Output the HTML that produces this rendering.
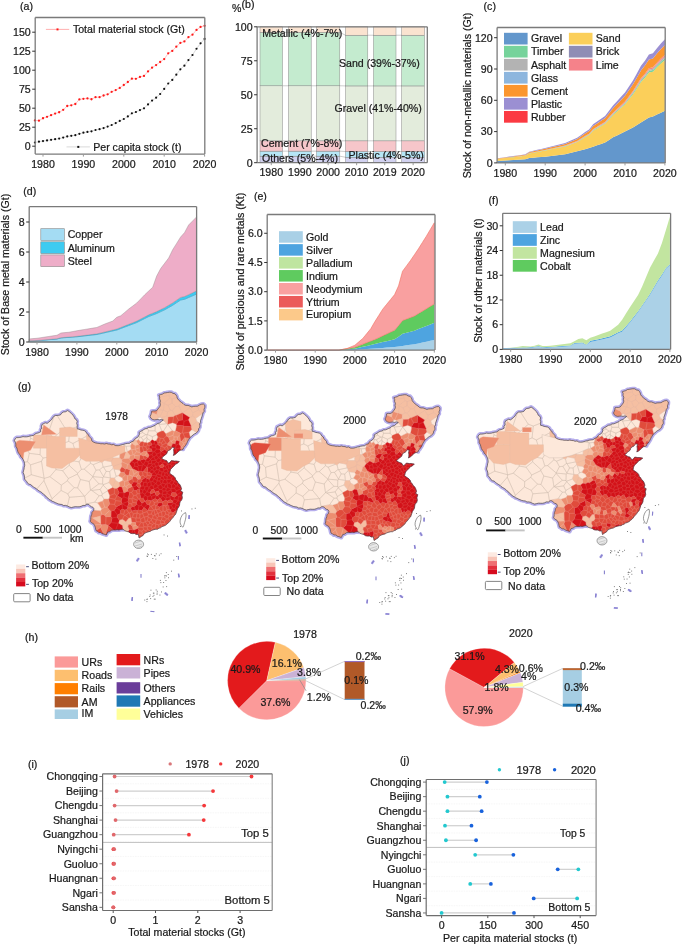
<!DOCTYPE html><html><head><meta charset="utf-8"><style>html,body{margin:0;padding:0;background:#fff;}svg{display:block;font-family:"Liberation Sans",sans-serif;filter:blur(0.3px);} text{stroke:#1a1a1a;stroke-width:0.22px;}</style></head><body>
<svg width="685" height="945" viewBox="0 0 685 945">
<rect x="0" y="0" width="685" height="945" fill="#fff"/>
<text x="20.00" y="9.80" font-size="10.6" text-anchor="start" fill="#1a1a1a" >(a)</text>
<polyline points="34.92,120.44 38.96,120.66 43.00,118.23 47.04,116.79 51.08,115.19 55.12,113.60 59.16,112.23 63.20,109.87 67.24,106.00 71.28,105.31 75.32,104.02 79.36,99.38 83.40,98.78 87.44,98.47 91.48,99.23 95.52,97.18 99.56,97.18 103.60,95.51 107.64,94.37 111.68,91.78 115.72,90.11 119.76,87.91 123.80,85.02 127.84,81.98 131.88,78.71 135.92,78.79 139.96,76.89 144.00,75.90 148.04,71.42 152.08,67.69 156.12,65.03 160.16,61.99 164.20,59.10 168.24,53.33 172.28,50.90 176.32,46.72 180.36,42.92 184.40,41.47 188.44,37.22 192.48,34.63 196.52,29.92 200.56,26.88 204.60,25.82" fill="none" stroke="#ff9a9a" stroke-width="0.6" />
<polyline points="34.92,142.48 38.96,141.72 43.00,141.03 47.04,140.42 51.08,139.82 55.12,139.21 59.16,138.60 63.20,137.54 67.24,136.47 71.28,135.86 75.32,135.18 79.36,133.81 83.40,132.67 87.44,131.91 91.48,131.30 95.52,130.01 99.56,129.18 103.60,128.11 107.64,126.59 111.68,125.00 115.72,123.10 119.76,120.89 123.80,118.99 127.84,116.41 131.88,113.37 135.92,112.00 139.96,110.10 144.00,108.28 148.04,104.40 152.08,100.60 156.12,97.71 160.16,93.99 164.20,88.90 168.24,83.50 172.28,79.93 176.32,74.68 180.36,69.29 184.40,65.72 188.44,60.09 192.48,55.00 196.52,48.77 200.56,43.37 204.60,38.96" fill="none" stroke="#bdbdbd" stroke-width="0.6" />
<circle cx="34.92" cy="120.44" r="1.15" fill="#ff1a1a"/>
<circle cx="38.96" cy="120.66" r="1.15" fill="#ff1a1a"/>
<circle cx="43.00" cy="118.23" r="1.15" fill="#ff1a1a"/>
<circle cx="47.04" cy="116.79" r="1.15" fill="#ff1a1a"/>
<circle cx="51.08" cy="115.19" r="1.15" fill="#ff1a1a"/>
<circle cx="55.12" cy="113.60" r="1.15" fill="#ff1a1a"/>
<circle cx="59.16" cy="112.23" r="1.15" fill="#ff1a1a"/>
<circle cx="63.20" cy="109.87" r="1.15" fill="#ff1a1a"/>
<circle cx="67.24" cy="106.00" r="1.15" fill="#ff1a1a"/>
<circle cx="71.28" cy="105.31" r="1.15" fill="#ff1a1a"/>
<circle cx="75.32" cy="104.02" r="1.15" fill="#ff1a1a"/>
<circle cx="79.36" cy="99.38" r="1.15" fill="#ff1a1a"/>
<circle cx="83.40" cy="98.78" r="1.15" fill="#ff1a1a"/>
<circle cx="87.44" cy="98.47" r="1.15" fill="#ff1a1a"/>
<circle cx="91.48" cy="99.23" r="1.15" fill="#ff1a1a"/>
<circle cx="95.52" cy="97.18" r="1.15" fill="#ff1a1a"/>
<circle cx="99.56" cy="97.18" r="1.15" fill="#ff1a1a"/>
<circle cx="103.60" cy="95.51" r="1.15" fill="#ff1a1a"/>
<circle cx="107.64" cy="94.37" r="1.15" fill="#ff1a1a"/>
<circle cx="111.68" cy="91.78" r="1.15" fill="#ff1a1a"/>
<circle cx="115.72" cy="90.11" r="1.15" fill="#ff1a1a"/>
<circle cx="119.76" cy="87.91" r="1.15" fill="#ff1a1a"/>
<circle cx="123.80" cy="85.02" r="1.15" fill="#ff1a1a"/>
<circle cx="127.84" cy="81.98" r="1.15" fill="#ff1a1a"/>
<circle cx="131.88" cy="78.71" r="1.15" fill="#ff1a1a"/>
<circle cx="135.92" cy="78.79" r="1.15" fill="#ff1a1a"/>
<circle cx="139.96" cy="76.89" r="1.15" fill="#ff1a1a"/>
<circle cx="144.00" cy="75.90" r="1.15" fill="#ff1a1a"/>
<circle cx="148.04" cy="71.42" r="1.15" fill="#ff1a1a"/>
<circle cx="152.08" cy="67.69" r="1.15" fill="#ff1a1a"/>
<circle cx="156.12" cy="65.03" r="1.15" fill="#ff1a1a"/>
<circle cx="160.16" cy="61.99" r="1.15" fill="#ff1a1a"/>
<circle cx="164.20" cy="59.10" r="1.15" fill="#ff1a1a"/>
<circle cx="168.24" cy="53.33" r="1.15" fill="#ff1a1a"/>
<circle cx="172.28" cy="50.90" r="1.15" fill="#ff1a1a"/>
<circle cx="176.32" cy="46.72" r="1.15" fill="#ff1a1a"/>
<circle cx="180.36" cy="42.92" r="1.15" fill="#ff1a1a"/>
<circle cx="184.40" cy="41.47" r="1.15" fill="#ff1a1a"/>
<circle cx="188.44" cy="37.22" r="1.15" fill="#ff1a1a"/>
<circle cx="192.48" cy="34.63" r="1.15" fill="#ff1a1a"/>
<circle cx="196.52" cy="29.92" r="1.15" fill="#ff1a1a"/>
<circle cx="200.56" cy="26.88" r="1.15" fill="#ff1a1a"/>
<circle cx="204.60" cy="25.82" r="1.15" fill="#ff1a1a"/>
<circle cx="34.92" cy="142.48" r="1.1" fill="#111"/>
<circle cx="38.96" cy="141.72" r="1.1" fill="#111"/>
<circle cx="43.00" cy="141.03" r="1.1" fill="#111"/>
<circle cx="47.04" cy="140.42" r="1.1" fill="#111"/>
<circle cx="51.08" cy="139.82" r="1.1" fill="#111"/>
<circle cx="55.12" cy="139.21" r="1.1" fill="#111"/>
<circle cx="59.16" cy="138.60" r="1.1" fill="#111"/>
<circle cx="63.20" cy="137.54" r="1.1" fill="#111"/>
<circle cx="67.24" cy="136.47" r="1.1" fill="#111"/>
<circle cx="71.28" cy="135.86" r="1.1" fill="#111"/>
<circle cx="75.32" cy="135.18" r="1.1" fill="#111"/>
<circle cx="79.36" cy="133.81" r="1.1" fill="#111"/>
<circle cx="83.40" cy="132.67" r="1.1" fill="#111"/>
<circle cx="87.44" cy="131.91" r="1.1" fill="#111"/>
<circle cx="91.48" cy="131.30" r="1.1" fill="#111"/>
<circle cx="95.52" cy="130.01" r="1.1" fill="#111"/>
<circle cx="99.56" cy="129.18" r="1.1" fill="#111"/>
<circle cx="103.60" cy="128.11" r="1.1" fill="#111"/>
<circle cx="107.64" cy="126.59" r="1.1" fill="#111"/>
<circle cx="111.68" cy="125.00" r="1.1" fill="#111"/>
<circle cx="115.72" cy="123.10" r="1.1" fill="#111"/>
<circle cx="119.76" cy="120.89" r="1.1" fill="#111"/>
<circle cx="123.80" cy="118.99" r="1.1" fill="#111"/>
<circle cx="127.84" cy="116.41" r="1.1" fill="#111"/>
<circle cx="131.88" cy="113.37" r="1.1" fill="#111"/>
<circle cx="135.92" cy="112.00" r="1.1" fill="#111"/>
<circle cx="139.96" cy="110.10" r="1.1" fill="#111"/>
<circle cx="144.00" cy="108.28" r="1.1" fill="#111"/>
<circle cx="148.04" cy="104.40" r="1.1" fill="#111"/>
<circle cx="152.08" cy="100.60" r="1.1" fill="#111"/>
<circle cx="156.12" cy="97.71" r="1.1" fill="#111"/>
<circle cx="160.16" cy="93.99" r="1.1" fill="#111"/>
<circle cx="164.20" cy="88.90" r="1.1" fill="#111"/>
<circle cx="168.24" cy="83.50" r="1.1" fill="#111"/>
<circle cx="172.28" cy="79.93" r="1.1" fill="#111"/>
<circle cx="176.32" cy="74.68" r="1.1" fill="#111"/>
<circle cx="180.36" cy="69.29" r="1.1" fill="#111"/>
<circle cx="184.40" cy="65.72" r="1.1" fill="#111"/>
<circle cx="188.44" cy="60.09" r="1.1" fill="#111"/>
<circle cx="192.48" cy="55.00" r="1.1" fill="#111"/>
<circle cx="196.52" cy="48.77" r="1.1" fill="#111"/>
<circle cx="200.56" cy="43.37" r="1.1" fill="#111"/>
<circle cx="204.60" cy="38.96" r="1.1" fill="#111"/>
<line x1="35.20" y1="17.50" x2="35.20" y2="154.10" stroke="#7a7a7a" stroke-width="1.3" />
<line x1="35.20" y1="154.10" x2="204.80" y2="154.10" stroke="#7a7a7a" stroke-width="1.3" />
<line x1="35.20" y1="17.50" x2="204.80" y2="17.50" stroke="#7a7a7a" stroke-width="1.3" />
<line x1="204.80" y1="17.50" x2="204.80" y2="154.10" stroke="#7a7a7a" stroke-width="1.3" />
<line x1="32.20" y1="146.20" x2="35.20" y2="146.20" stroke="#333" stroke-width="1" />
<text x="30.70" y="150.00" font-size="10.6" text-anchor="end" fill="#1a1a1a" >0</text>
<line x1="32.20" y1="127.20" x2="35.20" y2="127.20" stroke="#333" stroke-width="1" />
<text x="30.70" y="131.00" font-size="10.6" text-anchor="end" fill="#1a1a1a" >25</text>
<line x1="32.20" y1="108.20" x2="35.20" y2="108.20" stroke="#333" stroke-width="1" />
<text x="30.70" y="112.00" font-size="10.6" text-anchor="end" fill="#1a1a1a" >50</text>
<line x1="32.20" y1="89.20" x2="35.20" y2="89.20" stroke="#333" stroke-width="1" />
<text x="30.70" y="93.00" font-size="10.6" text-anchor="end" fill="#1a1a1a" >75</text>
<line x1="32.20" y1="70.20" x2="35.20" y2="70.20" stroke="#333" stroke-width="1" />
<text x="30.70" y="74.00" font-size="10.6" text-anchor="end" fill="#1a1a1a" >100</text>
<line x1="32.20" y1="51.20" x2="35.20" y2="51.20" stroke="#333" stroke-width="1" />
<text x="30.70" y="55.00" font-size="10.6" text-anchor="end" fill="#1a1a1a" >125</text>
<line x1="32.20" y1="32.20" x2="35.20" y2="32.20" stroke="#333" stroke-width="1" />
<text x="30.70" y="36.00" font-size="10.6" text-anchor="end" fill="#1a1a1a" >150</text>
<line x1="43.00" y1="154.10" x2="43.00" y2="156.60" stroke="#999" stroke-width="1" />
<text x="43.00" y="167.70" font-size="10.6" text-anchor="middle" fill="#1a1a1a" >1980</text>
<line x1="83.40" y1="154.10" x2="83.40" y2="156.60" stroke="#999" stroke-width="1" />
<text x="83.40" y="167.70" font-size="10.6" text-anchor="middle" fill="#1a1a1a" >1990</text>
<line x1="123.80" y1="154.10" x2="123.80" y2="156.60" stroke="#999" stroke-width="1" />
<text x="123.80" y="167.70" font-size="10.6" text-anchor="middle" fill="#1a1a1a" >2000</text>
<line x1="164.20" y1="154.10" x2="164.20" y2="156.60" stroke="#999" stroke-width="1" />
<text x="164.20" y="167.70" font-size="10.6" text-anchor="middle" fill="#1a1a1a" >2010</text>
<line x1="204.60" y1="154.10" x2="204.60" y2="156.60" stroke="#999" stroke-width="1" />
<text x="204.60" y="167.70" font-size="10.6" text-anchor="middle" fill="#1a1a1a" >2020</text>
<line x1="45.90" y1="29.40" x2="69.20" y2="29.40" stroke="#ff9a9a" stroke-width="0.8" />
<rect x="56.50" y="28.40" width="2.00" height="2.00" fill="#ff1a1a" stroke="none" stroke-width="0" />
<text x="72.90" y="33.30" font-size="10.6" text-anchor="start" fill="#1a1a1a" >Total material stock (Gt)</text>
<line x1="66.50" y1="146.90" x2="89.90" y2="146.90" stroke="#cfcfcf" stroke-width="0.8" />
<rect x="77.30" y="145.90" width="2.00" height="2.00" fill="#111" stroke="none" stroke-width="0" />
<text x="93.20" y="150.90" font-size="10.6" text-anchor="start" fill="#1a1a1a" >Per capita stock (t)</text>
<text x="232" y="11.5" font-size="10.6" fill="#1a1a1a">%</text>
<text x="241.60" y="7.60" font-size="10.6" text-anchor="start" fill="#1a1a1a" >(b)</text>
<rect x="260.00" y="156.18" width="22.50" height="6.52" fill="#d2d2f0" stroke="#8a8a8a" stroke-width="0.5" />
<rect x="260.00" y="151.15" width="22.50" height="5.03" fill="#b6e6f6" stroke="#8a8a8a" stroke-width="0.5" />
<rect x="260.00" y="140.82" width="22.50" height="10.33" fill="#f6c6ca" stroke="#8a8a8a" stroke-width="0.5" />
<rect x="260.00" y="85.78" width="22.50" height="55.04" fill="#e3ecdc" stroke="#8a8a8a" stroke-width="0.5" />
<rect x="260.00" y="32.37" width="22.50" height="53.41" fill="#c4ebcf" stroke="#8a8a8a" stroke-width="0.5" />
<rect x="260.00" y="26.80" width="22.50" height="5.57" fill="#fae3d0" stroke="#8a8a8a" stroke-width="0.5" />
<rect x="288.40" y="156.18" width="22.80" height="6.52" fill="#d2d2f0" stroke="#8a8a8a" stroke-width="0.5" />
<rect x="288.40" y="151.15" width="22.80" height="5.03" fill="#b6e6f6" stroke="#8a8a8a" stroke-width="0.5" />
<rect x="288.40" y="140.82" width="22.80" height="10.33" fill="#f6c6ca" stroke="#8a8a8a" stroke-width="0.5" />
<rect x="288.40" y="85.78" width="22.80" height="55.04" fill="#e3ecdc" stroke="#8a8a8a" stroke-width="0.5" />
<rect x="288.40" y="32.37" width="22.80" height="53.41" fill="#c4ebcf" stroke="#8a8a8a" stroke-width="0.5" />
<rect x="288.40" y="26.80" width="22.80" height="5.57" fill="#fae3d0" stroke="#8a8a8a" stroke-width="0.5" />
<rect x="316.50" y="156.18" width="23.30" height="6.52" fill="#d2d2f0" stroke="#8a8a8a" stroke-width="0.5" />
<rect x="316.50" y="151.15" width="23.30" height="5.03" fill="#b6e6f6" stroke="#8a8a8a" stroke-width="0.5" />
<rect x="316.50" y="140.82" width="23.30" height="10.33" fill="#f6c6ca" stroke="#8a8a8a" stroke-width="0.5" />
<rect x="316.50" y="85.78" width="23.30" height="55.04" fill="#e3ecdc" stroke="#8a8a8a" stroke-width="0.5" />
<rect x="316.50" y="32.37" width="23.30" height="53.41" fill="#c4ebcf" stroke="#8a8a8a" stroke-width="0.5" />
<rect x="316.50" y="26.80" width="23.30" height="5.57" fill="#fae3d0" stroke="#8a8a8a" stroke-width="0.5" />
<rect x="345.50" y="157.26" width="22.30" height="5.44" fill="#d2d2f0" stroke="#8a8a8a" stroke-width="0.5" />
<rect x="345.50" y="151.56" width="22.30" height="5.71" fill="#b6e6f6" stroke="#8a8a8a" stroke-width="0.5" />
<rect x="345.50" y="140.82" width="22.30" height="10.74" fill="#f6c6ca" stroke="#8a8a8a" stroke-width="0.5" />
<rect x="345.50" y="85.92" width="22.30" height="54.90" fill="#e3ecdc" stroke="#8a8a8a" stroke-width="0.5" />
<rect x="345.50" y="35.23" width="22.30" height="50.69" fill="#c4ebcf" stroke="#8a8a8a" stroke-width="0.5" />
<rect x="345.50" y="26.80" width="22.30" height="8.43" fill="#fae3d0" stroke="#8a8a8a" stroke-width="0.5" />
<rect x="373.50" y="157.26" width="22.50" height="5.44" fill="#d2d2f0" stroke="#8a8a8a" stroke-width="0.5" />
<rect x="373.50" y="151.56" width="22.50" height="5.71" fill="#b6e6f6" stroke="#8a8a8a" stroke-width="0.5" />
<rect x="373.50" y="140.82" width="22.50" height="10.74" fill="#f6c6ca" stroke="#8a8a8a" stroke-width="0.5" />
<rect x="373.50" y="85.92" width="22.50" height="54.90" fill="#e3ecdc" stroke="#8a8a8a" stroke-width="0.5" />
<rect x="373.50" y="35.23" width="22.50" height="50.69" fill="#c4ebcf" stroke="#8a8a8a" stroke-width="0.5" />
<rect x="373.50" y="26.80" width="22.50" height="8.43" fill="#fae3d0" stroke="#8a8a8a" stroke-width="0.5" />
<rect x="401.60" y="157.26" width="23.10" height="5.44" fill="#d2d2f0" stroke="#8a8a8a" stroke-width="0.5" />
<rect x="401.60" y="151.56" width="23.10" height="5.71" fill="#b6e6f6" stroke="#8a8a8a" stroke-width="0.5" />
<rect x="401.60" y="140.82" width="23.10" height="10.74" fill="#f6c6ca" stroke="#8a8a8a" stroke-width="0.5" />
<rect x="401.60" y="85.92" width="23.10" height="54.90" fill="#e3ecdc" stroke="#8a8a8a" stroke-width="0.5" />
<rect x="401.60" y="35.23" width="23.10" height="50.69" fill="#c4ebcf" stroke="#8a8a8a" stroke-width="0.5" />
<rect x="401.60" y="26.80" width="23.10" height="8.43" fill="#fae3d0" stroke="#8a8a8a" stroke-width="0.5" />
<line x1="282.50" y1="156.18" x2="288.40" y2="156.18" stroke="#9a9a9a" stroke-width="0.5" />
<line x1="282.50" y1="151.15" x2="288.40" y2="151.15" stroke="#9a9a9a" stroke-width="0.5" />
<line x1="282.50" y1="140.82" x2="288.40" y2="140.82" stroke="#9a9a9a" stroke-width="0.5" />
<line x1="282.50" y1="85.78" x2="288.40" y2="85.78" stroke="#9a9a9a" stroke-width="0.5" />
<line x1="282.50" y1="32.37" x2="288.40" y2="32.37" stroke="#9a9a9a" stroke-width="0.5" />
<line x1="311.20" y1="156.18" x2="316.50" y2="156.18" stroke="#9a9a9a" stroke-width="0.5" />
<line x1="311.20" y1="151.15" x2="316.50" y2="151.15" stroke="#9a9a9a" stroke-width="0.5" />
<line x1="311.20" y1="140.82" x2="316.50" y2="140.82" stroke="#9a9a9a" stroke-width="0.5" />
<line x1="311.20" y1="85.78" x2="316.50" y2="85.78" stroke="#9a9a9a" stroke-width="0.5" />
<line x1="311.20" y1="32.37" x2="316.50" y2="32.37" stroke="#9a9a9a" stroke-width="0.5" />
<line x1="339.80" y1="156.18" x2="345.50" y2="157.26" stroke="#9a9a9a" stroke-width="0.5" />
<line x1="339.80" y1="151.15" x2="345.50" y2="151.56" stroke="#9a9a9a" stroke-width="0.5" />
<line x1="339.80" y1="140.82" x2="345.50" y2="140.82" stroke="#9a9a9a" stroke-width="0.5" />
<line x1="339.80" y1="85.78" x2="345.50" y2="85.92" stroke="#9a9a9a" stroke-width="0.5" />
<line x1="339.80" y1="32.37" x2="345.50" y2="35.23" stroke="#9a9a9a" stroke-width="0.5" />
<line x1="367.80" y1="157.26" x2="373.50" y2="157.26" stroke="#9a9a9a" stroke-width="0.5" />
<line x1="367.80" y1="151.56" x2="373.50" y2="151.56" stroke="#9a9a9a" stroke-width="0.5" />
<line x1="367.80" y1="140.82" x2="373.50" y2="140.82" stroke="#9a9a9a" stroke-width="0.5" />
<line x1="367.80" y1="85.92" x2="373.50" y2="85.92" stroke="#9a9a9a" stroke-width="0.5" />
<line x1="367.80" y1="35.23" x2="373.50" y2="35.23" stroke="#9a9a9a" stroke-width="0.5" />
<line x1="396.00" y1="157.26" x2="401.60" y2="157.26" stroke="#9a9a9a" stroke-width="0.5" />
<line x1="396.00" y1="151.56" x2="401.60" y2="151.56" stroke="#9a9a9a" stroke-width="0.5" />
<line x1="396.00" y1="140.82" x2="401.60" y2="140.82" stroke="#9a9a9a" stroke-width="0.5" />
<line x1="396.00" y1="85.92" x2="401.60" y2="85.92" stroke="#9a9a9a" stroke-width="0.5" />
<line x1="396.00" y1="35.23" x2="401.60" y2="35.23" stroke="#9a9a9a" stroke-width="0.5" />
<line x1="257.10" y1="26.80" x2="257.10" y2="162.70" stroke="#7a7a7a" stroke-width="1.3" />
<line x1="257.10" y1="162.70" x2="427.30" y2="162.70" stroke="#7a7a7a" stroke-width="1.3" />
<line x1="257.10" y1="26.80" x2="427.30" y2="26.80" stroke="#7a7a7a" stroke-width="1.3" />
<line x1="427.30" y1="26.80" x2="427.30" y2="162.70" stroke="#7a7a7a" stroke-width="1.3" />
<line x1="254.10" y1="162.70" x2="257.10" y2="162.70" stroke="#333" stroke-width="1" />
<text x="252.60" y="166.50" font-size="10.6" text-anchor="end" fill="#1a1a1a" >0</text>
<line x1="254.10" y1="128.72" x2="257.10" y2="128.72" stroke="#333" stroke-width="1" />
<text x="252.60" y="132.53" font-size="10.6" text-anchor="end" fill="#1a1a1a" >25</text>
<line x1="254.10" y1="94.75" x2="257.10" y2="94.75" stroke="#333" stroke-width="1" />
<text x="252.60" y="98.55" font-size="10.6" text-anchor="end" fill="#1a1a1a" >50</text>
<line x1="254.10" y1="60.77" x2="257.10" y2="60.77" stroke="#333" stroke-width="1" />
<text x="252.60" y="64.57" font-size="10.6" text-anchor="end" fill="#1a1a1a" >75</text>
<line x1="254.10" y1="26.80" x2="257.10" y2="26.80" stroke="#333" stroke-width="1" />
<text x="252.60" y="30.60" font-size="10.6" text-anchor="end" fill="#1a1a1a" >100</text>
<line x1="271.25" y1="162.70" x2="271.25" y2="165.20" stroke="#999" stroke-width="1" />
<text x="271.25" y="176.00" font-size="10.6" text-anchor="middle" fill="#1a1a1a" >1980</text>
<line x1="299.80" y1="162.70" x2="299.80" y2="165.20" stroke="#999" stroke-width="1" />
<text x="299.80" y="176.00" font-size="10.6" text-anchor="middle" fill="#1a1a1a" >1990</text>
<line x1="328.15" y1="162.70" x2="328.15" y2="165.20" stroke="#999" stroke-width="1" />
<text x="328.15" y="176.00" font-size="10.6" text-anchor="middle" fill="#1a1a1a" >2000</text>
<line x1="356.65" y1="162.70" x2="356.65" y2="165.20" stroke="#999" stroke-width="1" />
<text x="356.65" y="176.00" font-size="10.6" text-anchor="middle" fill="#1a1a1a" >2010</text>
<line x1="384.75" y1="162.70" x2="384.75" y2="165.20" stroke="#999" stroke-width="1" />
<text x="384.75" y="176.00" font-size="10.6" text-anchor="middle" fill="#1a1a1a" >2019</text>
<line x1="413.15" y1="162.70" x2="413.15" y2="165.20" stroke="#999" stroke-width="1" />
<text x="413.15" y="176.00" font-size="10.6" text-anchor="middle" fill="#1a1a1a" >2020</text>
<text x="262.20" y="36.50" font-size="10.6" text-anchor="start" fill="#1a1a1a" >Metallic (4%-7%)</text>
<text x="339.00" y="66.50" font-size="10.6" text-anchor="start" fill="#1a1a1a" >Sand (39%-37%)</text>
<text x="334.60" y="111.50" font-size="10.6" text-anchor="start" fill="#1a1a1a" >Gravel (41%-40%)</text>
<text x="261.00" y="147.20" font-size="10.6" text-anchor="start" fill="#1a1a1a" >Cement (7%-8%)</text>
<text x="262.00" y="161.50" font-size="10.6" text-anchor="start" fill="#1a1a1a" >Others (5%-4%)</text>
<text x="348.50" y="158.50" font-size="10.6" text-anchor="start" fill="#1a1a1a" >Plastic (4%-5%)</text>
<text x="483.60" y="9.90" font-size="10.6" text-anchor="start" fill="#1a1a1a" >(c)</text>
<polygon points="497.32,160.92 501.31,160.71 505.30,160.50 509.29,160.27 513.28,160.03 517.27,159.80 521.26,159.56 525.25,159.14 529.24,158.10 533.23,157.74 537.22,157.37 541.21,157.01 545.20,156.64 549.19,156.16 553.18,155.68 557.17,155.20 561.16,154.72 565.15,154.24 569.14,153.26 573.13,152.28 577.12,151.30 581.11,150.32 585.10,149.34 589.09,148.03 593.08,146.73 597.07,145.34 601.06,143.95 605.05,142.56 609.04,139.95 613.03,137.34 617.02,135.43 621.01,133.51 625.00,131.60 628.99,129.51 632.98,127.43 636.97,124.99 640.96,122.56 644.95,120.12 648.94,117.52 652.93,116.47 656.92,114.56 660.91,112.65 664.90,110.74 664.90,162.90 660.91,162.90 656.92,162.90 652.93,162.90 648.94,162.90 644.95,162.90 640.96,162.90 636.97,162.90 632.98,162.90 628.99,162.90 625.00,162.90 621.01,162.90 617.02,162.90 613.03,162.90 609.04,162.90 605.05,162.90 601.06,162.90 597.07,162.90 593.08,162.90 589.09,162.90 585.10,162.90 581.11,162.90 577.12,162.90 573.13,162.90 569.14,162.90 565.15,162.90 561.16,162.90 557.17,162.90 553.18,162.90 549.19,162.90 545.20,162.90 541.21,162.90 537.22,162.90 533.23,162.90 529.24,162.90 525.25,162.90 521.26,162.90 517.27,162.90 513.28,162.90 509.29,162.90 505.30,162.90 501.31,162.90 497.32,162.90" fill="#6397cc" stroke="none" stroke-width="0" stroke-linejoin="round"/>
<polygon points="497.32,159.08 501.31,158.60 505.30,158.12 509.29,157.66 513.28,157.21 517.27,156.75 521.26,156.30 525.25,155.69 529.24,153.51 533.23,152.75 537.22,151.99 541.21,151.23 545.20,150.47 549.19,149.66 553.18,148.84 557.17,148.02 561.16,147.20 565.15,146.39 569.14,144.94 573.13,143.49 577.12,142.04 581.11,139.65 585.10,137.26 589.09,135.09 593.08,130.74 597.07,128.43 601.06,126.11 605.05,123.79 609.04,119.45 613.03,115.10 617.02,111.48 621.01,107.86 625.00,104.24 628.99,99.24 632.98,94.24 636.97,88.16 640.96,82.08 644.95,77.73 648.94,72.52 652.93,71.65 656.92,67.30 660.91,63.39 664.90,59.92 664.90,110.74 660.91,112.65 656.92,114.56 652.93,116.47 648.94,117.52 644.95,120.12 640.96,122.56 636.97,124.99 632.98,127.43 628.99,129.51 625.00,131.60 621.01,133.51 617.02,135.43 613.03,137.34 609.04,139.95 605.05,142.56 601.06,143.95 597.07,145.34 593.08,146.73 589.09,148.03 585.10,149.34 581.11,150.32 577.12,151.30 573.13,152.28 569.14,153.26 565.15,154.24 561.16,154.72 557.17,155.20 553.18,155.68 549.19,156.16 545.20,156.64 541.21,157.01 537.22,157.37 533.23,157.74 529.24,158.10 525.25,159.14 521.26,159.56 517.27,159.80 513.28,160.03 509.29,160.27 505.30,160.50 501.31,160.71 497.32,160.92" fill="#fbcf5a" stroke="none" stroke-width="0" stroke-linejoin="round"/>
<polygon points="497.32,159.01 501.31,158.53 505.30,158.04 509.29,157.58 513.28,157.11 517.27,156.65 521.26,156.18 525.25,155.57 529.24,153.36 533.23,152.58 537.22,151.81 541.21,151.04 545.20,150.26 549.19,149.43 553.18,148.60 557.17,147.77 561.16,146.94 565.15,146.11 569.14,144.64 573.13,143.16 577.12,141.69 581.11,139.26 585.10,136.83 589.09,134.62 593.08,130.20 597.07,127.85 601.06,125.49 605.05,123.13 609.04,118.72 613.03,114.30 617.02,110.62 621.01,106.93 625.00,103.25 628.99,98.17 632.98,93.09 636.97,86.90 640.96,80.72 644.95,76.30 648.94,71.00 652.93,70.11 656.92,65.70 660.91,61.72 664.90,58.18 664.90,59.92 660.91,63.39 656.92,67.30 652.93,71.65 648.94,72.52 644.95,77.73 640.96,82.08 636.97,88.16 632.98,94.24 628.99,99.24 625.00,104.24 621.01,107.86 617.02,111.48 613.03,115.10 609.04,119.45 605.05,123.79 601.06,126.11 597.07,128.43 593.08,130.74 589.09,135.09 585.10,137.26 581.11,139.65 577.12,142.04 573.13,143.49 569.14,144.94 565.15,146.39 561.16,147.20 557.17,148.02 553.18,148.84 549.19,149.66 545.20,150.47 541.21,151.23 537.22,151.99 533.23,152.75 529.24,153.51 525.25,155.69 521.26,156.30 517.27,156.75 513.28,157.21 509.29,157.66 505.30,158.12 501.31,158.60 497.32,159.08" fill="#76d39b" stroke="none" stroke-width="0" stroke-linejoin="round"/>
<polygon points="497.32,158.96 501.31,158.46 505.30,157.97 509.29,157.50 513.28,157.03 517.27,156.56 521.26,156.09 525.25,155.46 529.24,153.22 533.23,152.44 537.22,151.65 541.21,150.87 545.20,150.08 549.19,149.24 553.18,148.40 557.17,147.56 561.16,146.71 565.15,145.87 569.14,144.38 573.13,142.88 577.12,141.39 581.11,138.93 585.10,136.46 589.09,134.22 593.08,129.74 597.07,127.35 601.06,124.96 605.05,122.57 609.04,118.09 613.03,113.61 617.02,109.88 621.01,106.14 625.00,102.41 628.99,97.25 632.98,92.10 636.97,85.83 640.96,79.55 644.95,75.07 648.94,69.70 652.93,68.80 656.92,64.32 660.91,60.29 664.90,56.70 664.90,58.18 660.91,61.72 656.92,65.70 652.93,70.11 648.94,71.00 644.95,76.30 640.96,80.72 636.97,86.90 632.98,93.09 628.99,98.17 625.00,103.25 621.01,106.93 617.02,110.62 613.03,114.30 609.04,118.72 605.05,123.13 601.06,125.49 597.07,127.85 593.08,130.20 589.09,134.62 585.10,136.83 581.11,139.26 577.12,141.69 573.13,143.16 569.14,144.64 565.15,146.11 561.16,146.94 557.17,147.77 553.18,148.60 549.19,149.43 545.20,150.26 541.21,151.04 537.22,151.81 533.23,152.58 529.24,153.36 525.25,155.57 521.26,156.18 517.27,156.65 513.28,157.11 509.29,157.58 505.30,158.04 501.31,158.53 497.32,159.01" fill="#b3b3b3" stroke="none" stroke-width="0" stroke-linejoin="round"/>
<polygon points="497.32,158.89 501.31,158.39 505.30,157.89 509.29,157.41 513.28,156.93 517.27,156.46 521.26,155.98 525.25,155.34 529.24,153.06 533.23,152.27 537.22,151.47 541.21,150.67 545.20,149.88 549.19,149.02 553.18,148.16 557.17,147.31 561.16,146.45 565.15,145.59 569.14,144.08 573.13,142.56 577.12,141.04 581.11,138.54 585.10,136.03 589.09,133.75 593.08,129.20 597.07,126.77 601.06,124.34 605.05,121.91 609.04,117.36 613.03,112.81 617.02,109.01 621.01,105.22 625.00,101.42 628.99,96.18 632.98,90.95 636.97,84.57 640.96,78.20 644.95,73.64 648.94,68.18 652.93,67.27 656.92,62.71 660.91,58.61 664.90,54.97 664.90,56.70 660.91,60.29 656.92,64.32 652.93,68.80 648.94,69.70 644.95,75.07 640.96,79.55 636.97,85.83 632.98,92.10 628.99,97.25 625.00,102.41 621.01,106.14 617.02,109.88 613.03,113.61 609.04,118.09 605.05,122.57 601.06,124.96 597.07,127.35 593.08,129.74 589.09,134.22 585.10,136.46 581.11,138.93 577.12,141.39 573.13,142.88 569.14,144.38 565.15,145.87 561.16,146.71 557.17,147.56 553.18,148.40 549.19,149.24 545.20,150.08 541.21,150.87 537.22,151.65 533.23,152.44 529.24,153.22 525.25,155.46 521.26,156.09 517.27,156.56 513.28,157.03 509.29,157.50 505.30,157.97 501.31,158.46 497.32,158.96" fill="#f3848a" stroke="none" stroke-width="0" stroke-linejoin="round"/>
<polygon points="497.32,158.53 501.31,157.98 505.30,157.43 509.29,156.91 513.28,156.39 517.27,155.87 521.26,155.34 525.25,154.65 529.24,152.16 533.23,151.29 537.22,150.42 541.21,149.55 545.20,148.68 549.19,147.75 553.18,146.81 557.17,145.88 561.16,144.94 565.15,144.01 569.14,142.35 573.13,140.69 577.12,139.04 581.11,136.30 585.10,133.57 589.09,131.08 593.08,126.11 597.07,123.46 601.06,120.81 605.05,118.16 609.04,113.19 613.03,108.22 617.02,104.07 621.01,99.93 625.00,95.79 628.99,90.07 632.98,84.35 636.97,77.39 640.96,70.43 644.95,65.46 648.94,59.50 652.93,58.50 656.92,53.53 660.91,49.06 664.90,45.08 664.90,54.97 660.91,58.61 656.92,62.71 652.93,67.27 648.94,68.18 644.95,73.64 640.96,78.20 636.97,84.57 632.98,90.95 628.99,96.18 625.00,101.42 621.01,105.22 617.02,109.01 613.03,112.81 609.04,117.36 605.05,121.91 601.06,124.34 597.07,126.77 593.08,129.20 589.09,133.75 585.10,136.03 581.11,138.54 577.12,141.04 573.13,142.56 569.14,144.08 565.15,145.59 561.16,146.45 557.17,147.31 553.18,148.16 549.19,149.02 545.20,149.88 541.21,150.67 537.22,151.47 533.23,152.27 529.24,153.06 525.25,155.34 521.26,155.98 517.27,156.46 513.28,156.93 509.29,157.41 505.30,157.89 501.31,158.39 497.32,158.89" fill="#fb962f" stroke="none" stroke-width="0" stroke-linejoin="round"/>
<polygon points="497.32,158.31 501.31,157.74 505.30,157.16 509.29,156.61 513.28,156.07 517.27,155.52 521.26,154.97 525.25,154.24 529.24,151.63 533.23,150.72 537.22,149.81 541.21,148.89 545.20,147.98 549.19,147.00 553.18,146.02 557.17,145.04 561.16,144.06 565.15,143.08 569.14,141.34 573.13,139.60 577.12,137.86 581.11,134.99 585.10,132.12 589.09,129.51 593.08,124.30 597.07,121.52 601.06,118.73 605.05,115.95 609.04,110.74 613.03,105.52 617.02,101.17 621.01,96.82 625.00,92.48 628.99,86.48 632.98,80.48 636.97,73.18 640.96,65.87 644.95,60.66 648.94,54.40 652.93,53.35 656.92,48.14 660.91,43.44 664.90,39.27 664.90,45.08 660.91,49.06 656.92,53.53 652.93,58.50 648.94,59.50 644.95,65.46 640.96,70.43 636.97,77.39 632.98,84.35 628.99,90.07 625.00,95.79 621.01,99.93 617.02,104.07 613.03,108.22 609.04,113.19 605.05,118.16 601.06,120.81 597.07,123.46 593.08,126.11 589.09,131.08 585.10,133.57 581.11,136.30 577.12,139.04 573.13,140.69 569.14,142.35 565.15,144.01 561.16,144.94 557.17,145.88 553.18,146.81 549.19,147.75 545.20,148.68 541.21,149.55 537.22,150.42 533.23,151.29 529.24,152.16 525.25,154.65 521.26,155.34 517.27,155.87 513.28,156.39 509.29,156.91 505.30,157.43 501.31,157.98 497.32,158.53" fill="#9b8fd2" stroke="none" stroke-width="0" stroke-linejoin="round"/>
<line x1="497.10" y1="27.50" x2="497.10" y2="162.90" stroke="#7a7a7a" stroke-width="1.3" />
<line x1="497.10" y1="162.90" x2="665.20" y2="162.90" stroke="#7a7a7a" stroke-width="1.3" />
<line x1="497.10" y1="27.50" x2="665.20" y2="27.50" stroke="#7a7a7a" stroke-width="1.3" />
<line x1="665.20" y1="27.50" x2="665.20" y2="162.90" stroke="#7a7a7a" stroke-width="1.3" />
<line x1="494.10" y1="162.90" x2="497.10" y2="162.90" stroke="#333" stroke-width="1" />
<text x="492.60" y="166.70" font-size="10.6" text-anchor="end" fill="#1a1a1a" >0</text>
<line x1="494.10" y1="131.60" x2="497.10" y2="131.60" stroke="#333" stroke-width="1" />
<text x="492.60" y="135.40" font-size="10.6" text-anchor="end" fill="#1a1a1a" >30</text>
<line x1="494.10" y1="100.30" x2="497.10" y2="100.30" stroke="#333" stroke-width="1" />
<text x="492.60" y="104.10" font-size="10.6" text-anchor="end" fill="#1a1a1a" >60</text>
<line x1="494.10" y1="69.00" x2="497.10" y2="69.00" stroke="#333" stroke-width="1" />
<text x="492.60" y="72.80" font-size="10.6" text-anchor="end" fill="#1a1a1a" >90</text>
<line x1="494.10" y1="37.70" x2="497.10" y2="37.70" stroke="#333" stroke-width="1" />
<text x="492.60" y="41.50" font-size="10.6" text-anchor="end" fill="#1a1a1a" >120</text>
<line x1="505.30" y1="162.90" x2="505.30" y2="165.40" stroke="#999" stroke-width="1" />
<text x="505.30" y="176.50" font-size="10.6" text-anchor="middle" fill="#1a1a1a" >1980</text>
<line x1="545.20" y1="162.90" x2="545.20" y2="165.40" stroke="#999" stroke-width="1" />
<text x="545.20" y="176.50" font-size="10.6" text-anchor="middle" fill="#1a1a1a" >1990</text>
<line x1="585.10" y1="162.90" x2="585.10" y2="165.40" stroke="#999" stroke-width="1" />
<text x="585.10" y="176.50" font-size="10.6" text-anchor="middle" fill="#1a1a1a" >2000</text>
<line x1="625.00" y1="162.90" x2="625.00" y2="165.40" stroke="#999" stroke-width="1" />
<text x="625.00" y="176.50" font-size="10.6" text-anchor="middle" fill="#1a1a1a" >2010</text>
<line x1="664.90" y1="162.90" x2="664.90" y2="165.40" stroke="#999" stroke-width="1" />
<text x="664.90" y="176.50" font-size="10.6" text-anchor="middle" fill="#1a1a1a" >2020</text>
<text x="471.20" y="95.50" font-size="10.6" text-anchor="middle" fill="#1a1a1a" transform="rotate(-90 471.20 95.50)">Stock of non-metallic materials (Gt)</text>
<rect x="504.00" y="32.80" width="23.60" height="11.70" fill="#6397cc" stroke="none" stroke-width="0" />
<text x="530.90" y="42.45" font-size="10.6" text-anchor="start" fill="#1a1a1a" >Gravel</text>
<rect x="504.00" y="45.83" width="23.60" height="11.70" fill="#76d39b" stroke="none" stroke-width="0" />
<text x="530.90" y="55.48" font-size="10.6" text-anchor="start" fill="#1a1a1a" >Timber</text>
<rect x="504.00" y="58.86" width="23.60" height="11.70" fill="#b3b3b3" stroke="none" stroke-width="0" />
<text x="530.90" y="68.51" font-size="10.6" text-anchor="start" fill="#1a1a1a" >Asphalt</text>
<rect x="504.00" y="71.89" width="23.60" height="11.70" fill="#8db6de" stroke="none" stroke-width="0" />
<text x="530.90" y="81.54" font-size="10.6" text-anchor="start" fill="#1a1a1a" >Glass</text>
<rect x="504.00" y="84.92" width="23.60" height="11.70" fill="#fb962f" stroke="none" stroke-width="0" />
<text x="530.90" y="94.57" font-size="10.6" text-anchor="start" fill="#1a1a1a" >Cement</text>
<rect x="504.00" y="97.95" width="23.60" height="11.70" fill="#9b8fd2" stroke="none" stroke-width="0" />
<text x="530.90" y="107.60" font-size="10.6" text-anchor="start" fill="#1a1a1a" >Plastic</text>
<rect x="504.00" y="110.98" width="23.60" height="11.70" fill="#fb3a42" stroke="none" stroke-width="0" />
<text x="530.90" y="120.63" font-size="10.6" text-anchor="start" fill="#1a1a1a" >Rubber</text>
<rect x="568.90" y="32.80" width="23.60" height="11.70" fill="#fbcf5a" stroke="none" stroke-width="0" />
<text x="595.80" y="42.45" font-size="10.6" text-anchor="start" fill="#1a1a1a" >Sand</text>
<rect x="568.90" y="45.83" width="23.60" height="11.70" fill="#8f8db5" stroke="none" stroke-width="0" />
<text x="595.80" y="55.48" font-size="10.6" text-anchor="start" fill="#1a1a1a" >Brick</text>
<rect x="568.90" y="58.86" width="23.60" height="11.70" fill="#f5828a" stroke="none" stroke-width="0" />
<text x="595.80" y="68.51" font-size="10.6" text-anchor="start" fill="#1a1a1a" >Lime</text>
<text x="23.30" y="194.80" font-size="10.6" text-anchor="start" fill="#1a1a1a" >(d)</text>
<polygon points="29.02,340.95 33.01,340.80 37.00,340.65 40.99,340.32 44.98,339.99 48.97,339.66 52.96,339.33 56.95,339.00 60.94,337.95 64.93,337.65 68.92,337.35 72.91,337.05 76.90,336.75 80.89,336.30 84.88,335.85 88.87,335.40 92.86,334.95 96.85,334.50 100.84,333.60 104.83,332.70 108.82,331.80 112.81,330.90 116.80,330.00 120.79,328.50 124.78,327.00 128.77,325.50 132.76,324.00 136.75,322.50 140.74,320.50 144.73,318.50 148.72,316.50 152.71,315.00 156.70,313.50 160.69,311.62 164.68,309.75 168.67,307.50 172.66,305.25 176.65,302.62 180.64,300.00 184.63,299.25 188.62,297.50 192.61,295.75 196.60,294.00 196.60,342.00 192.61,342.00 188.62,342.00 184.63,342.00 180.64,342.00 176.65,342.00 172.66,342.00 168.67,342.00 164.68,342.00 160.69,342.00 156.70,342.00 152.71,342.00 148.72,342.00 144.73,342.00 140.74,342.00 136.75,342.00 132.76,342.00 128.77,342.00 124.78,342.00 120.79,342.00 116.80,342.00 112.81,342.00 108.82,342.00 104.83,342.00 100.84,342.00 96.85,342.00 92.86,342.00 88.87,342.00 84.88,342.00 80.89,342.00 76.90,342.00 72.91,342.00 68.92,342.00 64.93,342.00 60.94,342.00 56.95,342.00 52.96,342.00 48.97,342.00 44.98,342.00 40.99,342.00 37.00,342.00 33.01,342.00 29.02,342.00" fill="#a4dcf3" stroke="#5aa0c0" stroke-width="0.45" stroke-linejoin="round"/>
<polygon points="29.02,340.80 33.01,340.65 37.00,340.49 40.99,340.15 44.98,339.81 48.97,339.47 52.96,339.12 56.95,338.77 60.94,337.69 64.93,337.36 68.92,337.03 72.91,336.69 76.90,336.36 80.89,335.86 84.88,335.37 88.87,334.87 92.86,334.36 96.85,333.86 100.84,332.90 104.83,331.94 108.82,330.97 112.81,330.00 116.80,329.03 120.79,327.45 124.78,325.87 128.77,324.29 132.76,322.70 136.75,321.11 140.74,319.02 144.73,316.92 148.72,314.82 152.71,313.22 156.70,311.61 160.69,309.62 164.68,307.63 168.67,305.27 172.66,302.90 176.65,300.15 180.64,297.39 184.63,296.51 188.62,294.63 192.61,292.74 196.60,290.85 196.60,294.00 192.61,295.75 188.62,297.50 184.63,299.25 180.64,300.00 176.65,302.62 172.66,305.25 168.67,307.50 164.68,309.75 160.69,311.62 156.70,313.50 152.71,315.00 148.72,316.50 144.73,318.50 140.74,320.50 136.75,322.50 132.76,324.00 128.77,325.50 124.78,327.00 120.79,328.50 116.80,330.00 112.81,330.90 108.82,331.80 104.83,332.70 100.84,333.60 96.85,334.50 92.86,334.95 88.87,335.40 84.88,335.85 80.89,336.30 76.90,336.75 72.91,337.05 68.92,337.35 64.93,337.65 60.94,337.95 56.95,339.00 52.96,339.33 48.97,339.66 44.98,339.99 40.99,340.32 37.00,340.65 33.01,340.80 29.02,340.95" fill="#3ecbf1" stroke="#2b9fc4" stroke-width="0.45" stroke-linejoin="round"/>
<polygon points="29.02,339.00 33.01,338.62 37.00,338.25 40.99,337.65 44.98,337.05 48.97,336.45 52.96,335.85 56.95,335.25 60.94,333.00 64.93,332.62 68.92,332.25 72.91,331.50 76.90,330.75 80.89,330.09 84.88,329.43 88.87,328.77 92.86,328.11 96.85,327.45 100.84,325.73 104.83,324.00 108.82,322.50 112.81,321.00 116.80,317.25 120.79,315.75 124.78,312.38 128.77,309.00 132.76,306.00 136.75,303.00 140.74,298.88 144.73,294.75 148.72,291.00 152.71,287.25 156.70,276.00 160.69,268.50 164.68,263.25 168.67,258.00 172.66,249.75 176.65,243.38 180.64,237.00 184.63,232.50 188.62,225.00 192.61,220.95 196.60,216.90 196.60,290.85 192.61,292.74 188.62,294.63 184.63,296.51 180.64,297.39 176.65,300.15 172.66,302.90 168.67,305.27 164.68,307.63 160.69,309.62 156.70,311.61 152.71,313.22 148.72,314.82 144.73,316.92 140.74,319.02 136.75,321.11 132.76,322.70 128.77,324.29 124.78,325.87 120.79,327.45 116.80,329.03 112.81,330.00 108.82,330.97 104.83,331.94 100.84,332.90 96.85,333.86 92.86,334.36 88.87,334.87 84.88,335.37 80.89,335.86 76.90,336.36 72.91,336.69 68.92,337.03 64.93,337.36 60.94,337.69 56.95,338.77 52.96,339.12 48.97,339.47 44.98,339.81 40.99,340.15 37.00,340.49 33.01,340.65 29.02,340.80" fill="#eeadc8" stroke="#9a8a90" stroke-width="0.45" stroke-linejoin="round"/>
<line x1="29.20" y1="206.60" x2="29.20" y2="342.00" stroke="#7a7a7a" stroke-width="1.3" />
<line x1="29.20" y1="342.00" x2="196.60" y2="342.00" stroke="#7a7a7a" stroke-width="1.3" />
<line x1="29.20" y1="206.60" x2="196.60" y2="206.60" stroke="#7a7a7a" stroke-width="1.3" />
<line x1="196.60" y1="206.60" x2="196.60" y2="342.00" stroke="#7a7a7a" stroke-width="1.3" />
<line x1="26.20" y1="342.00" x2="29.20" y2="342.00" stroke="#333" stroke-width="1" />
<text x="24.70" y="345.80" font-size="10.6" text-anchor="end" fill="#1a1a1a" >0</text>
<line x1="26.20" y1="312.00" x2="29.20" y2="312.00" stroke="#333" stroke-width="1" />
<text x="24.70" y="315.80" font-size="10.6" text-anchor="end" fill="#1a1a1a" >2</text>
<line x1="26.20" y1="282.00" x2="29.20" y2="282.00" stroke="#333" stroke-width="1" />
<text x="24.70" y="285.80" font-size="10.6" text-anchor="end" fill="#1a1a1a" >4</text>
<line x1="26.20" y1="252.00" x2="29.20" y2="252.00" stroke="#333" stroke-width="1" />
<text x="24.70" y="255.80" font-size="10.6" text-anchor="end" fill="#1a1a1a" >6</text>
<line x1="26.20" y1="222.00" x2="29.20" y2="222.00" stroke="#333" stroke-width="1" />
<text x="24.70" y="225.80" font-size="10.6" text-anchor="end" fill="#1a1a1a" >8</text>
<line x1="37.00" y1="342.00" x2="37.00" y2="344.50" stroke="#999" stroke-width="1" />
<text x="37.00" y="355.60" font-size="10.6" text-anchor="middle" fill="#1a1a1a" >1980</text>
<line x1="76.90" y1="342.00" x2="76.90" y2="344.50" stroke="#999" stroke-width="1" />
<text x="76.90" y="355.60" font-size="10.6" text-anchor="middle" fill="#1a1a1a" >1990</text>
<line x1="116.80" y1="342.00" x2="116.80" y2="344.50" stroke="#999" stroke-width="1" />
<text x="116.80" y="355.60" font-size="10.6" text-anchor="middle" fill="#1a1a1a" >2000</text>
<line x1="156.70" y1="342.00" x2="156.70" y2="344.50" stroke="#999" stroke-width="1" />
<text x="156.70" y="355.60" font-size="10.6" text-anchor="middle" fill="#1a1a1a" >2010</text>
<line x1="196.60" y1="342.00" x2="196.60" y2="344.50" stroke="#999" stroke-width="1" />
<text x="196.60" y="355.60" font-size="10.6" text-anchor="middle" fill="#1a1a1a" >2020</text>
<text x="8.70" y="274.50" font-size="10.6" text-anchor="middle" fill="#1a1a1a" transform="rotate(-90 8.70 274.50)">Stock of Base metal materials (Gt)</text>
<rect x="40.80" y="228.70" width="23.60" height="11.80" fill="#a4dcf3" stroke="#8a8a8a" stroke-width="0.6" />
<text x="67.70" y="238.40" font-size="10.6" text-anchor="start" fill="#1a1a1a" >Copper</text>
<rect x="40.80" y="241.80" width="23.60" height="11.80" fill="#3ecbf1" stroke="#8a8a8a" stroke-width="0.6" />
<text x="67.70" y="251.50" font-size="10.6" text-anchor="start" fill="#1a1a1a" >Aluminum</text>
<rect x="40.80" y="254.90" width="23.60" height="11.80" fill="#eeadc8" stroke="#8a8a8a" stroke-width="0.6" />
<text x="67.70" y="264.60" font-size="10.6" text-anchor="start" fill="#1a1a1a" >Steel</text>
<text x="253.90" y="199.60" font-size="10.6" text-anchor="start" fill="#1a1a1a" >(e)</text>
<polygon points="267.56,350.10 271.53,350.10 275.50,350.10 279.47,350.10 283.44,350.10 287.41,350.10 291.38,350.10 295.35,350.10 299.32,350.10 303.29,350.10 307.26,350.10 311.23,350.10 315.20,350.10 319.17,350.10 323.14,350.10 327.11,350.10 331.08,350.10 335.05,350.10 339.02,350.10 342.99,350.00 346.96,349.91 350.93,349.81 354.90,349.71 358.87,349.48 362.84,349.24 366.81,349.01 370.78,348.78 374.75,348.54 378.72,348.23 382.69,347.92 386.66,347.61 390.63,347.30 394.60,346.98 398.57,346.44 402.54,345.89 406.51,345.35 410.48,344.80 414.45,344.26 418.42,343.40 422.39,342.55 426.36,341.69 430.33,340.83 434.30,339.98 434.30,350.10 430.33,350.10 426.36,350.10 422.39,350.10 418.42,350.10 414.45,350.10 410.48,350.10 406.51,350.10 402.54,350.10 398.57,350.10 394.60,350.10 390.63,350.10 386.66,350.10 382.69,350.10 378.72,350.10 374.75,350.10 370.78,350.10 366.81,350.10 362.84,350.10 358.87,350.10 354.90,350.10 350.93,350.10 346.96,350.10 342.99,350.10 339.02,350.10 335.05,350.10 331.08,350.10 327.11,350.10 323.14,350.10 319.17,350.10 315.20,350.10 311.23,350.10 307.26,350.10 303.29,350.10 299.32,350.10 295.35,350.10 291.38,350.10 287.41,350.10 283.44,350.10 279.47,350.10 275.50,350.10 271.53,350.10 267.56,350.10" fill="#a9d0e6" stroke="none" stroke-width="0" stroke-linejoin="round"/>
<polygon points="267.56,350.10 271.53,350.10 275.50,350.10 279.47,350.10 283.44,350.10 287.41,350.10 291.38,350.10 295.35,350.10 299.32,350.10 303.29,350.10 307.26,350.10 311.23,350.10 315.20,350.10 319.17,350.10 323.14,350.10 327.11,350.10 331.08,350.10 335.05,350.10 339.02,350.10 342.99,349.76 346.96,349.42 350.93,349.08 354.90,348.74 358.87,347.80 362.84,346.87 366.81,345.93 370.78,345.00 374.75,344.06 378.72,343.09 382.69,342.12 386.66,341.14 390.63,340.17 394.60,339.20 398.57,336.70 402.54,333.82 406.51,332.76 410.48,331.69 414.45,330.63 418.42,329.07 422.39,327.51 426.36,325.96 430.33,324.40 434.30,322.84 434.30,339.98 430.33,340.83 426.36,341.69 422.39,342.55 418.42,343.40 414.45,344.26 410.48,344.80 406.51,345.35 402.54,345.89 398.57,346.44 394.60,346.98 390.63,347.30 386.66,347.61 382.69,347.92 378.72,348.23 374.75,348.54 370.78,348.78 366.81,349.01 362.84,349.24 358.87,349.48 354.90,349.71 350.93,349.81 346.96,349.91 342.99,350.00 339.02,350.10 335.05,350.10 331.08,350.10 327.11,350.10 323.14,350.10 319.17,350.10 315.20,350.10 311.23,350.10 307.26,350.10 303.29,350.10 299.32,350.10 295.35,350.10 291.38,350.10 287.41,350.10 283.44,350.10 279.47,350.10 275.50,350.10 271.53,350.10 267.56,350.10" fill="#4ea4e0" stroke="none" stroke-width="0" stroke-linejoin="round"/>
<polygon points="267.56,350.10 271.53,350.10 275.50,350.10 279.47,350.10 283.44,350.10 287.41,350.10 291.38,350.10 295.35,350.10 299.32,350.10 303.29,350.10 307.26,350.10 311.23,350.10 315.20,350.10 319.17,350.10 323.14,350.10 327.11,350.10 331.08,350.10 335.05,350.10 339.02,350.10 342.99,349.76 346.96,349.42 350.93,349.08 354.90,348.74 358.87,347.80 362.84,346.87 366.81,345.93 370.78,345.00 374.75,344.06 378.72,343.09 382.69,342.12 386.66,341.14 390.63,340.17 394.60,339.20 398.57,336.70 402.54,333.82 406.51,332.76 410.48,331.69 414.45,330.63 418.42,329.07 422.39,327.51 426.36,325.96 430.33,324.40 434.30,322.84 434.30,322.84 430.33,324.40 426.36,325.96 422.39,327.51 418.42,329.07 414.45,330.63 410.48,331.69 406.51,332.76 402.54,333.82 398.57,336.70 394.60,339.20 390.63,340.17 386.66,341.14 382.69,342.12 378.72,343.09 374.75,344.06 370.78,345.00 366.81,345.93 362.84,346.87 358.87,347.80 354.90,348.74 350.93,349.08 346.96,349.42 342.99,349.76 339.02,350.10 335.05,350.10 331.08,350.10 327.11,350.10 323.14,350.10 319.17,350.10 315.20,350.10 311.23,350.10 307.26,350.10 303.29,350.10 299.32,350.10 295.35,350.10 291.38,350.10 287.41,350.10 283.44,350.10 279.47,350.10 275.50,350.10 271.53,350.10 267.56,350.10" fill="#bfe5a0" stroke="none" stroke-width="0" stroke-linejoin="round"/>
<polygon points="267.56,350.10 271.53,350.10 275.50,350.10 279.47,350.10 283.44,350.10 287.41,350.10 291.38,350.10 295.35,350.10 299.32,350.10 303.29,350.10 307.26,350.10 311.23,350.10 315.20,350.10 319.17,350.10 323.14,350.10 327.11,350.10 331.08,350.10 335.05,350.10 339.02,350.10 342.99,349.37 346.96,348.64 350.93,347.91 354.90,347.18 358.87,345.66 362.84,344.14 366.81,342.62 370.78,341.10 374.75,339.59 378.72,337.72 382.69,335.85 386.66,333.98 390.63,332.11 394.60,330.24 398.57,325.61 402.54,320.58 406.51,319.06 410.48,317.55 414.45,316.03 418.42,313.61 422.39,311.20 426.36,308.78 430.33,306.37 434.30,303.96 434.30,322.84 430.33,324.40 426.36,325.96 422.39,327.51 418.42,329.07 414.45,330.63 410.48,331.69 406.51,332.76 402.54,333.82 398.57,336.70 394.60,339.20 390.63,340.17 386.66,341.14 382.69,342.12 378.72,343.09 374.75,344.06 370.78,345.00 366.81,345.93 362.84,346.87 358.87,347.80 354.90,348.74 350.93,349.08 346.96,349.42 342.99,349.76 339.02,350.10 335.05,350.10 331.08,350.10 327.11,350.10 323.14,350.10 319.17,350.10 315.20,350.10 311.23,350.10 307.26,350.10 303.29,350.10 299.32,350.10 295.35,350.10 291.38,350.10 287.41,350.10 283.44,350.10 279.47,350.10 275.50,350.10 271.53,350.10 267.56,350.10" fill="#5fcb5f" stroke="none" stroke-width="0" stroke-linejoin="round"/>
<polygon points="267.56,350.10 271.53,350.10 275.50,350.10 279.47,350.10 283.44,350.10 287.41,350.10 291.38,350.10 295.35,350.10 299.32,350.10 303.29,350.10 307.26,350.10 311.23,350.10 315.20,350.10 319.17,350.10 323.14,350.10 327.11,350.10 331.08,350.10 335.05,350.10 339.02,350.10 342.99,349.32 346.96,348.54 350.93,346.89 354.90,345.23 358.87,341.83 362.84,338.42 366.81,333.55 370.78,328.68 374.75,321.87 378.72,315.54 382.69,309.21 386.66,304.35 390.63,299.48 394.60,294.61 398.57,285.85 402.54,271.25 406.51,265.89 410.48,260.54 414.45,254.70 418.42,248.86 422.39,242.53 426.36,236.20 430.33,229.48 434.30,222.77 434.30,303.96 430.33,306.37 426.36,308.78 422.39,311.20 418.42,313.61 414.45,316.03 410.48,317.55 406.51,319.06 402.54,320.58 398.57,325.61 394.60,330.24 390.63,332.11 386.66,333.98 382.69,335.85 378.72,337.72 374.75,339.59 370.78,341.10 366.81,342.62 362.84,344.14 358.87,345.66 354.90,347.18 350.93,347.91 346.96,348.64 342.99,349.37 339.02,350.10 335.05,350.10 331.08,350.10 327.11,350.10 323.14,350.10 319.17,350.10 315.20,350.10 311.23,350.10 307.26,350.10 303.29,350.10 299.32,350.10 295.35,350.10 291.38,350.10 287.41,350.10 283.44,350.10 279.47,350.10 275.50,350.10 271.53,350.10 267.56,350.10" fill="#f9a0a0" stroke="#f07060" stroke-width="0.6" stroke-linejoin="round"/>
<line x1="267.20" y1="214.50" x2="267.20" y2="350.10" stroke="#7a7a7a" stroke-width="1.3" />
<line x1="267.20" y1="350.10" x2="435.00" y2="350.10" stroke="#7a7a7a" stroke-width="1.3" />
<line x1="267.20" y1="214.50" x2="435.00" y2="214.50" stroke="#7a7a7a" stroke-width="1.3" />
<line x1="435.00" y1="214.50" x2="435.00" y2="350.10" stroke="#7a7a7a" stroke-width="1.3" />
<line x1="264.20" y1="350.10" x2="267.20" y2="350.10" stroke="#333" stroke-width="1" />
<text x="262.70" y="353.90" font-size="10.6" text-anchor="end" fill="#1a1a1a" >0.0</text>
<line x1="264.20" y1="320.90" x2="267.20" y2="320.90" stroke="#333" stroke-width="1" />
<text x="262.70" y="324.70" font-size="10.6" text-anchor="end" fill="#1a1a1a" >1.5</text>
<line x1="264.20" y1="291.69" x2="267.20" y2="291.69" stroke="#333" stroke-width="1" />
<text x="262.70" y="295.49" font-size="10.6" text-anchor="end" fill="#1a1a1a" >3.0</text>
<line x1="264.20" y1="262.49" x2="267.20" y2="262.49" stroke="#333" stroke-width="1" />
<text x="262.70" y="266.29" font-size="10.6" text-anchor="end" fill="#1a1a1a" >4.5</text>
<line x1="264.20" y1="233.28" x2="267.20" y2="233.28" stroke="#333" stroke-width="1" />
<text x="262.70" y="237.08" font-size="10.6" text-anchor="end" fill="#1a1a1a" >6.0</text>
<line x1="275.50" y1="350.10" x2="275.50" y2="352.60" stroke="#999" stroke-width="1" />
<text x="275.50" y="363.70" font-size="10.6" text-anchor="middle" fill="#1a1a1a" >1980</text>
<line x1="315.20" y1="350.10" x2="315.20" y2="352.60" stroke="#999" stroke-width="1" />
<text x="315.20" y="363.70" font-size="10.6" text-anchor="middle" fill="#1a1a1a" >1990</text>
<line x1="354.90" y1="350.10" x2="354.90" y2="352.60" stroke="#999" stroke-width="1" />
<text x="354.90" y="363.70" font-size="10.6" text-anchor="middle" fill="#1a1a1a" >2000</text>
<line x1="394.60" y1="350.10" x2="394.60" y2="352.60" stroke="#999" stroke-width="1" />
<text x="394.60" y="363.70" font-size="10.6" text-anchor="middle" fill="#1a1a1a" >2010</text>
<line x1="434.30" y1="350.10" x2="434.30" y2="352.60" stroke="#999" stroke-width="1" />
<text x="434.30" y="363.70" font-size="10.6" text-anchor="middle" fill="#1a1a1a" >2020</text>
<text x="243.90" y="281.60" font-size="10.6" text-anchor="middle" fill="#1a1a1a" transform="rotate(-90 243.90 281.60)">Stock of precious and rare metals (Kt)</text>
<rect x="279.00" y="231.20" width="23.80" height="11.50" fill="#a9d0e6" stroke="none" stroke-width="0" />
<text x="306.10" y="240.75" font-size="10.6" text-anchor="start" fill="#1a1a1a" >Gold</text>
<rect x="279.00" y="244.15" width="23.80" height="11.50" fill="#4ea4e0" stroke="none" stroke-width="0" />
<text x="306.10" y="253.70" font-size="10.6" text-anchor="start" fill="#1a1a1a" >Silver</text>
<rect x="279.00" y="257.10" width="23.80" height="11.50" fill="#bfe5a0" stroke="none" stroke-width="0" />
<text x="306.10" y="266.65" font-size="10.6" text-anchor="start" fill="#1a1a1a" >Palladium</text>
<rect x="279.00" y="270.05" width="23.80" height="11.50" fill="#5fcb5f" stroke="none" stroke-width="0" />
<text x="306.10" y="279.60" font-size="10.6" text-anchor="start" fill="#1a1a1a" >Indium</text>
<rect x="279.00" y="283.00" width="23.80" height="11.50" fill="#f9a0a0" stroke="none" stroke-width="0" />
<text x="306.10" y="292.55" font-size="10.6" text-anchor="start" fill="#1a1a1a" >Neodymium</text>
<rect x="279.00" y="295.95" width="23.80" height="11.50" fill="#eb5a5a" stroke="none" stroke-width="0" />
<text x="306.10" y="305.50" font-size="10.6" text-anchor="start" fill="#1a1a1a" >Yttrium</text>
<rect x="279.00" y="308.90" width="23.80" height="11.50" fill="#fcc98a" stroke="none" stroke-width="0" />
<text x="306.10" y="318.45" font-size="10.6" text-anchor="start" fill="#1a1a1a" >Europium</text>
<text x="488.60" y="203.60" font-size="10.6" text-anchor="start" fill="#1a1a1a" >(f)</text>
<polygon points="502.74,348.58 506.72,348.58 510.70,348.58 514.68,348.44 518.66,348.30 522.64,348.16 526.62,348.06 530.60,347.96 534.58,347.34 538.56,346.52 542.54,347.75 546.52,347.65 550.50,347.55 554.48,347.26 558.46,346.97 562.44,346.68 566.42,346.39 570.40,346.10 574.38,343.63 578.36,343.43 582.34,343.22 586.32,345.28 590.30,341.98 594.28,341.16 598.26,340.34 602.24,339.51 606.22,338.48 610.20,337.45 614.18,335.39 618.16,333.33 622.14,331.68 626.12,327.15 630.10,322.62 634.08,317.47 638.06,312.32 642.04,306.55 646.02,300.78 650.00,295.02 653.98,288.22 657.96,281.42 661.94,275.65 665.92,269.06 669.90,265.35 669.90,349.40 665.92,349.40 661.94,349.40 657.96,349.40 653.98,349.40 650.00,349.40 646.02,349.40 642.04,349.40 638.06,349.40 634.08,349.40 630.10,349.40 626.12,349.40 622.14,349.40 618.16,349.40 614.18,349.40 610.20,349.40 606.22,349.40 602.24,349.40 598.26,349.40 594.28,349.40 590.30,349.40 586.32,349.40 582.34,349.40 578.36,349.40 574.38,349.40 570.40,349.40 566.42,349.40 562.44,349.40 558.46,349.40 554.48,349.40 550.50,349.40 546.52,349.40 542.54,349.40 538.56,349.40 534.58,349.40 530.60,349.40 526.62,349.40 522.64,349.40 518.66,349.40 514.68,349.40 510.70,349.40 506.72,349.40 502.74,349.40" fill="#abd1e7" stroke="none" stroke-width="0" stroke-linejoin="round"/>
<polygon points="502.74,347.96 506.72,347.96 510.70,347.96 514.68,347.82 518.66,347.68 522.64,347.55 526.62,347.44 530.60,347.34 534.58,346.72 538.56,345.90 542.54,347.13 546.52,347.03 550.50,346.93 554.48,346.64 558.46,346.35 562.44,346.06 566.42,345.77 570.40,345.49 574.38,343.01 578.36,342.81 582.34,342.60 586.32,344.66 590.30,340.83 594.28,340.01 598.26,339.18 602.24,338.36 606.22,337.33 610.20,336.30 614.18,334.24 618.16,332.18 622.14,330.53 626.12,326.00 630.10,321.47 634.08,316.32 638.06,311.17 642.04,305.40 646.02,299.63 650.00,293.86 653.98,287.06 657.96,280.27 661.94,274.50 665.92,267.91 669.90,264.20 669.90,265.35 665.92,269.06 661.94,275.65 657.96,281.42 653.98,288.22 650.00,295.02 646.02,300.78 642.04,306.55 638.06,312.32 634.08,317.47 630.10,322.62 626.12,327.15 622.14,331.68 618.16,333.33 614.18,335.39 610.20,337.45 606.22,338.48 602.24,339.51 598.26,340.34 594.28,341.16 590.30,341.98 586.32,345.28 582.34,343.22 578.36,343.43 574.38,343.63 570.40,346.10 566.42,346.39 562.44,346.68 558.46,346.97 554.48,347.26 550.50,347.55 546.52,347.65 542.54,347.75 538.56,346.52 534.58,347.34 530.60,347.96 526.62,348.06 522.64,348.16 518.66,348.30 514.68,348.44 510.70,348.58 506.72,348.58 502.74,348.58" fill="#4ea4e0" stroke="none" stroke-width="0" stroke-linejoin="round"/>
<polygon points="502.74,347.96 506.72,347.96 510.70,347.75 514.68,347.20 518.66,346.65 522.64,346.10 526.62,346.31 530.60,346.52 534.58,345.69 538.56,344.46 542.54,346.10 546.52,345.90 550.50,345.69 554.48,345.20 558.46,344.70 562.44,344.21 566.42,343.71 570.40,343.22 574.38,341.16 578.36,339.10 582.34,338.28 586.32,340.34 590.30,337.86 594.28,336.42 598.26,334.98 602.24,333.61 606.22,332.23 610.20,330.86 614.18,327.77 618.16,324.68 622.14,319.74 626.12,313.35 630.10,306.96 634.08,300.99 638.06,295.02 642.04,286.78 646.02,277.30 650.00,267.82 653.98,260.61 657.96,253.40 661.94,243.10 665.92,229.92 669.90,216.74 669.90,264.20 665.92,267.91 661.94,274.50 657.96,280.27 653.98,287.06 650.00,293.86 646.02,299.63 642.04,305.40 638.06,311.17 634.08,316.32 630.10,321.47 626.12,326.00 622.14,330.53 618.16,332.18 614.18,334.24 610.20,336.30 606.22,337.33 602.24,338.36 598.26,339.18 594.28,340.01 590.30,340.83 586.32,344.66 582.34,342.60 578.36,342.81 574.38,343.01 570.40,345.49 566.42,345.77 562.44,346.06 558.46,346.35 554.48,346.64 550.50,346.93 546.52,347.03 542.54,347.13 538.56,345.90 534.58,346.72 530.60,347.34 526.62,347.44 522.64,347.55 518.66,347.68 514.68,347.82 510.70,347.96 506.72,347.96 502.74,347.96" fill="#c2e5a0" stroke="none" stroke-width="0" stroke-linejoin="round"/>
<line x1="502.70" y1="213.30" x2="502.70" y2="349.40" stroke="#7a7a7a" stroke-width="1.3" />
<line x1="502.70" y1="349.40" x2="670.60" y2="349.40" stroke="#7a7a7a" stroke-width="1.3" />
<line x1="502.70" y1="213.30" x2="670.60" y2="213.30" stroke="#7a7a7a" stroke-width="1.3" />
<line x1="670.60" y1="213.30" x2="670.60" y2="349.40" stroke="#7a7a7a" stroke-width="1.3" />
<line x1="499.70" y1="349.40" x2="502.70" y2="349.40" stroke="#333" stroke-width="1" />
<text x="498.20" y="353.20" font-size="10.6" text-anchor="end" fill="#1a1a1a" >0</text>
<line x1="499.70" y1="324.68" x2="502.70" y2="324.68" stroke="#333" stroke-width="1" />
<text x="498.20" y="328.48" font-size="10.6" text-anchor="end" fill="#1a1a1a" >6</text>
<line x1="499.70" y1="299.96" x2="502.70" y2="299.96" stroke="#333" stroke-width="1" />
<text x="498.20" y="303.76" font-size="10.6" text-anchor="end" fill="#1a1a1a" >12</text>
<line x1="499.70" y1="275.24" x2="502.70" y2="275.24" stroke="#333" stroke-width="1" />
<text x="498.20" y="279.04" font-size="10.6" text-anchor="end" fill="#1a1a1a" >18</text>
<line x1="499.70" y1="250.52" x2="502.70" y2="250.52" stroke="#333" stroke-width="1" />
<text x="498.20" y="254.32" font-size="10.6" text-anchor="end" fill="#1a1a1a" >24</text>
<line x1="499.70" y1="225.80" x2="502.70" y2="225.80" stroke="#333" stroke-width="1" />
<text x="498.20" y="229.60" font-size="10.6" text-anchor="end" fill="#1a1a1a" >30</text>
<line x1="510.70" y1="349.40" x2="510.70" y2="351.90" stroke="#999" stroke-width="1" />
<text x="510.70" y="363.00" font-size="10.6" text-anchor="middle" fill="#1a1a1a" >1980</text>
<line x1="550.50" y1="349.40" x2="550.50" y2="351.90" stroke="#999" stroke-width="1" />
<text x="550.50" y="363.00" font-size="10.6" text-anchor="middle" fill="#1a1a1a" >1990</text>
<line x1="590.30" y1="349.40" x2="590.30" y2="351.90" stroke="#999" stroke-width="1" />
<text x="590.30" y="363.00" font-size="10.6" text-anchor="middle" fill="#1a1a1a" >2000</text>
<line x1="630.10" y1="349.40" x2="630.10" y2="351.90" stroke="#999" stroke-width="1" />
<text x="630.10" y="363.00" font-size="10.6" text-anchor="middle" fill="#1a1a1a" >2010</text>
<line x1="669.90" y1="349.40" x2="669.90" y2="351.90" stroke="#999" stroke-width="1" />
<text x="669.90" y="363.00" font-size="10.6" text-anchor="middle" fill="#1a1a1a" >2020</text>
<text x="482.40" y="280.70" font-size="10.6" text-anchor="middle" fill="#1a1a1a" transform="rotate(-90 482.40 280.70)">Stock of other materials (t)</text>
<rect x="512.80" y="221.20" width="24.00" height="11.70" fill="#abd1e7" stroke="none" stroke-width="0" />
<text x="540.10" y="230.85" font-size="10.6" text-anchor="start" fill="#1a1a1a" >Lead</text>
<rect x="512.80" y="234.13" width="24.00" height="11.70" fill="#4ea4e0" stroke="none" stroke-width="0" />
<text x="540.10" y="243.78" font-size="10.6" text-anchor="start" fill="#1a1a1a" >Zinc</text>
<rect x="512.80" y="247.06" width="24.00" height="11.70" fill="#c2e5a0" stroke="none" stroke-width="0" />
<text x="540.10" y="256.71" font-size="10.6" text-anchor="start" fill="#1a1a1a" >Magnesium</text>
<rect x="512.80" y="259.99" width="24.00" height="11.70" fill="#5fcb5f" stroke="none" stroke-width="0" />
<text x="540.10" y="269.64" font-size="10.6" text-anchor="start" fill="#1a1a1a" >Cobalt</text>
<text x="25.10" y="641.00" font-size="10.6" text-anchor="start" fill="#1a1a1a" >(h)</text>
<rect x="54.70" y="656.40" width="23.30" height="11.20" fill="#fb9a99" stroke="none" stroke-width="0" />
<text x="81.60" y="665.70" font-size="10.6" text-anchor="start" fill="#1a1a1a" >URs</text>
<rect x="54.70" y="669.80" width="23.30" height="11.20" fill="#fdbf6f" stroke="none" stroke-width="0" />
<text x="81.60" y="679.10" font-size="10.6" text-anchor="start" fill="#1a1a1a" >Roads</text>
<rect x="54.70" y="683.10" width="23.30" height="11.20" fill="#ff7f00" stroke="none" stroke-width="0" />
<text x="81.60" y="692.40" font-size="10.6" text-anchor="start" fill="#1a1a1a" >Rails</text>
<rect x="54.70" y="696.20" width="23.30" height="11.20" fill="#b15928" stroke="none" stroke-width="0" />
<text x="81.60" y="705.50" font-size="10.6" text-anchor="start" fill="#1a1a1a" >AM</text>
<rect x="54.70" y="709.40" width="23.30" height="9.60" fill="#a6cee3" stroke="none" stroke-width="0" />
<text x="81.60" y="717.30" font-size="10.6" text-anchor="start" fill="#1a1a1a" >IM</text>
<rect x="116.60" y="654.00" width="23.60" height="11.30" fill="#e31a1c" stroke="none" stroke-width="0" />
<text x="143.60" y="663.50" font-size="10.6" text-anchor="start" fill="#1a1a1a" >NRs</text>
<rect x="116.60" y="667.20" width="23.60" height="11.30" fill="#cab2d6" stroke="none" stroke-width="0" />
<text x="143.60" y="676.70" font-size="10.6" text-anchor="start" fill="#1a1a1a" >Pipes</text>
<rect x="116.60" y="682.20" width="23.60" height="11.30" fill="#6a3d9a" stroke="none" stroke-width="0" />
<text x="143.60" y="691.70" font-size="10.6" text-anchor="start" fill="#1a1a1a" >Others</text>
<rect x="116.60" y="695.40" width="23.60" height="11.30" fill="#1f78b4" stroke="none" stroke-width="0" />
<text x="143.60" y="704.90" font-size="10.6" text-anchor="start" fill="#1a1a1a" >Appliances</text>
<rect x="116.60" y="708.50" width="23.60" height="11.30" fill="#ffff99" stroke="none" stroke-width="0" />
<text x="143.60" y="718.00" font-size="10.6" text-anchor="start" fill="#1a1a1a" >Vehicles</text>
<path d="M266.80,680.60 L306.00,680.60 A39.2,39.2 0 0 1 238.91,708.14 Z" fill="#fb9a99" stroke="#fff" stroke-width="0.25"/>
<path d="M266.80,680.60 L238.91,708.14 A39.2,39.2 0 0 1 275.35,642.34 Z" fill="#e31a1c" stroke="#fff" stroke-width="0.25"/>
<path d="M266.80,680.60 L275.35,642.34 A39.2,39.2 0 0 1 303.77,667.55 Z" fill="#fdbf6f" stroke="#fff" stroke-width="0.25"/>
<path d="M266.80,680.60 L303.77,667.55 A39.2,39.2 0 0 1 305.80,676.67 Z" fill="#cab2d6" stroke="#fff" stroke-width="0.25"/>
<path d="M266.80,680.60 L305.80,676.67 A39.2,39.2 0 0 1 305.99,679.61 Z" fill="#a6cee3" stroke="#fff" stroke-width="0.25"/>
<path d="M266.80,680.60 L305.99,679.61 A39.2,39.2 0 0 1 306.00,680.60 Z" fill="#b15928" stroke="#fff" stroke-width="0.25"/>
<text x="305.00" y="637.70" font-size="10.6" text-anchor="middle" fill="#1a1a1a" >1978</text>
<text x="245.50" y="673.00" font-size="10.6" text-anchor="middle" fill="#1a1a1a" >40.9%</text>
<text x="286.80" y="666.70" font-size="10.6" text-anchor="middle" fill="#1a1a1a" >16.1%</text>
<text x="275.50" y="705.60" font-size="10.6" text-anchor="middle" fill="#1a1a1a" >37.6%</text>
<text x="297.00" y="676.00" font-size="10.6" text-anchor="start" fill="#1a1a1a" >3.8%</text>
<text x="306.80" y="701.20" font-size="10.6" text-anchor="start" fill="#1a1a1a" >1.2%</text>
<line x1="299.50" y1="679.60" x2="306.10" y2="690.80" stroke="#8a8a8a" stroke-width="0.7" />
<line x1="305.50" y1="679.00" x2="344.70" y2="661.30" stroke="#c8c8c8" stroke-width="0.8" />
<line x1="305.50" y1="680.60" x2="344.70" y2="699.60" stroke="#c8c8c8" stroke-width="0.8" />
<rect x="344.70" y="661.00" width="19.80" height="38.80" fill="#b15928" stroke="none" stroke-width="0" />
<rect x="344.70" y="661.00" width="19.80" height="1.10" fill="#8f6fc0" stroke="none" stroke-width="0" />
<rect x="344.70" y="698.80" width="19.80" height="1.10" fill="#5f9fd8" stroke="none" stroke-width="0" />
<text x="355.70" y="660.20" font-size="10.6" text-anchor="start" fill="#1a1a1a" >0.2‰</text>
<text x="356.40" y="684.30" font-size="10.6" text-anchor="middle" fill="#1a1a1a" >0.1%</text>
<text x="360.50" y="708.80" font-size="10.6" text-anchor="start" fill="#1a1a1a" >0.2‰</text>
<path d="M484.10,687.40 L523.30,687.40 A39.2,39.2 0 1 1 449.63,668.73 Z" fill="#fb9a99" stroke="#fff" stroke-width="0.25"/>
<path d="M484.10,687.40 L449.63,668.73 A39.2,39.2 0 0 1 514.30,662.41 Z" fill="#e31a1c" stroke="#fff" stroke-width="0.25"/>
<path d="M484.10,687.40 L514.30,662.41 A39.2,39.2 0 0 1 519.88,671.38 Z" fill="#fdbf6f" stroke="#fff" stroke-width="0.25"/>
<path d="M484.10,687.40 L519.88,671.38 A39.2,39.2 0 0 1 520.46,672.74 Z" fill="#ff7f00" stroke="#fff" stroke-width="0.25"/>
<path d="M484.10,687.40 L520.46,672.74 A39.2,39.2 0 0 1 522.96,682.24 Z" fill="#cab2d6" stroke="#fff" stroke-width="0.25"/>
<path d="M484.10,687.40 L522.96,682.24 A39.2,39.2 0 0 1 523.29,686.66 Z" fill="#ffff99" stroke="#fff" stroke-width="0.25"/>
<path d="M484.10,687.40 L523.29,686.66 A39.2,39.2 0 0 1 523.30,687.40 Z" fill="#a6cee3" stroke="#fff" stroke-width="0.25"/>
<text x="520.80" y="637.30" font-size="10.6" text-anchor="middle" fill="#1a1a1a" >2020</text>
<text x="469.60" y="659.60" font-size="10.6" text-anchor="middle" fill="#1a1a1a" >31.1%</text>
<text x="477.70" y="713.50" font-size="10.6" text-anchor="middle" fill="#1a1a1a" >57.9%</text>
<text x="494.90" y="672.80" font-size="10.6" text-anchor="start" fill="#1a1a1a" >4.3%</text>
<text x="518.80" y="671.60" font-size="10.6" text-anchor="start" fill="#1a1a1a" >0.6%</text>
<text x="521.00" y="680.40" font-size="10.6" text-anchor="start" fill="#1a1a1a" >4%</text>
<text x="484.60" y="691.30" font-size="10.6" text-anchor="start" fill="#1a1a1a" >1.8%</text>
<line x1="523.10" y1="686.60" x2="562.80" y2="668.40" stroke="#c8c8c8" stroke-width="0.8" />
<line x1="523.10" y1="687.60" x2="562.80" y2="706.20" stroke="#c8c8c8" stroke-width="0.8" />
<rect x="562.80" y="668.20" width="19.00" height="38.40" fill="#a6cee3" stroke="none" stroke-width="0" />
<rect x="562.80" y="668.20" width="19.00" height="1.90" fill="#c0652e" stroke="none" stroke-width="0" />
<rect x="562.80" y="703.70" width="19.00" height="2.90" fill="#1f78b4" stroke="none" stroke-width="0" />
<text x="580.10" y="669.90" font-size="10.6" text-anchor="start" fill="#1a1a1a" >0.2‰</text>
<text x="576.40" y="690.60" font-size="10.6" text-anchor="middle" fill="#1a1a1a" >0.3%</text>
<text x="575.70" y="712.20" font-size="10.6" text-anchor="start" fill="#1a1a1a" >0.4‰</text>
<text x="27.90" y="767.80" font-size="10.6" text-anchor="start" fill="#1a1a1a" >(i)</text>
<circle cx="170.2" cy="763.9" r="1.7" fill="#d9777a"/>
<text x="185.40" y="767.80" font-size="10.6" text-anchor="start" fill="#1a1a1a" >1978</text>
<circle cx="220.7" cy="763.9" r="1.7" fill="#f2383b"/>
<text x="235.60" y="767.80" font-size="10.6" text-anchor="start" fill="#1a1a1a" >2020</text>
<line x1="102.60" y1="783.77" x2="272.20" y2="783.77" stroke="#f0f0f0" stroke-width="0.6" stroke-dasharray="1.5,1"/>
<line x1="102.60" y1="798.31" x2="272.20" y2="798.31" stroke="#f0f0f0" stroke-width="0.6" stroke-dasharray="1.5,1"/>
<line x1="102.60" y1="812.85" x2="272.20" y2="812.85" stroke="#f0f0f0" stroke-width="0.6" stroke-dasharray="1.5,1"/>
<line x1="102.60" y1="827.39" x2="272.20" y2="827.39" stroke="#f0f0f0" stroke-width="0.6" stroke-dasharray="1.5,1"/>
<line x1="102.60" y1="841.93" x2="272.20" y2="841.93" stroke="#f0f0f0" stroke-width="0.6" stroke-dasharray="1.5,1"/>
<line x1="102.60" y1="856.47" x2="272.20" y2="856.47" stroke="#f0f0f0" stroke-width="0.6" stroke-dasharray="1.5,1"/>
<line x1="102.60" y1="871.01" x2="272.20" y2="871.01" stroke="#f0f0f0" stroke-width="0.6" stroke-dasharray="1.5,1"/>
<line x1="102.60" y1="885.55" x2="272.20" y2="885.55" stroke="#f0f0f0" stroke-width="0.6" stroke-dasharray="1.5,1"/>
<line x1="102.60" y1="900.09" x2="272.20" y2="900.09" stroke="#f0f0f0" stroke-width="0.6" stroke-dasharray="1.5,1"/>
<line x1="102.60" y1="842.40" x2="272.20" y2="842.40" stroke="#c0c0c0" stroke-width="1.0" />
<line x1="114.60" y1="776.50" x2="251.52" y2="776.50" stroke="#cfcfcf" stroke-width="1.2" />
<line x1="116.58" y1="791.04" x2="213.03" y2="791.04" stroke="#cfcfcf" stroke-width="1.2" />
<line x1="114.60" y1="805.58" x2="204.14" y2="805.58" stroke="#cfcfcf" stroke-width="1.2" />
<line x1="115.53" y1="820.12" x2="203.72" y2="820.12" stroke="#cfcfcf" stroke-width="1.2" />
<line x1="113.71" y1="834.66" x2="188.92" y2="834.66" stroke="#cfcfcf" stroke-width="1.2" />
<line x1="114.13" y1="849.20" x2="113.41" y2="849.20" stroke="#cfcfcf" stroke-width="1.2" />
<line x1="114.13" y1="863.74" x2="113.41" y2="863.74" stroke="#cfcfcf" stroke-width="1.2" />
<line x1="114.13" y1="878.28" x2="113.41" y2="878.28" stroke="#cfcfcf" stroke-width="1.2" />
<line x1="114.13" y1="892.82" x2="113.41" y2="892.82" stroke="#cfcfcf" stroke-width="1.2" />
<line x1="113.20" y1="907.36" x2="113.41" y2="907.36" stroke="#cfcfcf" stroke-width="1.2" />
<circle cx="251.52" cy="776.50" r="1.9" fill="#f5383b"/>
<circle cx="114.60" cy="776.50" r="1.9" fill="#e0676b"/>
<circle cx="213.03" cy="791.04" r="1.9" fill="#f5383b"/>
<circle cx="116.58" cy="791.04" r="1.9" fill="#e0676b"/>
<circle cx="204.14" cy="805.58" r="1.9" fill="#f5383b"/>
<circle cx="114.60" cy="805.58" r="1.9" fill="#e0676b"/>
<circle cx="203.72" cy="820.12" r="1.9" fill="#f5383b"/>
<circle cx="115.53" cy="820.12" r="1.9" fill="#e0676b"/>
<circle cx="188.92" cy="834.66" r="1.9" fill="#f5383b"/>
<circle cx="113.71" cy="834.66" r="1.9" fill="#e0676b"/>
<circle cx="113.41" cy="849.20" r="1.9" fill="#f5383b"/>
<circle cx="114.13" cy="849.20" r="1.9" fill="#e0676b"/>
<circle cx="113.41" cy="863.74" r="1.9" fill="#f5383b"/>
<circle cx="114.13" cy="863.74" r="1.9" fill="#e0676b"/>
<circle cx="113.41" cy="878.28" r="1.9" fill="#f5383b"/>
<circle cx="114.13" cy="878.28" r="1.9" fill="#e0676b"/>
<circle cx="113.41" cy="892.82" r="1.9" fill="#f5383b"/>
<circle cx="114.13" cy="892.82" r="1.9" fill="#e0676b"/>
<circle cx="113.41" cy="907.36" r="1.9" fill="#f5383b"/>
<circle cx="113.20" cy="907.36" r="1.9" fill="#e0676b"/>
<line x1="102.60" y1="773.80" x2="102.60" y2="910.50" stroke="#6e6e6e" stroke-width="1.2" />
<line x1="102.60" y1="910.50" x2="272.20" y2="910.50" stroke="#6e6e6e" stroke-width="1.2" />
<line x1="272.20" y1="773.80" x2="272.20" y2="910.50" stroke="#8a8a8a" stroke-width="1.2" />
<line x1="102.60" y1="773.80" x2="272.20" y2="773.80" stroke="#6e6e6e" stroke-width="1.2" />
<line x1="99.40" y1="776.50" x2="102.60" y2="776.50" stroke="#666" stroke-width="0.9" />
<text x="97.80" y="780.30" font-size="10.6" text-anchor="end" fill="#1a1a1a" >Chongqing</text>
<line x1="99.40" y1="791.04" x2="102.60" y2="791.04" stroke="#666" stroke-width="0.9" />
<text x="97.80" y="794.84" font-size="10.6" text-anchor="end" fill="#1a1a1a" >Beijing</text>
<line x1="99.40" y1="805.58" x2="102.60" y2="805.58" stroke="#666" stroke-width="0.9" />
<text x="97.80" y="809.38" font-size="10.6" text-anchor="end" fill="#1a1a1a" >Chengdu</text>
<line x1="99.40" y1="820.12" x2="102.60" y2="820.12" stroke="#666" stroke-width="0.9" />
<text x="97.80" y="823.92" font-size="10.6" text-anchor="end" fill="#1a1a1a" >Shanghai</text>
<line x1="99.40" y1="834.66" x2="102.60" y2="834.66" stroke="#666" stroke-width="0.9" />
<text x="97.80" y="838.46" font-size="10.6" text-anchor="end" fill="#1a1a1a" >Guangzhou</text>
<line x1="99.40" y1="849.20" x2="102.60" y2="849.20" stroke="#666" stroke-width="0.9" />
<text x="97.80" y="853.00" font-size="10.6" text-anchor="end" fill="#1a1a1a" >Nyingchi</text>
<line x1="99.40" y1="863.74" x2="102.60" y2="863.74" stroke="#666" stroke-width="0.9" />
<text x="97.80" y="867.54" font-size="10.6" text-anchor="end" fill="#1a1a1a" >Guoluo</text>
<line x1="99.40" y1="878.28" x2="102.60" y2="878.28" stroke="#666" stroke-width="0.9" />
<text x="97.80" y="882.08" font-size="10.6" text-anchor="end" fill="#1a1a1a" >Huangnan</text>
<line x1="99.40" y1="892.82" x2="102.60" y2="892.82" stroke="#666" stroke-width="0.9" />
<text x="97.80" y="896.62" font-size="10.6" text-anchor="end" fill="#1a1a1a" >Ngari</text>
<line x1="99.40" y1="907.36" x2="102.60" y2="907.36" stroke="#666" stroke-width="0.9" />
<text x="97.80" y="911.16" font-size="10.6" text-anchor="end" fill="#1a1a1a" >Sansha</text>
<line x1="113.20" y1="910.50" x2="113.20" y2="913.00" stroke="#555" stroke-width="1" />
<text x="113.20" y="923.80" font-size="10.6" text-anchor="middle" fill="#1a1a1a" >0</text>
<line x1="155.50" y1="910.50" x2="155.50" y2="913.00" stroke="#555" stroke-width="1" />
<text x="155.50" y="923.80" font-size="10.6" text-anchor="middle" fill="#1a1a1a" >1</text>
<line x1="197.80" y1="910.50" x2="197.80" y2="913.00" stroke="#555" stroke-width="1" />
<text x="197.80" y="923.80" font-size="10.6" text-anchor="middle" fill="#1a1a1a" >2</text>
<line x1="240.10" y1="910.50" x2="240.10" y2="913.00" stroke="#555" stroke-width="1" />
<text x="240.10" y="923.80" font-size="10.6" text-anchor="middle" fill="#1a1a1a" >3</text>
<text x="128.30" y="936.10" font-size="10.6" text-anchor="start" fill="#1a1a1a" >Total material stocks (Gt)</text>
<text x="268.80" y="836.90" font-size="11.3" text-anchor="end" fill="#1a1a1a" >Top 5</text>
<text x="269.80" y="904.40" font-size="11.3" text-anchor="end" fill="#1a1a1a" >Bottom 5</text>
<text x="400.10" y="763.70" font-size="10.6" text-anchor="start" fill="#1a1a1a" >(j)</text>
<circle cx="499.4" cy="769.8" r="1.7" fill="#22c8cf"/>
<text x="516.40" y="774.10" font-size="11.1" text-anchor="start" fill="#1a1a1a" >1978</text>
<circle cx="554.6" cy="769.8" r="1.7" fill="#1862dc"/>
<text x="570.90" y="774.10" font-size="11.2" text-anchor="start" fill="#1a1a1a" >2020</text>
<line x1="426.20" y1="789.37" x2="596.10" y2="789.37" stroke="#f0f0f0" stroke-width="0.6" stroke-dasharray="1.5,1"/>
<line x1="426.20" y1="803.91" x2="596.10" y2="803.91" stroke="#f0f0f0" stroke-width="0.6" stroke-dasharray="1.5,1"/>
<line x1="426.20" y1="818.45" x2="596.10" y2="818.45" stroke="#f0f0f0" stroke-width="0.6" stroke-dasharray="1.5,1"/>
<line x1="426.20" y1="832.99" x2="596.10" y2="832.99" stroke="#f0f0f0" stroke-width="0.6" stroke-dasharray="1.5,1"/>
<line x1="426.20" y1="847.53" x2="596.10" y2="847.53" stroke="#f0f0f0" stroke-width="0.6" stroke-dasharray="1.5,1"/>
<line x1="426.20" y1="862.07" x2="596.10" y2="862.07" stroke="#f0f0f0" stroke-width="0.6" stroke-dasharray="1.5,1"/>
<line x1="426.20" y1="876.61" x2="596.10" y2="876.61" stroke="#f0f0f0" stroke-width="0.6" stroke-dasharray="1.5,1"/>
<line x1="426.20" y1="891.15" x2="596.10" y2="891.15" stroke="#f0f0f0" stroke-width="0.6" stroke-dasharray="1.5,1"/>
<line x1="426.20" y1="905.69" x2="596.10" y2="905.69" stroke="#f0f0f0" stroke-width="0.6" stroke-dasharray="1.5,1"/>
<line x1="426.20" y1="847.40" x2="596.10" y2="847.40" stroke="#c0c0c0" stroke-width="1.0" />
<line x1="444.68" y1="782.10" x2="486.88" y2="782.10" stroke="#cfcfcf" stroke-width="1.2" />
<line x1="447.45" y1="796.64" x2="479.79" y2="796.64" stroke="#cfcfcf" stroke-width="1.2" />
<line x1="447.45" y1="811.18" x2="481.64" y2="811.18" stroke="#cfcfcf" stroke-width="1.2" />
<line x1="444.99" y1="825.72" x2="471.48" y2="825.72" stroke="#cfcfcf" stroke-width="1.2" />
<line x1="445.91" y1="840.26" x2="476.10" y2="840.26" stroke="#cfcfcf" stroke-width="1.2" />
<line x1="475.17" y1="854.80" x2="513.36" y2="854.80" stroke="#cfcfcf" stroke-width="1.2" />
<line x1="578.35" y1="869.34" x2="557.72" y2="869.34" stroke="#cfcfcf" stroke-width="1.2" />
<line x1="470.24" y1="883.88" x2="490.88" y2="883.88" stroke="#cfcfcf" stroke-width="1.2" />
<line x1="577.12" y1="898.42" x2="533.69" y2="898.42" stroke="#cfcfcf" stroke-width="1.2" />
<line x1="441.60" y1="912.96" x2="513.98" y2="912.96" stroke="#cfcfcf" stroke-width="1.2" />
<circle cx="486.88" cy="782.10" r="1.9" fill="#1862dc"/>
<circle cx="444.68" cy="782.10" r="1.9" fill="#22c8cf"/>
<circle cx="479.79" cy="796.64" r="1.9" fill="#1862dc"/>
<circle cx="447.45" cy="796.64" r="1.9" fill="#22c8cf"/>
<circle cx="481.64" cy="811.18" r="1.9" fill="#1862dc"/>
<circle cx="447.45" cy="811.18" r="1.9" fill="#22c8cf"/>
<circle cx="471.48" cy="825.72" r="1.9" fill="#1862dc"/>
<circle cx="444.99" cy="825.72" r="1.9" fill="#22c8cf"/>
<circle cx="476.10" cy="840.26" r="1.9" fill="#1862dc"/>
<circle cx="445.91" cy="840.26" r="1.9" fill="#22c8cf"/>
<circle cx="513.36" cy="854.80" r="1.9" fill="#1862dc"/>
<circle cx="475.17" cy="854.80" r="1.9" fill="#22c8cf"/>
<circle cx="557.72" cy="869.34" r="1.9" fill="#1862dc"/>
<circle cx="578.35" cy="869.34" r="1.9" fill="#22c8cf"/>
<circle cx="490.88" cy="883.88" r="1.9" fill="#1862dc"/>
<circle cx="470.24" cy="883.88" r="1.9" fill="#22c8cf"/>
<circle cx="533.69" cy="898.42" r="1.9" fill="#1862dc"/>
<circle cx="577.12" cy="898.42" r="1.9" fill="#22c8cf"/>
<circle cx="513.98" cy="912.96" r="1.9" fill="#1862dc"/>
<circle cx="441.60" cy="912.96" r="1.9" fill="#22c8cf"/>
<line x1="426.20" y1="779.50" x2="426.20" y2="915.60" stroke="#6e6e6e" stroke-width="1.2" />
<line x1="426.20" y1="915.60" x2="596.10" y2="915.60" stroke="#6e6e6e" stroke-width="1.2" />
<line x1="596.10" y1="779.50" x2="596.10" y2="915.60" stroke="#8a8a8a" stroke-width="1.2" />
<line x1="426.20" y1="779.50" x2="596.10" y2="779.50" stroke="#6e6e6e" stroke-width="1.2" />
<line x1="423.00" y1="782.10" x2="426.20" y2="782.10" stroke="#666" stroke-width="0.9" />
<text x="421.40" y="785.90" font-size="10.6" text-anchor="end" fill="#1a1a1a" >Chongqing</text>
<line x1="423.00" y1="796.64" x2="426.20" y2="796.64" stroke="#666" stroke-width="0.9" />
<text x="421.40" y="800.44" font-size="10.6" text-anchor="end" fill="#1a1a1a" >Beijing</text>
<line x1="423.00" y1="811.18" x2="426.20" y2="811.18" stroke="#666" stroke-width="0.9" />
<text x="421.40" y="814.98" font-size="10.6" text-anchor="end" fill="#1a1a1a" >Chengdu</text>
<line x1="423.00" y1="825.72" x2="426.20" y2="825.72" stroke="#666" stroke-width="0.9" />
<text x="421.40" y="829.52" font-size="10.6" text-anchor="end" fill="#1a1a1a" >Shanghai</text>
<line x1="423.00" y1="840.26" x2="426.20" y2="840.26" stroke="#666" stroke-width="0.9" />
<text x="421.40" y="844.06" font-size="10.6" text-anchor="end" fill="#1a1a1a" >Guangzhou</text>
<line x1="423.00" y1="854.80" x2="426.20" y2="854.80" stroke="#666" stroke-width="0.9" />
<text x="421.40" y="858.60" font-size="10.6" text-anchor="end" fill="#1a1a1a" >Nyingchi</text>
<line x1="423.00" y1="869.34" x2="426.20" y2="869.34" stroke="#666" stroke-width="0.9" />
<text x="421.40" y="873.14" font-size="10.6" text-anchor="end" fill="#1a1a1a" >Guoluo</text>
<line x1="423.00" y1="883.88" x2="426.20" y2="883.88" stroke="#666" stroke-width="0.9" />
<text x="421.40" y="887.68" font-size="10.6" text-anchor="end" fill="#1a1a1a" >Huangnan</text>
<line x1="423.00" y1="898.42" x2="426.20" y2="898.42" stroke="#666" stroke-width="0.9" />
<text x="421.40" y="902.22" font-size="10.6" text-anchor="end" fill="#1a1a1a" >Ngari</text>
<line x1="423.00" y1="912.96" x2="426.20" y2="912.96" stroke="#666" stroke-width="0.9" />
<text x="421.40" y="916.76" font-size="10.6" text-anchor="end" fill="#1a1a1a" >Sansha</text>
<line x1="441.60" y1="915.60" x2="441.60" y2="918.10" stroke="#555" stroke-width="1" />
<text x="441.60" y="928.90" font-size="10.6" text-anchor="middle" fill="#1a1a1a" >0</text>
<line x1="487.80" y1="915.60" x2="487.80" y2="918.10" stroke="#555" stroke-width="1" />
<text x="487.80" y="928.90" font-size="10.6" text-anchor="middle" fill="#1a1a1a" >150</text>
<line x1="534.00" y1="915.60" x2="534.00" y2="918.10" stroke="#555" stroke-width="1" />
<text x="534.00" y="928.90" font-size="10.6" text-anchor="middle" fill="#1a1a1a" >300</text>
<line x1="580.20" y1="915.60" x2="580.20" y2="918.10" stroke="#555" stroke-width="1" />
<text x="580.20" y="928.90" font-size="10.6" text-anchor="middle" fill="#1a1a1a" >450</text>
<text x="443.00" y="941.60" font-size="10.6" text-anchor="start" fill="#1a1a1a" >Per capita material stocks (t)</text>
<text x="585.30" y="836.90" font-size="10.3" text-anchor="end" fill="#1a1a1a" >Top 5</text>
<text x="590.40" y="910.50" font-size="10.5" text-anchor="end" fill="#1a1a1a" >Bottom 5</text>
<defs><filter id="blur1" x="-10%" y="-10%" width="120%" height="120%"><feGaussianBlur stdDeviation="0.7"/></filter><clipPath id="chinaclip"><polygon points="14.4,440.5 15.2,438.8 16.6,437.6 18.2,437.6 19.8,437.4 21.4,437.1 23.0,436.6 24.6,436.8 26.4,436.8 28.2,436.6 29.9,436.0 31.6,435.7 33.4,435.4 34.7,434.4 36.1,433.4 37.7,433.1 39.3,432.5 40.7,431.7 40.6,429.8 41.7,428.1 41.5,426.2 42.1,424.4 43.7,423.6 45.2,422.8 47.2,423.3 48.7,422.2 50.2,420.9 51.6,419.6 52.6,417.9 53.8,416.4 55.3,415.5 57.1,415.5 58.7,415.3 60.4,414.9 61.6,413.2 63.3,412.0 65.7,411.7 67.7,410.5 69.6,411.9 71.3,413.5 73.0,415.1 74.2,417.1 74.9,418.8 76.5,419.8 77.2,421.5 76.7,423.3 77.3,425.1 77.1,427.0 77.2,428.8 79.0,429.2 80.7,429.9 82.5,430.2 84.3,430.6 85.9,431.7 86.7,433.4 88.3,434.5 89.0,436.3 90.3,437.6 91.5,438.9 91.8,440.8 93.2,441.9 95.1,442.8 97.1,443.2 99.1,443.4 100.9,443.8 102.7,443.7 104.5,444.0 106.4,443.5 108.2,444.0 110.0,444.1 111.7,444.8 113.6,444.4 115.2,445.5 117.0,445.7 118.8,445.6 120.5,445.1 122.2,444.6 124.0,444.2 125.7,443.7 127.5,443.4 129.7,443.2 131.4,441.8 133.4,441.2 134.3,439.6 135.6,438.3 137.4,437.5 138.5,436.1 139.4,434.4 139.2,432.4 140.6,431.5 142.1,430.6 143.6,429.7 145.0,428.8 146.9,428.5 148.6,427.4 150.5,427.3 152.3,426.6 153.8,425.9 155.3,425.3 156.5,424.1 158.0,423.4 159.6,423.0 161.3,421.4 163.3,420.0 161.5,419.4 159.6,419.9 157.8,419.5 156.0,419.7 154.1,419.9 152.3,419.3 150.8,418.1 150.1,416.4 150.9,414.8 151.4,413.1 151.6,411.3 153.3,410.9 155.0,411.0 156.7,410.5 157.8,409.2 158.9,407.8 159.9,406.4 160.4,404.7 160.0,402.8 160.4,400.8 159.6,398.9 159.7,397.0 158.9,395.2 160.6,394.6 162.5,394.1 164.0,393.0 165.8,392.8 167.6,392.5 169.4,392.2 171.3,392.3 173.0,393.4 175.0,393.8 176.1,395.1 176.9,396.5 177.2,398.1 178.4,399.8 179.9,401.2 181.5,402.5 183.0,403.5 184.2,404.7 185.9,405.4 188.0,405.4 189.9,406.1 191.8,406.9 193.7,406.4 195.7,406.3 197.6,406.2 199.4,405.1 201.3,404.3 203.4,404.0 204.9,405.4 204.8,407.4 204.0,409.3 204.2,411.3 203.0,412.8 202.5,414.6 202.0,416.4 201.3,418.6 200.5,420.8 200.6,422.5 199.6,424.0 199.9,425.7 199.8,427.3 198.7,428.6 198.4,430.5 197.3,431.9 196.1,433.2 194.5,433.9 193.1,434.9 191.8,436.1 189.9,437.6 188.7,439.6 187.6,441.4 186.8,443.4 185.7,445.2 184.8,446.5 183.6,447.7 183.1,449.3 181.6,450.0 180.0,450.3 178.2,451.8 176.5,453.4 175.1,454.6 173.4,455.4 173.9,453.7 173.9,451.9 173.6,449.8 174.4,447.8 172.4,447.3 171.2,448.4 170.3,449.8 168.5,450.4 167.3,451.9 166.7,453.7 165.2,454.9 163.9,455.9 162.7,457.0 161.5,458.3 163.5,459.5 165.0,460.2 166.6,460.6 167.4,462.1 168.8,463.2 170.2,462.0 171.4,460.6 174.5,461.1 176.1,461.0 177.7,461.3 179.3,461.5 177.5,463.3 175.4,464.2 174.0,465.9 171.8,468.1 170.6,469.4 170.1,471.1 169.6,473.3 171.4,474.6 174.0,476.4 175.3,478.0 175.8,479.9 177.3,481.2 178.0,483.0 179.6,484.2 180.6,486.0 181.5,488.7 180.6,490.9 182.8,492.2 181.9,495.2 182.3,498.0 181.6,500.1 180.1,501.7 179.7,503.5 179.5,505.5 178.6,507.2 177.4,508.9 176.8,510.9 176.2,512.8 175.5,514.5 174.1,515.7 173.2,517.3 172.0,518.6 170.8,519.9 169.7,521.5 168.5,522.8 167.0,523.9 165.6,525.2 163.8,526.0 162.0,526.6 160.5,527.8 159.0,528.2 157.6,529.2 155.9,529.2 153.9,529.7 151.9,530.3 150.1,531.4 148.0,531.9 146.1,532.6 144.2,533.6 143.1,535.4 141.3,536.5 139.1,538.0 138.7,536.2 138.4,534.3 136.4,534.5 134.6,533.5 132.6,533.6 130.5,533.2 128.7,531.9 126.7,531.4 125.1,530.9 123.9,529.7 122.3,529.2 120.6,529.5 118.9,530.0 117.1,529.7 115.4,530.0 113.6,529.9 111.5,530.2 109.7,531.6 107.7,532.1 107.0,533.5 106.3,535.0 104.1,534.2 101.9,533.6 100.7,532.4 98.8,532.5 97.6,531.3 96.1,530.7 95.6,529.0 95.3,527.2 94.6,525.5 93.5,523.7 91.5,522.8 90.2,521.2 90.7,519.5 90.8,517.8 91.0,516.1 91.8,514.3 92.0,512.3 93.5,510.8 93.9,508.8 93.0,507.3 91.2,506.7 89.9,505.7 88.8,504.4 86.8,504.2 85.0,505.5 83.0,505.4 81.2,506.3 79.2,506.8 77.2,506.8 75.2,506.7 73.2,507.1 71.3,507.6 69.3,506.9 67.5,506.0 65.5,505.4 63.6,505.5 61.9,504.5 60.0,504.3 58.2,503.9 56.7,503.2 55.2,502.6 53.8,501.8 52.2,501.3 50.9,500.3 49.1,499.5 47.9,498.0 46.3,497.0 45.2,495.4 43.6,494.4 42.4,493.0 40.8,491.9 39.2,491.0 37.6,490.0 36.3,488.6 34.8,487.8 33.4,486.9 32.0,485.8 30.7,484.6 29.0,484.2 27.6,483.2 26.8,481.7 25.7,480.4 24.6,479.1 24.5,477.4 24.3,475.7 23.8,474.1 23.1,472.5 23.5,470.8 24.0,469.1 24.2,467.3 24.7,465.6 24.6,463.8 24.1,461.6 23.1,459.5 22.2,457.9 20.7,456.7 20.2,454.8 18.8,453.6 17.9,451.8 17.4,449.9 16.9,448.0 15.8,446.3 15.8,444.2 15.4,442.3"/></clipPath></defs>
<text x="18.10" y="389.80" font-size="10.6" text-anchor="start" fill="#1a1a1a" >(g)</text>
<g transform="translate(0.00,0.00)">
<polyline points="123.9,529.7 122.3,529.2 120.6,529.5 118.9,530.0 117.1,529.7 115.4,530.0 113.6,529.9 111.5,530.2 109.7,531.6 107.7,532.1 107.0,533.5 106.3,535.0 104.1,534.2 101.9,533.6 100.7,532.4 98.8,532.5 97.6,531.3 96.1,530.7 95.6,529.0 95.3,527.2 94.6,525.5 93.5,523.7 91.5,522.8 90.2,521.2 90.7,519.5 90.8,517.8 91.0,516.1 91.8,514.3 92.0,512.3 93.5,510.8 93.9,508.8 93.0,507.3 91.2,506.7 89.9,505.7 88.8,504.4 86.8,504.2 85.0,505.5 83.0,505.4 81.2,506.3 79.2,506.8 77.2,506.8 75.2,506.7 73.2,507.1 71.3,507.6 69.3,506.9 67.5,506.0 65.5,505.4 63.6,505.5 61.9,504.5 60.0,504.3 58.2,503.9 56.7,503.2 55.2,502.6 53.8,501.8 52.2,501.3 50.9,500.3 49.1,499.5 47.9,498.0 46.3,497.0 45.2,495.4 43.6,494.4 42.4,493.0 40.8,491.9 39.2,491.0 37.6,490.0 36.3,488.6 34.8,487.8 33.4,486.9 32.0,485.8 30.7,484.6 29.0,484.2 27.6,483.2 26.8,481.7 25.7,480.4 24.6,479.1 24.5,477.4 24.3,475.7 23.8,474.1 23.1,472.5 23.5,470.8 24.0,469.1 24.2,467.3 24.7,465.6 24.6,463.8 24.1,461.6 23.1,459.5 22.2,457.9 20.7,456.7 20.2,454.8 18.8,453.6 17.9,451.8 17.4,449.9 16.9,448.0 15.8,446.3 15.8,444.2 15.4,442.3 14.4,440.5 15.2,438.8 16.6,437.6 18.2,437.6 19.8,437.4 21.4,437.1 23.0,436.6 24.6,436.8 26.4,436.8 28.2,436.6 29.9,436.0 31.6,435.7 33.4,435.4 34.7,434.4 36.1,433.4 37.7,433.1 39.3,432.5 40.7,431.7 40.6,429.8 41.7,428.1 41.5,426.2 42.1,424.4 43.7,423.6 45.2,422.8 47.2,423.3 48.7,422.2 50.2,420.9 51.6,419.6 52.6,417.9 53.8,416.4 55.3,415.5 57.1,415.5 58.7,415.3 60.4,414.9 61.6,413.2 63.3,412.0 65.7,411.7 67.7,410.5 69.6,411.9 71.3,413.5 73.0,415.1 74.2,417.1 74.9,418.8 76.5,419.8 77.2,421.5 76.7,423.3 77.3,425.1 77.1,427.0 77.2,428.8 79.0,429.2 80.7,429.9 82.5,430.2 84.3,430.6 85.9,431.7 86.7,433.4 88.3,434.5 89.0,436.3 90.3,437.6 91.5,438.9 91.8,440.8 93.2,441.9 95.1,442.8 97.1,443.2 99.1,443.4 100.9,443.8 102.7,443.7 104.5,444.0 106.4,443.5 108.2,444.0 110.0,444.1 111.7,444.8 113.6,444.4 115.2,445.5 117.0,445.7 118.8,445.6 120.5,445.1 122.2,444.6 124.0,444.2 125.7,443.7 127.5,443.4 129.7,443.2 131.4,441.8 133.4,441.2 134.3,439.6 135.6,438.3 137.4,437.5 138.5,436.1 139.4,434.4 139.2,432.4 140.6,431.5 142.1,430.6 143.6,429.7 145.0,428.8 146.9,428.5 148.6,427.4 150.5,427.3 152.3,426.6 153.8,425.9 155.3,425.3 156.5,424.1 158.0,423.4 159.6,423.0 161.3,421.4 163.3,420.0 161.5,419.4 159.6,419.9 157.8,419.5 156.0,419.7 154.1,419.9 152.3,419.3 150.8,418.1 150.1,416.4 150.9,414.8 151.4,413.1 151.6,411.3 153.3,410.9 155.0,411.0 156.7,410.5 157.8,409.2 158.9,407.8 159.9,406.4 160.4,404.7 160.0,402.8 160.4,400.8 159.6,398.9 159.7,397.0 158.9,395.2 160.6,394.6 162.5,394.1 164.0,393.0 165.8,392.8 167.6,392.5 169.4,392.2 171.3,392.3 173.0,393.4 175.0,393.8 176.1,395.1 176.9,396.5 177.2,398.1 178.4,399.8 179.9,401.2 181.5,402.5 183.0,403.5 184.2,404.7 185.9,405.4 188.0,405.4 189.9,406.1 191.8,406.9 193.7,406.4 195.7,406.3 197.6,406.2 199.4,405.1 201.3,404.3 203.4,404.0 204.9,405.4 204.8,407.4 204.0,409.3 204.2,411.3 203.0,412.8 202.5,414.6 202.0,416.4 201.3,418.6 200.5,420.8 200.6,422.5 199.6,424.0 199.9,425.7 199.8,427.3 198.7,428.6 198.4,430.5 197.3,431.9 196.1,433.2 194.5,433.9 193.1,434.9 191.8,436.1 189.9,437.6 188.7,439.6 187.6,441.4 186.8,443.4 185.7,445.2 184.8,446.5 183.6,447.7 183.1,449.3" fill="none" stroke="#b6aeec" stroke-width="4.0" stroke-linejoin="round" stroke-linecap="round" filter="url(#blur1)"/>
<path d="M26.8,448.8 30.7,438.3 29.8,436.0 28.2,436.6 26.4,436.8 24.6,436.8 23.0,436.6 21.4,437.1 19.8,437.4 18.2,437.6 16.6,437.6 15.2,438.8 14.4,440.5 15.4,442.3 15.8,444.2 15.8,446.3 16.9,448.0 17.4,449.9 17.6,450.5ZM31.3,474.7 30.5,464.9 27.5,461.7 24.2,462.3 24.6,463.8 24.7,465.6 24.2,467.3 24.0,469.1 23.5,470.8 23.1,472.5 23.8,474.1 24.3,475.7 24.5,477.4 24.5,478.2ZM49.1,430.6 54.1,416.2 53.8,416.4 52.6,417.9 51.6,419.6 50.2,420.9 48.7,422.2 47.2,423.3 45.2,422.8 43.7,423.6 42.1,424.4 41.5,426.2 41.7,428.1 41.4,428.5ZM27.5,461.7 29.3,453.3 26.8,448.8 17.6,450.5 17.9,451.8 18.8,453.6 20.2,454.8 20.7,456.7 22.2,457.9 23.1,459.5 24.1,461.6 24.2,462.3ZM27.5,461.7 30.5,464.9 41.5,461.3 43.1,458.0 40.1,454.7 29.3,453.3ZM43.9,480.7 44.3,478.4 44.1,478.2 31.3,474.7 24.5,478.2 24.6,479.1 25.7,480.4 26.8,481.7 27.6,483.2 29.0,484.2 30.7,484.6 32.0,485.8 33.4,486.9 34.8,487.8 36.3,488.6 36.7,489.0ZM44.3,478.4 49.9,476.7 55.9,469.6 55.1,461.4 47.2,457.4 43.1,458.0 41.5,461.3 44.1,478.2ZM30.5,464.9 31.3,474.7 44.1,478.2 41.5,461.3ZM29.3,453.3 40.1,454.7 40.5,442.4 30.7,438.3 26.8,448.8ZM40.1,454.7 43.1,458.0 47.2,457.4 53.2,441.0 52.4,439.9 40.5,442.4ZM52.4,439.9 52.5,438.7 49.1,430.6 41.4,428.5 40.6,429.8 40.7,431.7 39.3,432.5 37.7,433.1 36.1,433.4 34.7,434.4 33.4,435.4 31.6,435.7 29.9,436.0 29.8,436.0 30.7,438.3 40.5,442.4ZM52.0,498.8 43.9,480.7 36.7,489.0 37.6,490.0 39.2,491.0 40.8,491.9 42.4,493.0 43.6,494.4 45.2,495.4 46.3,497.0 47.9,498.0 49.1,499.5 50.9,500.3 51.5,500.7ZM44.3,478.4 43.9,480.7 52.0,498.8 61.1,490.5 61.3,485.1 49.9,476.7ZM64.9,427.8 69.9,429.5 77.2,426.7 77.3,425.1 76.7,423.3 77.2,421.5 76.5,419.8 74.9,418.8 74.2,417.1 73.0,415.1 71.3,413.5 69.6,411.9 67.7,410.5 65.7,411.7 63.3,412.0 61.6,413.2 60.4,414.9 58.7,415.3 57.1,415.5ZM55.1,461.4 55.6,460.9 60.8,448.4 59.9,444.8 53.2,441.0 47.2,457.4ZM52.4,439.9 53.2,441.0 59.9,444.8 68.7,441.4 69.9,429.5 64.9,427.8 52.5,438.7ZM51.5,500.7 52.2,501.3 53.8,501.8 55.2,502.6 56.7,503.2 58.2,503.9 60.0,504.3 61.9,504.5 63.6,505.5 65.5,505.4 67.4,506.0 69.4,497.3 67.8,493.8 61.1,490.5 52.0,498.8ZM55.1,461.4 55.9,469.6 62.7,470.7 69.2,465.4 69.6,460.2 69.3,459.5 55.6,460.9ZM49.9,476.7 61.3,485.1 67.4,480.8 68.3,478.5 62.7,470.7 55.9,469.6ZM52.5,438.7 64.9,427.8 57.1,415.5 57.1,415.5 55.3,415.5 54.1,416.2 49.1,430.6ZM61.3,485.1 61.1,490.5 67.8,493.8 74.2,487.7 67.4,480.8ZM55.6,460.9 69.3,459.5 69.7,456.0 60.8,448.4ZM59.9,444.8 60.8,448.4 69.7,456.0 75.3,451.0 72.9,443.5 68.7,441.4ZM69.4,497.3 84.3,496.1 77.6,487.9 74.2,487.7 67.8,493.8ZM68.3,478.5 77.4,474.1 77.7,473.2 69.2,465.4 62.7,470.7ZM74.2,487.7 77.6,487.9 80.4,479.5 77.4,474.1 68.3,478.5 67.4,480.8ZM69.6,460.2 79.1,461.9 82.0,457.1 78.1,451.6 75.3,451.0 69.7,456.0 69.3,459.5ZM68.7,441.4 72.9,443.5 86.3,436.4 87.2,433.7 86.7,433.4 85.9,431.7 84.3,430.6 82.5,430.2 80.7,429.9 79.0,429.2 77.2,428.8 77.1,427.0 77.2,426.7 69.9,429.5ZM69.2,465.4 77.7,473.2 81.4,469.4 79.1,461.9 69.6,460.2ZM67.4,506.0 67.5,506.0 69.3,506.9 71.3,507.6 73.2,507.1 75.2,506.7 77.2,506.8 79.2,506.8 81.2,506.3 83.0,505.4 85.0,505.5 85.7,505.0 86.0,503.9 84.7,496.3 84.3,496.1 69.4,497.3ZM84.3,496.1 84.7,496.3 90.5,490.1 90.5,490.1 89.2,481.5 80.4,479.5 77.6,487.9ZM84.7,496.3 86.0,503.9 94.7,502.2 99.1,495.7 91.8,490.5 90.5,490.1ZM80.4,479.5 89.2,481.5 92.7,476.9 92.9,476.6 92.8,476.5 84.2,469.1 81.4,469.4 77.7,473.2 77.4,474.1ZM86.3,436.4 72.9,443.5 75.3,451.0 78.1,451.6 87.2,444.7ZM81.4,469.4 84.2,469.1 90.5,463.3 89.4,457.3 89.3,457.1 82.0,457.1 79.1,461.9ZM90.5,490.1 98.9,483.8 92.7,476.9 89.2,481.5ZM84.2,469.1 92.8,476.5 96.0,470.2 93.2,464.7 90.5,463.3ZM82.0,457.1 89.3,457.1 90.8,449.5 87.2,444.7 78.1,451.6ZM90.5,463.3 93.2,464.7 100.0,461.9 97.7,457.1 89.4,457.3ZM92.7,476.9 98.9,483.8 102.6,484.0 102.8,477.5 92.9,476.6ZM96.0,470.2 99.5,469.8 103.1,466.9 102.1,462.5 100.0,461.9 93.2,464.7ZM90.5,490.1 91.8,490.5 100.2,489.4 103.2,485.2 103.2,484.7 102.6,484.0 98.9,483.8 90.5,490.1ZM86.0,503.9 85.7,505.0 86.8,504.2 88.8,504.4 89.9,505.7 91.2,506.7 93.0,507.3 93.9,508.8 93.6,510.2 100.7,510.8 101.8,509.0 97.6,502.8 94.7,502.2ZM92.9,476.6 102.8,477.5 103.5,476.9 103.5,476.6 99.5,469.8 96.0,470.2 92.8,476.5ZM94.7,502.2 97.6,502.8 102.8,501.0 103.9,499.1 101.8,495.6 99.1,495.7ZM91.8,490.5 99.1,495.7 101.8,495.6 102.4,494.0 100.2,489.4ZM103.2,484.7 109.0,482.5 110.4,478.0 110.4,477.9 103.5,476.9 102.8,477.5 102.6,484.0ZM100.2,489.4 102.4,494.0 107.7,490.8 107.9,490.1 103.2,485.2ZM99.5,469.8 103.5,476.6 106.2,471.4 103.6,467.2 103.1,466.9ZM101.8,495.6 103.9,499.1 108.5,499.1 109.4,498.2 109.8,495.5 107.7,490.8 102.4,494.0ZM102.1,462.5 103.1,466.9 103.6,467.2 112.1,465.4 111.3,461.7 104.3,460.4ZM124.0,445.2 126.1,446.3 130.4,446.0 131.7,443.5 130.9,442.2 129.7,443.2 127.5,443.4 125.7,443.7 124.0,444.2 123.8,444.3ZM142.6,432.6 142.1,430.6 142.1,430.6 140.6,431.5 139.2,432.4 139.3,433.9ZM103.2,485.2 107.9,490.1 112.6,487.6 112.5,486.8 109.0,482.5 103.2,484.7ZM103.5,476.9 110.4,477.9 109.7,471.5 106.2,471.4 103.5,476.6ZM110.4,478.0 114.6,478.1 116.1,476.2 114.0,469.2 113.2,468.3 109.7,471.5 110.4,477.9ZM106.2,471.4 109.7,471.5 113.2,468.3 113.0,466.5 112.1,465.4 103.6,467.2ZM115.6,480.5 119.0,482.6 123.0,480.3 122.4,477.9 118.5,475.7 116.1,476.2 114.6,478.1ZM113.1,458.0 119.7,458.0 119.8,452.7 113.4,450.4 112.9,450.5 111.6,454.8ZM116.9,446.5 121.5,449.2 124.0,445.2 123.8,444.3 122.2,444.6 120.5,445.1 118.8,445.6 117.0,445.7 116.9,445.7ZM116.1,476.2 118.5,475.7 120.8,472.1 119.9,470.0 114.0,469.2ZM121.6,450.7 126.0,452.2 127.2,451.9 127.3,451.7 126.1,446.3 124.0,445.2 121.5,449.2ZM127.3,451.7 131.2,449.3 130.4,446.0 126.1,446.3ZM139.5,437.0 138.7,435.8 138.5,436.1 137.4,437.5 135.6,438.3 135.0,438.9 136.5,440.7 138.6,439.6ZM138.6,439.6 140.6,442.0 143.0,441.5 143.1,440.2 141.3,437.3 139.5,437.0ZM142.6,432.6 145.8,434.6 147.1,434.6 147.4,434.5 148.5,430.8 147.5,428.1 146.9,428.5 145.0,428.8 143.6,429.7 142.1,430.6ZM139.5,437.0 141.3,437.3 145.8,434.6 142.6,432.6 139.3,433.9 139.4,434.4 138.7,435.8ZM143.1,440.2 146.8,437.4 147.1,434.6 145.8,434.6 141.3,437.3ZM143.0,441.5 144.0,442.5 146.3,442.4 147.2,438.5 146.8,437.4 143.1,440.2ZM146.3,442.4 147.3,443.0 150.6,441.6 150.8,441.0 147.2,438.5ZM147.2,438.5 150.8,441.0 152.2,439.8 152.5,436.7 147.4,434.5 147.1,434.6 146.8,437.4ZM152.5,436.7 156.8,434.7 157.2,433.1 155.2,430.8 148.5,430.8 147.4,434.5ZM152.5,436.7 152.2,439.8 154.5,441.1 156.3,440.7 158.0,436.9 156.8,434.7ZM148.5,430.8 155.2,430.8 155.1,425.4 153.8,425.9 152.3,426.6 150.5,427.3 148.6,427.4 147.5,428.1ZM155.2,430.8 157.2,433.1 161.8,430.9 159.2,424.5 157.7,423.6 156.5,424.1 155.3,425.3 155.1,425.4ZM157.2,419.6 157.8,419.5 159.6,419.9 161.5,419.4 163.3,420.0 161.3,421.4 159.6,423.0 158.0,423.4 157.7,423.6 159.2,424.5 166.5,423.8 161.4,417.7 159.8,417.2 158.7,417.5ZM161.8,430.9 163.5,431.0 167.7,424.5 167.7,424.3 167.7,424.3 166.5,423.8 159.2,424.5ZM165.8,433.8 172.2,430.5 167.7,424.5 163.5,431.0ZM167.7,424.5 172.2,430.5 174.1,431.3 175.6,430.7 176.8,425.0 176.5,424.3 172.7,422.7 167.7,424.3ZM191.8,429.6 189.0,432.3 190.2,437.4 191.8,436.1 193.1,434.9 194.5,433.9 196.1,433.2 196.8,432.5ZM195.7,418.4 196.9,421.7 200.1,423.3 200.6,422.5 200.5,420.8 201.3,418.6 202.0,416.4 202.5,414.6 202.9,413.2Z" fill="#fde8da" stroke="#c4b3a8" stroke-width="0.3" stroke-linejoin="round"/>
<path d="M168.9,395.5 169.3,392.2 167.6,392.5 165.8,392.8 164.0,393.0 162.5,394.1 160.6,394.6 158.9,395.2 159.7,396.9ZM87.2,444.7 90.8,449.5 95.0,449.1 97.9,443.3 97.1,443.2 95.1,442.8 93.2,441.9 91.8,440.8 91.5,438.9 90.3,437.6 89.0,436.3 88.3,434.5 87.2,433.7 86.3,436.4ZM89.3,457.1 89.4,457.3 97.7,457.1 99.2,454.9 96.2,449.6 95.0,449.1 90.8,449.5ZM96.2,449.6 101.1,448.6 102.1,447.4 100.9,443.8 100.9,443.8 99.1,443.4 97.9,443.3 95.0,449.1ZM100.9,523.5 100.7,516.0 92.7,517.9ZM97.7,457.1 100.0,461.9 102.1,462.5 104.3,460.4 104.6,454.7 103.7,454.4 99.2,454.9ZM99.2,454.9 103.7,454.4 101.1,448.6 96.2,449.6ZM104.6,454.7 104.7,454.7 107.4,447.0 102.1,447.4 101.1,448.6 103.7,454.4ZM104.3,460.4 111.3,461.7 113.1,458.0 111.6,454.8 104.7,454.7 104.6,454.7ZM112.5,486.8 115.6,480.5 114.6,478.1 110.4,478.0 109.0,482.5ZM113.0,466.5 121.1,463.5 121.9,461.8 121.7,459.7 119.7,458.0 113.1,458.0 111.3,461.7 112.1,465.4ZM104.7,454.7 111.6,454.8 112.9,450.5 108.5,446.3 107.4,447.0ZM114.4,488.6 117.1,488.5 119.6,486.7 119.0,482.6 115.6,480.5 112.5,486.8 112.6,487.6ZM114.0,469.2 119.9,470.0 121.8,466.7 121.1,463.5 113.0,466.5 113.2,468.3ZM119.8,452.7 121.6,450.7 121.5,449.2 116.9,446.5 113.4,450.4ZM129.4,529.8 128.0,526.8 123.8,529.7 123.9,529.7 125.1,530.9 126.7,531.4 128.1,531.8ZM122.8,529.4 123.8,529.7 128.0,526.8 128.5,524.8 126.3,523.2 122.3,525.6ZM131.7,443.5 132.2,443.6 136.3,441.2 136.5,440.7 135.0,438.9 134.3,439.6 133.4,441.2 131.4,441.8 130.9,442.2ZM119.2,520.2 118.5,523.2 122.3,525.6 126.3,523.2 125.9,521.8 122.5,519.2ZM123.8,458.5 129.1,458.2 130.2,455.7 127.2,451.9 126.0,452.2ZM128.5,524.8 130.3,524.5 131.8,522.2 131.0,518.0 130.7,517.8 128.8,518.1 125.9,521.8 126.3,523.2ZM135.2,445.6 138.3,444.6 136.3,441.2 132.2,443.6ZM158.7,417.5 156.7,414.4 151.5,412.5 151.4,413.1 150.9,414.8 150.1,416.4 150.8,418.1 152.3,419.3 154.1,419.9 156.0,419.7 157.2,419.6ZM158.7,417.5 159.8,417.2 163.0,410.6 157.9,409.1 156.7,414.4ZM160.3,401.3 160.0,402.8 160.4,404.7 159.9,406.4 158.9,407.8 157.9,409.1 157.9,409.1 163.0,410.6 163.5,410.4 164.1,403.6 163.8,403.2ZM163.8,403.2 170.2,398.0 168.9,395.5 159.7,396.9 159.7,397.0 159.6,398.9 160.4,400.8 160.3,401.3ZM161.4,417.7 167.2,415.9 167.4,411.9 163.5,410.4 163.0,410.6 159.8,417.2ZM166.5,423.8 167.7,424.3 168.2,417.1 167.2,415.9 161.4,417.7ZM163.5,410.4 167.4,411.9 170.2,410.4 168.1,405.2 164.1,403.6ZM168.9,395.5 170.2,398.0 172.3,399.0 177.1,397.3 176.9,396.5 176.1,395.1 175.0,393.8 173.0,393.4 171.3,392.3 169.4,392.2 169.3,392.2ZM167.2,415.9 168.2,417.1 173.6,416.8 175.1,415.3 172.3,410.6 170.2,410.4 167.4,411.9ZM164.1,403.6 168.1,405.2 172.3,403.1 172.3,399.0 170.2,398.0 163.8,403.2ZM170.2,410.4 172.3,410.6 175.6,406.5 172.3,403.1 168.1,405.2ZM175.1,415.3 175.8,415.4 182.1,412.8 178.9,406.1 175.6,406.5 172.3,410.6ZM172.3,403.1 175.6,406.5 178.9,406.1 181.3,402.3 179.9,401.2 178.4,399.8 177.2,398.1 177.1,397.3 172.3,399.0ZM178.9,406.1 182.1,412.8 182.5,412.9 189.6,407.9 189.7,406.1 188.0,405.4 185.9,405.4 184.2,404.7 183.0,403.5 181.5,402.5 181.3,402.3ZM189.6,407.9 192.9,412.7 198.6,410.0 198.2,405.8 197.6,406.2 195.7,406.3 193.7,406.4 191.8,406.9 189.9,406.1 189.7,406.1ZM189.6,417.4 192.8,416.0 192.9,412.7 189.6,407.9 182.5,412.9 182.6,413.1ZM191.2,426.2 196.9,421.7 195.7,418.4 192.8,416.0 189.6,417.4 188.3,419.8ZM196.9,421.7 191.2,426.2 191.0,426.6 191.8,429.6 196.8,432.5 197.3,431.9 198.4,430.5 198.7,428.6 199.8,427.3 199.9,425.7 199.6,424.0 200.1,423.3ZM198.6,410.0 202.9,413.0 203.0,412.8 204.2,411.3 204.0,409.3 204.8,407.4 204.9,405.4 203.4,404.0 201.3,404.3 199.4,405.1 198.2,405.8ZM192.8,416.0 195.7,418.4 202.9,413.2 202.9,413.0 198.6,410.0 192.9,412.7Z" fill="#f5bfa2" stroke="#e6b9a3" stroke-width="0.3" stroke-linejoin="round"/>
<path d="M100.5,527.4 101.6,524.7 101.4,524.5 94.1,524.8 94.6,525.5 95.3,527.2 95.6,529.0 96.1,530.7 96.3,530.8ZM156.7,414.4 157.9,409.1 157.9,409.1 157.8,409.2 156.7,410.5 155.0,411.0 153.3,410.9 151.6,411.3 151.5,412.5ZM102.1,447.4 107.4,447.0 108.5,446.3 108.8,444.0 108.2,444.0 106.4,443.5 104.5,444.0 102.7,443.7 100.9,443.8ZM101.4,524.5 100.9,523.5 92.7,517.9 90.8,517.6 90.8,517.8 90.7,519.5 90.2,521.2 91.5,522.8 93.5,523.7 94.1,524.8ZM92.7,517.9 100.7,516.0 101.9,514.4 100.7,510.8 93.6,510.2 93.5,510.8 92.0,512.3 91.8,514.3 91.0,516.1 90.8,517.6ZM100.7,510.8 101.9,514.4 104.5,515.2 109.7,510.5 107.4,507.3 104.7,507.2 101.8,509.0ZM101.8,509.0 104.7,507.2 102.8,501.0 97.6,502.8ZM101.6,524.7 100.5,527.4 103.6,534.1 104.1,534.2 105.6,534.8 108.4,525.6 108.3,525.4 105.7,524.4ZM102.8,501.0 104.7,507.2 107.4,507.3 109.7,504.0 108.5,499.1 103.9,499.1ZM104.5,515.2 106.0,516.9 111.1,516.8 111.2,511.2 109.7,510.5ZM112.9,450.5 113.4,450.4 116.9,446.5 116.9,445.7 115.2,445.5 113.6,444.4 111.7,444.8 110.0,444.1 108.8,444.0 108.5,446.3ZM121.7,459.7 123.8,458.5 126.0,452.2 121.6,450.7 119.8,452.7 119.7,458.0ZM122.4,477.9 125.6,474.7 124.4,472.4 120.8,472.1 118.5,475.7ZM121.8,466.7 125.5,469.3 126.7,468.8 127.6,464.3 121.9,461.8 121.1,463.5ZM123.6,492.7 123.9,493.0 127.7,491.5 127.7,488.7 125.9,486.4 124.6,485.9 122.1,487.3ZM119.6,486.7 122.1,487.3 124.6,485.9 124.6,481.4 123.0,480.3 119.0,482.6ZM124.6,481.4 127.4,480.7 127.7,475.2 125.6,474.7 122.4,477.9 123.0,480.3ZM121.9,461.8 127.6,464.3 129.5,463.8 131.1,461.4 129.1,458.2 123.8,458.5 121.7,459.7ZM124.6,485.9 125.9,486.4 129.8,483.8 128.0,480.9 127.4,480.7 124.6,481.4ZM127.2,451.9 130.2,455.7 133.1,454.8 131.7,449.6 131.2,449.3 127.3,451.7ZM125.9,486.4 127.7,488.7 132.3,486.5 131.7,484.6 129.8,483.8ZM130.0,470.1 132.3,469.0 132.6,468.6 132.6,468.4 129.5,463.8 127.6,464.3 126.7,468.8ZM128.0,480.9 132.4,478.8 133.0,476.5 129.0,474.8 127.7,475.2 127.4,480.7ZM129.1,458.2 131.1,461.4 131.3,461.4 134.8,458.5 134.4,455.5 133.9,455.0 133.1,454.8 130.2,455.7ZM131.2,449.3 131.7,449.6 135.3,449.2 135.2,445.6 132.2,443.6 131.7,443.5 130.4,446.0ZM129.0,474.8 133.0,476.5 133.1,476.4 133.9,474.3 132.3,469.0 130.0,470.1ZM132.5,526.4 136.1,525.1 135.6,522.3 131.8,522.2 130.3,524.5ZM133.1,454.8 133.9,455.0 136.4,451.6 135.4,449.2 135.3,449.2 131.7,449.6ZM132.3,469.0 133.9,474.3 138.1,471.2 132.6,468.6ZM137.9,528.6 138.3,527.1 138.2,527.0 136.1,525.1 132.5,526.4 133.1,529.8 134.0,530.1ZM133.1,476.4 135.9,477.1 138.9,474.4 139.2,471.2 139.0,471.1 138.1,471.2 133.9,474.3ZM134.8,458.5 138.3,460.5 139.1,460.2 139.8,455.8 134.4,455.5ZM135.3,449.2 135.4,449.2 139.6,447.8 140.2,446.6 139.0,444.8 138.3,444.6 135.2,445.6ZM134.4,455.5 139.8,455.8 140.7,454.8 140.8,453.2 140.3,452.7 136.4,451.6 133.9,455.0ZM136.3,441.2 138.3,444.6 139.0,444.8 140.6,442.0 138.6,439.6 136.5,440.7ZM136.4,451.6 140.3,452.7 139.6,447.8 135.4,449.2ZM135.9,477.1 138.0,479.4 140.4,479.1 140.6,476.5 138.9,474.4ZM140.7,454.8 143.2,456.1 145.0,455.7 147.1,452.1 147.0,452.1 146.5,451.3 143.8,451.3 140.8,453.2ZM145.0,455.7 147.9,457.6 148.3,457.5 149.2,455.2 147.1,452.1ZM167.8,444.9 171.3,446.5 172.7,443.6 171.3,441.0 170.1,440.9 167.5,443.8ZM168.3,437.0 173.0,435.3 174.1,431.3 172.2,430.5 165.8,433.8 166.2,436.0ZM170.1,440.9 171.3,441.0 173.9,439.6 174.0,436.9 173.0,435.3 168.3,437.0ZM173.0,435.3 174.0,436.9 177.7,436.9 179.8,435.1 180.7,433.2 175.6,430.7 174.1,431.3ZM171.3,441.0 172.7,443.6 175.2,443.9 176.0,440.7 173.9,439.6ZM176.0,440.7 177.1,440.5 177.7,436.9 174.0,436.9 173.9,439.6ZM179.7,441.4 180.5,441.1 179.8,435.1 177.7,436.9 177.1,440.5ZM178.9,443.9 181.0,447.0 181.5,446.9 183.3,444.3 183.3,443.1 181.6,441.2 180.5,441.1 179.7,441.4ZM181.1,450.1 181.6,450.0 183.1,449.3 183.5,448.1 181.5,446.9 181.0,447.0 180.2,447.9ZM183.3,443.1 186.2,442.1 185.3,437.8 184.8,437.5 181.6,441.2ZM185.3,437.8 186.2,442.1 187.1,442.5 187.6,441.4 188.7,439.6 189.6,438.2ZM186.2,442.1 183.3,443.1 183.3,444.3 185.4,445.6 185.7,445.2 186.8,443.4 187.1,442.5ZM183.3,444.3 181.5,446.9 183.5,448.1 183.6,447.7 184.8,446.5 185.4,445.6Z" fill="#ec8e70" stroke="#f3b8a2" stroke-width="0.3" stroke-linejoin="round"/>
<path d="M100.5,527.4 96.3,530.8 97.6,531.3 98.8,532.5 100.7,532.4 101.9,533.6 103.6,534.1ZM101.6,524.7 105.7,524.4 106.0,516.9 104.5,515.2 101.9,514.4 100.7,516.0 100.9,523.5 101.4,524.5ZM108.4,525.6 105.6,534.8 106.3,535.0 107.0,533.5 107.7,532.1 109.7,531.6 111.5,530.2 113.6,529.9 113.7,529.9ZM108.5,499.1 109.7,504.0 114.5,504.5 115.6,500.6 115.0,499.3 109.4,498.2ZM107.7,490.8 109.8,495.5 114.4,493.7 114.4,488.6 112.6,487.6 107.9,490.1ZM109.7,510.5 111.2,511.2 114.2,510.4 116.1,507.8 116.2,506.9 114.5,504.5 109.7,504.0 107.4,507.3ZM105.7,524.4 108.3,525.4 111.1,522.6 112.2,517.9 111.1,516.8 106.0,516.9ZM116.2,506.9 122.0,503.9 122.0,503.7 122.1,503.6 121.3,501.3 115.6,500.6 114.5,504.5ZM109.8,495.5 109.4,498.2 115.0,499.3 116.9,495.8 114.4,493.7ZM116.9,495.8 117.3,495.7 119.2,492.7 117.1,488.5 114.4,488.6 114.4,493.7ZM115.6,500.6 121.3,501.3 122.1,498.4 117.3,495.7 116.9,495.8 115.0,499.3ZM119.2,520.2 122.5,519.2 124.3,515.4 123.7,514.4 120.2,513.5 117.5,515.1 117.0,517.1ZM120.2,513.5 123.7,514.4 124.8,510.1 122.6,509.0 120.2,510.2ZM120.8,472.1 124.4,472.4 125.5,469.3 121.8,466.7 119.9,470.0ZM125.9,521.8 128.8,518.1 125.2,515.5 124.3,515.4 122.5,519.2ZM125.6,474.7 127.7,475.2 129.0,474.8 130.0,470.1 126.7,468.8 125.5,469.3 124.4,472.4ZM123.7,514.4 124.3,515.4 125.2,515.5 128.7,512.8 126.5,509.5 124.8,510.1ZM128.8,518.1 130.7,517.8 129.4,513.0 128.7,512.8 125.2,515.5ZM128.7,512.8 129.4,513.0 131.5,511.8 131.8,511.0 130.5,508.1 127.7,507.7 126.5,509.5ZM129.4,529.8 133.1,529.8 133.1,529.8 132.5,526.4 130.3,524.5 128.5,524.8 128.0,526.8ZM128.7,503.4 131.6,503.8 132.8,502.3 131.9,498.7 128.4,498.7 127.8,501.6ZM127.7,491.5 129.6,492.6 131.6,492.5 133.6,489.8 132.9,487.1 132.3,486.5 127.7,488.7ZM127.7,507.7 130.5,508.1 132.4,506.5 131.6,503.8 128.7,503.4 127.4,506.8ZM129.8,483.8 131.7,484.6 133.5,482.0 132.4,478.8 128.0,480.9ZM131.0,518.0 132.4,517.4 133.4,513.9 131.5,511.8 129.4,513.0 130.7,517.8ZM128.4,498.7 131.9,498.7 132.5,498.3 133.6,495.5 131.6,492.5 129.6,492.6 128.2,498.5ZM142.7,534.1 138.5,535.1 138.7,536.2 139.1,538.0 141.3,536.5 143.1,535.4 143.6,534.7ZM131.8,522.2 135.6,522.3 136.1,521.8 135.9,518.1 132.4,517.4 131.0,518.0ZM132.8,502.3 136.5,503.0 137.5,500.3 132.5,498.3 131.9,498.7ZM133.0,476.5 132.4,478.8 133.5,482.0 136.8,482.2 138.0,479.4 135.9,477.1 133.1,476.4ZM132.4,506.5 133.9,506.7 136.9,504.3 136.5,503.0 132.8,502.3 131.6,503.8ZM131.6,492.5 133.6,495.5 136.1,495.2 137.3,493.8 136.0,490.4 133.6,489.8ZM131.5,511.8 133.4,513.9 137.2,513.0 137.2,512.9 137.2,510.7 135.5,509.9 131.8,511.0ZM136.1,525.1 138.2,527.0 141.1,522.2 140.8,521.9 136.1,521.8 135.6,522.3ZM133.4,513.9 132.4,517.4 135.9,518.1 136.2,517.9 137.2,513.0ZM137.5,500.3 138.7,499.3 136.1,495.2 133.6,495.5 132.5,498.3ZM136.1,521.8 140.8,521.9 140.6,518.9 139.8,518.2 136.2,517.9 135.9,518.1ZM137.3,493.8 139.8,493.6 140.2,493.3 139.3,488.5 136.0,490.4ZM136.5,485.7 139.4,488.3 141.1,486.2 139.9,483.8 137.2,483.1ZM137.2,513.0 136.2,517.9 139.8,518.2 139.9,514.2 137.2,512.9ZM136.1,495.2 138.7,499.3 138.9,499.3 140.8,497.9 139.8,493.6 137.3,493.8ZM138.9,530.5 141.8,531.2 143.3,529.6 143.3,527.3 138.3,527.1 137.9,528.6ZM139.8,455.8 139.1,460.2 140.0,460.6 144.0,459.0 143.2,456.1 140.7,454.8ZM139.9,514.2 142.6,513.6 143.0,513.0 142.0,510.4 138.1,509.8 137.2,510.7 137.2,512.9ZM141.1,522.2 143.0,522.8 145.2,521.8 145.4,521.6 144.3,517.1 144.0,517.0 140.6,518.9 140.8,521.9ZM137.2,483.1 139.9,483.8 142.1,480.9 141.9,480.0 140.4,479.1 138.0,479.4 136.8,482.2ZM139.8,518.2 140.6,518.9 144.0,517.0 142.6,513.6 139.9,514.2ZM140.3,452.7 140.8,453.2 143.8,451.3 142.2,446.7 140.2,446.6 139.6,447.8ZM140.2,446.6 142.2,446.7 143.1,446.1 144.0,442.5 143.0,441.5 140.6,442.0 139.0,444.8ZM138.9,474.4 140.6,476.5 143.0,475.2 142.4,471.5 141.0,470.9 139.2,471.2ZM137.5,534.4 138.4,534.3 138.5,535.1 142.7,534.1 141.8,531.2 138.9,530.5ZM138.3,527.1 143.3,527.3 143.8,526.7 143.0,522.8 141.1,522.2 138.2,527.0ZM140.4,479.1 141.9,480.0 145.6,477.4 145.6,477.3 143.0,475.2 140.6,476.5ZM147.5,529.2 145.9,530.8 146.1,532.6 148.0,531.9 150.1,531.4 150.5,531.1ZM143.3,529.6 145.9,530.8 147.5,529.2 147.3,526.9 143.8,526.7 143.3,527.3ZM142.7,534.1 143.6,534.7 144.2,533.6 146.1,532.6 146.1,532.6 145.9,530.8 143.3,529.6 141.8,531.2ZM143.0,513.0 147.2,511.6 147.5,510.6 144.2,507.4 143.7,507.4 142.0,510.4ZM138.9,499.3 142.0,503.2 145.1,501.3 145.1,501.3 143.0,497.9 140.8,497.9ZM142.6,513.6 144.0,517.0 144.3,517.1 147.8,516.3 148.4,514.4 147.2,511.6 143.0,513.0ZM142.2,446.7 143.8,451.3 146.5,451.3 147.0,449.7 145.8,446.9 143.1,446.1ZM143.0,475.2 145.6,477.3 147.2,475.1 147.1,472.9 143.1,471.4 142.4,471.5ZM144.0,459.0 145.5,460.0 147.9,457.6 145.0,455.7 143.2,456.1ZM143.1,446.1 145.8,446.9 147.6,444.9 147.3,443.0 146.3,442.4 144.0,442.5ZM147.1,472.9 148.0,472.0 147.6,467.2 147.1,466.8 143.1,471.4ZM145.6,477.4 146.4,478.3 149.3,479.4 151.4,476.5 151.3,476.2 147.2,475.1 145.6,477.3ZM147.0,452.1 152.3,451.2 151.4,449.1 149.1,448.5 147.0,449.7 146.5,451.3ZM143.8,526.7 147.3,526.9 147.8,526.3 147.9,525.4 145.2,521.8 143.0,522.8ZM145.1,501.3 147.1,504.5 149.1,504.9 151.1,500.8 147.6,499.7 145.1,501.3ZM147.9,525.4 149.6,523.2 149.4,521.7 147.2,521.0 145.4,521.6 145.2,521.8ZM145.8,446.9 147.0,449.7 149.1,448.5 149.4,445.8 147.6,444.9ZM147.3,526.9 147.5,529.2 150.5,531.1 151.6,530.4 152.0,528.5 151.1,527.0 147.8,526.3ZM145.4,521.6 147.2,521.0 148.3,517.2 147.8,516.3 144.3,517.1ZM147.2,511.6 148.4,514.4 151.2,514.1 152.5,510.8 147.9,510.3 147.5,510.6ZM147.2,521.0 149.4,521.7 151.2,520.1 151.5,518.9 148.3,517.2ZM148.3,517.2 151.5,518.9 152.4,518.4 153.2,515.6 151.2,514.1 148.4,514.4 147.8,516.3ZM155.2,527.4 152.0,528.5 151.6,530.4 151.9,530.3 153.9,529.7 155.9,529.2 156.5,529.2ZM149.4,445.8 151.4,445.2 151.8,444.4 150.6,441.6 147.3,443.0 147.6,444.9ZM147.1,472.9 147.2,475.1 151.3,476.2 151.8,475.5 151.9,474.1 149.2,472.0 148.0,472.0ZM149.6,523.2 152.5,524.4 153.9,523.7 151.2,520.1 149.4,521.7ZM147.8,526.3 151.1,527.0 152.5,524.4 149.6,523.2 147.9,525.4ZM147.9,510.3 152.5,510.8 153.7,510.1 151.1,506.4 150.0,506.1ZM150.6,493.7 155.0,492.4 155.1,492.0 153.8,489.3 151.5,489.7 150.0,492.8ZM152.5,524.4 151.1,527.0 152.0,528.5 155.2,527.4 155.7,524.1 155.3,523.7 153.9,523.7ZM150.0,506.1 151.1,506.4 154.3,504.6 154.2,502.5 152.3,500.2 151.1,500.8 149.1,504.9ZM151.2,514.1 153.2,515.6 154.8,514.9 155.0,514.6 153.9,510.1 153.7,510.1 152.5,510.8ZM153.9,523.7 155.3,523.7 156.4,520.0 152.4,518.4 151.5,518.9 151.2,520.1ZM153.9,510.1 155.5,509.5 155.8,505.8 154.3,504.6 151.1,506.4 153.7,510.1ZM152.4,518.4 156.4,520.0 156.9,519.6 157.2,517.8 154.8,514.9 153.2,515.6ZM155.7,524.1 158.6,524.8 160.7,523.7 160.6,520.6 156.9,519.6 156.4,520.0 155.3,523.7ZM152.3,500.2 154.2,502.5 157.3,501.8 157.4,499.9 155.2,498.5 152.3,500.0ZM155.0,514.6 157.9,513.4 156.0,509.6 155.5,509.5 153.9,510.1ZM160.8,523.8 160.7,523.7 158.6,524.8 159.3,528.1 160.5,527.8 162.0,526.6 162.4,526.5ZM154.8,514.9 157.2,517.8 158.9,516.3 158.0,513.4 157.9,513.4 155.0,514.6ZM155.0,492.4 155.7,494.9 156.3,495.6 157.6,495.7 159.7,493.7 158.5,491.0 155.1,492.0ZM154.3,504.6 155.8,505.8 157.0,505.5 158.6,502.8 157.3,501.8 154.2,502.5ZM157.9,443.0 159.5,442.4 160.2,438.2 158.0,436.9 156.3,440.7ZM156.0,509.6 158.9,509.1 159.7,507.1 157.0,505.5 155.8,505.8 155.5,509.5ZM157.3,501.8 158.6,502.8 162.2,502.9 162.6,501.7 160.6,498.4 159.8,498.2 157.4,499.9ZM157.9,513.4 158.0,513.4 161.4,511.8 158.9,509.1 156.0,509.6ZM155.2,527.4 156.5,529.2 157.6,529.2 159.0,528.2 159.3,528.1 158.6,524.8 155.7,524.1ZM160.7,523.7 160.8,523.8 164.7,523.4 164.5,521.3 161.3,520.1 160.6,520.6ZM157.5,444.3 160.9,446.9 161.7,446.4 162.2,444.9 161.3,443.1 159.5,442.4 157.9,443.0ZM156.8,434.7 158.0,436.9 160.2,438.2 163.7,438.6 166.2,436.0 165.8,433.8 163.5,431.0 161.8,430.9 157.2,433.1ZM156.9,519.6 160.6,520.6 161.3,520.1 162.3,516.8 162.1,516.5 158.9,516.3 157.2,517.8ZM159.5,442.4 161.3,443.1 163.8,439.5 163.7,438.6 160.2,438.2ZM158.9,509.1 161.4,511.8 161.5,511.9 163.0,511.1 163.0,505.3 162.9,505.1 159.7,507.1ZM161.0,451.7 161.3,451.7 164.7,449.3 164.7,447.8 161.7,446.4 160.9,446.9 159.7,449.3ZM158.9,516.3 162.1,516.5 161.5,511.9 161.4,511.8 158.0,513.4ZM162.2,502.9 162.9,505.1 163.0,505.3 165.7,505.8 167.6,505.1 168.2,502.7 167.4,500.9 165.7,499.9 162.6,501.7ZM164.7,523.4 160.8,523.8 162.4,526.5 163.8,526.0 165.6,525.2 166.1,524.7ZM162.1,516.5 162.3,516.8 163.7,516.8 165.7,514.0 165.0,511.5 163.0,511.1 161.5,511.9ZM160.1,467.5 162.8,467.6 164.4,466.1 162.6,463.7 159.4,465.7ZM162.2,444.9 166.1,443.1 163.8,439.5 161.3,443.1ZM163.8,439.5 166.1,443.1 167.5,443.8 170.1,440.9 168.3,437.0 166.2,436.0 163.7,438.6ZM166.1,524.7 167.0,523.9 168.5,522.8 169.7,521.5 170.0,521.1 168.2,518.8 166.8,518.8 164.5,521.3 164.7,523.4ZM161.7,446.4 164.7,447.8 167.0,446.3 167.8,444.9 167.5,443.8 166.1,443.1 162.2,444.9ZM161.3,520.1 164.5,521.3 166.8,518.8 163.7,516.8 162.3,516.8ZM163.0,511.1 165.0,511.5 166.6,510.6 166.9,510.1 165.7,505.8 163.0,505.3ZM164.7,449.3 167.4,451.8 168.5,450.4 168.6,450.4 167.0,446.3 164.7,447.8ZM165.7,514.0 168.5,515.1 169.2,512.9 166.6,510.6 165.0,511.5ZM163.7,516.8 166.8,518.8 168.2,518.8 169.0,516.3 168.5,515.1 165.7,514.0ZM173.1,515.4 169.0,516.3 168.2,518.8 170.0,521.1 170.8,519.9 172.0,518.6 173.2,517.3 173.8,516.1ZM166.9,510.1 169.3,509.1 169.0,505.9 167.6,505.1 165.7,505.8ZM167.7,424.3 167.7,424.3 172.7,422.7 173.6,416.8 168.2,417.1ZM167.0,446.3 168.6,450.4 170.3,449.8 171.2,448.4 172.0,447.7 171.3,446.5 167.8,444.9ZM169.0,516.3 173.1,515.4 172.9,512.8 171.2,511.8 169.2,512.9 168.5,515.1ZM166.6,510.6 169.2,512.9 171.2,511.8 170.7,509.7 169.3,509.1 166.9,510.1ZM168.2,502.7 172.8,502.2 172.7,501.0 170.4,499.4 167.4,500.9ZM173.6,416.8 172.7,422.7 176.5,424.3 178.6,420.5 175.8,415.4 175.1,415.3ZM176.1,510.5 172.9,512.8 173.1,515.4 173.8,516.1 174.1,515.7 175.5,514.5 176.2,512.8 176.8,510.9 176.9,510.8ZM170.7,495.4 174.3,497.2 177.1,495.2 177.1,494.9 175.7,492.8 172.0,492.6ZM175.6,430.7 180.7,433.2 182.4,432.9 183.7,426.0 183.6,425.8 176.8,425.0ZM179.8,435.1 180.5,441.1 181.6,441.2 184.8,437.5 183.0,433.2 182.4,432.9 180.7,433.2ZM178.6,420.5 182.5,420.0 182.6,413.1 182.5,412.9 182.1,412.8 175.8,415.4ZM183.0,433.2 189.0,432.3 191.8,429.6 191.0,426.6 183.7,426.0 182.4,432.9ZM185.3,437.8 189.6,438.2 189.9,437.6 190.2,437.4 189.0,432.3 183.0,433.2 184.8,437.5Z" fill="#e04c3c" stroke="#ec8272" stroke-width="0.3" stroke-linejoin="round"/>
<path d="M111.1,516.8 112.2,517.9 117.0,517.1 117.5,515.1 114.2,510.4 111.2,511.2ZM134.0,530.1 133.1,529.8 133.1,529.8 131.5,533.4 132.6,533.6 134.6,533.5 135.8,534.2ZM108.4,525.6 113.7,529.9 115.4,530.0 115.7,529.9 118.2,523.3 111.1,522.6 108.3,525.4ZM122.3,525.6 118.5,523.2 118.2,523.3 115.7,529.9 117.1,529.7 118.9,530.0 120.6,529.5 122.3,529.2 122.8,529.4ZM112.2,517.9 111.1,522.6 118.2,523.3 118.5,523.2 119.2,520.2 117.0,517.1ZM119.2,492.7 123.6,492.7 122.1,487.3 119.6,486.7 117.1,488.5ZM114.2,510.4 117.5,515.1 120.2,513.5 120.2,510.2 116.1,507.8ZM122.0,503.9 122.6,509.0 124.8,510.1 126.5,509.5 127.7,507.7 127.4,506.8 122.0,503.7ZM116.1,507.8 120.2,510.2 122.6,509.0 122.0,503.9 116.2,506.9ZM122.1,498.4 123.9,496.9 123.9,493.0 123.6,492.7 119.2,492.7 117.3,495.7ZM122.1,503.6 127.8,501.6 128.4,498.7 128.2,498.5 123.9,496.9 122.1,498.4 121.3,501.3ZM122.0,503.7 127.4,506.8 128.7,503.4 127.8,501.6 122.1,503.6ZM123.9,496.9 128.2,498.5 129.6,492.6 127.7,491.5 123.9,493.0ZM133.1,529.8 129.4,529.8 128.1,531.8 128.7,531.9 130.5,533.2 131.5,533.4ZM132.3,486.5 132.9,487.1 136.5,485.7 137.2,483.1 136.8,482.2 133.5,482.0 131.7,484.6ZM131.8,511.0 135.5,509.9 133.9,506.7 132.4,506.5 130.5,508.1ZM129.5,463.8 132.6,468.4 134.7,466.3 134.6,463.2 131.3,461.4 131.1,461.4ZM134.0,530.1 135.8,534.2 136.4,534.5 137.5,534.4 138.9,530.5 137.9,528.6ZM131.3,461.4 134.6,463.2 137.4,462.0 138.3,460.5 134.8,458.5ZM135.5,509.9 137.2,510.7 138.1,509.8 139.1,505.9 136.9,504.3 133.9,506.7ZM132.6,468.6 138.1,471.2 139.0,471.1 137.7,466.5 134.7,466.3 132.6,468.4ZM136.9,504.3 139.1,505.9 141.3,505.4 142.0,503.2 138.9,499.3 138.7,499.3 137.5,500.3 136.5,503.0ZM133.6,489.8 136.0,490.4 139.3,488.5 139.4,488.5 139.4,488.3 136.5,485.7 132.9,487.1ZM134.7,466.3 137.7,466.5 138.4,465.6 137.4,462.0 134.6,463.2ZM137.4,462.0 138.4,465.6 142.5,465.2 143.1,464.6 140.0,460.6 139.1,460.2 138.3,460.5ZM139.2,471.2 141.0,470.9 142.5,465.2 138.4,465.6 137.7,466.5 139.0,471.1ZM139.3,488.5 140.2,493.3 142.6,492.9 142.9,490.1 139.4,488.5ZM139.4,488.5 142.9,490.1 144.5,489.1 144.9,486.9 143.2,485.9 141.1,486.2 139.4,488.3ZM139.1,505.9 138.1,509.8 142.0,510.4 143.7,507.4 141.3,505.4ZM139.8,493.6 140.8,497.9 143.0,497.9 145.0,495.2 144.9,494.3 142.6,492.9 140.2,493.3ZM141.1,486.2 143.2,485.9 143.7,482.4 142.1,480.9 139.9,483.8ZM143.1,464.6 143.3,464.6 145.6,460.8 145.5,460.0 144.0,459.0 140.0,460.6ZM141.3,505.4 143.7,507.4 144.2,507.4 147.1,504.5 145.1,501.3 142.0,503.2ZM141.0,470.9 142.4,471.5 143.1,471.4 147.1,466.8 147.0,466.7 143.3,464.6 143.1,464.6 142.5,465.2ZM142.1,480.9 143.7,482.4 146.0,482.3 146.4,478.3 145.6,477.4 141.9,480.0ZM142.6,492.9 144.9,494.3 146.9,491.7 144.5,489.1 142.9,490.1ZM143.0,497.9 145.1,501.3 147.6,499.7 147.6,496.6 145.0,495.2ZM143.2,485.9 144.9,486.9 147.1,486.2 147.2,483.1 146.0,482.3 143.7,482.4ZM144.5,489.1 146.9,491.7 147.1,491.7 149.0,487.7 148.8,487.2 147.1,486.2 144.9,486.9ZM147.0,466.7 148.5,463.7 148.0,461.9 145.6,460.8 143.3,464.6ZM145.0,495.2 147.6,496.6 150.5,495.6 150.6,493.7 150.0,492.8 147.1,491.7 146.9,491.7 144.9,494.3ZM147.5,510.6 147.9,510.3 150.0,506.1 149.1,504.9 147.1,504.5 144.2,507.4ZM147.2,483.1 150.2,481.6 149.3,479.4 146.4,478.3 146.0,482.3ZM145.6,460.8 148.0,461.9 150.6,459.9 150.5,459.3 148.3,457.5 147.9,457.6 145.5,460.0ZM147.1,486.2 148.8,487.2 151.3,485.3 150.8,481.9 150.2,481.6 147.2,483.1ZM147.1,466.8 147.6,467.2 149.1,467.3 151.8,465.7 152.3,464.1 151.6,463.3 148.5,463.7 147.0,466.7ZM148.0,472.0 149.2,472.0 151.7,469.9 149.1,467.3 147.6,467.2ZM147.1,452.1 149.2,455.2 152.0,454.6 153.2,451.8 152.3,451.2 147.0,452.1ZM150.6,441.6 151.8,444.4 154.2,443.9 154.5,441.1 152.2,439.8 150.8,441.0ZM147.6,499.7 151.1,500.8 152.3,500.2 152.3,500.0 151.3,496.4 150.5,495.6 147.6,496.6ZM148.5,463.7 151.6,463.3 151.5,460.7 150.6,459.9 148.0,461.9ZM147.1,491.7 150.0,492.8 151.5,489.7 149.0,487.7ZM150.2,481.6 150.8,481.9 152.5,481.4 153.8,479.1 151.4,476.5 149.3,479.4ZM149.0,487.7 151.5,489.7 153.8,489.3 154.0,488.9 153.2,486.0 151.3,485.3 148.8,487.2ZM151.4,449.1 152.4,447.1 151.4,445.2 149.4,445.8 149.1,448.5ZM151.4,476.5 153.8,479.1 154.3,479.0 156.3,475.7 151.8,475.5 151.3,476.2ZM150.5,459.3 153.2,456.7 152.0,454.6 149.2,455.2 148.3,457.5ZM149.2,472.0 151.9,474.1 154.1,471.3 154.1,471.2 152.9,470.0 151.7,469.9ZM151.7,469.9 152.9,470.0 153.4,467.5 151.8,465.7 149.1,467.3ZM150.6,459.9 151.5,460.7 155.6,460.2 153.8,456.9 153.2,456.7 150.5,459.3ZM153.2,451.8 154.4,451.6 156.4,449.1 155.6,447.3 152.4,447.1 151.4,449.1 152.3,451.2ZM151.6,463.3 152.3,464.1 154.5,463.8 156.4,461.7 156.0,460.4 155.6,460.2 151.5,460.7ZM152.0,454.6 153.2,456.7 153.8,456.9 156.7,455.1 156.7,454.1 154.4,451.6 153.2,451.8ZM153.2,486.0 155.7,483.7 152.5,481.4 150.8,481.9 151.3,485.3ZM151.8,475.5 156.3,475.7 156.4,475.6 156.7,474.7 154.1,471.3 151.9,474.1ZM152.3,500.0 155.2,498.5 156.3,495.6 155.7,494.9 151.3,496.4ZM150.5,495.6 151.3,496.4 155.7,494.9 155.0,492.4 150.6,493.7ZM151.4,445.2 152.4,447.1 155.6,447.3 156.0,445.1 154.2,443.9 151.8,444.4ZM154.1,471.2 156.6,469.7 155.7,466.5 155.7,466.5 153.4,467.5 152.9,470.0ZM153.4,467.5 155.7,466.5 154.5,463.8 152.3,464.1 151.8,465.7ZM154.0,488.9 157.9,487.3 158.1,485.6 155.9,483.7 155.7,483.7 153.2,486.0ZM155.6,460.2 156.0,460.4 158.6,457.7 158.6,457.6 156.7,455.1 153.8,456.9ZM153.8,489.3 155.1,492.0 158.5,491.0 159.3,489.5 157.9,487.3 154.0,488.9ZM154.2,443.9 156.0,445.1 157.5,444.3 157.9,443.0 156.3,440.7 154.5,441.1ZM153.8,479.1 152.5,481.4 155.7,483.7 155.9,483.7 157.4,480.8 157.2,480.5 154.3,479.0ZM154.3,479.0 157.2,480.5 157.9,477.4 156.4,475.6 156.3,475.7ZM154.5,463.8 155.7,466.5 155.7,466.5 159.1,465.5 158.0,462.7 156.4,461.7ZM154.1,471.3 156.7,474.7 157.7,474.2 159.5,470.6 159.1,469.9 156.6,469.7 154.1,471.2ZM156.4,449.1 159.7,449.3 160.9,446.9 157.5,444.3 156.0,445.1 155.6,447.3ZM154.4,451.6 156.7,454.1 160.6,452.4 161.0,451.7 159.7,449.3 156.4,449.1ZM155.7,466.5 156.6,469.7 159.1,469.9 160.1,467.5 159.4,465.7 159.1,465.5ZM155.2,498.5 157.4,499.9 159.8,498.2 157.6,495.7 156.3,495.6ZM158.6,457.6 160.9,455.7 160.6,452.4 156.7,454.1 156.7,455.1ZM155.9,483.7 158.1,485.6 161.0,484.4 161.2,483.9 159.6,481.0 157.4,480.8ZM156.4,461.7 158.0,462.7 160.8,461.2 161.1,459.8 158.6,457.7 156.0,460.4ZM156.4,475.6 157.9,477.4 160.5,477.6 161.6,475.9 161.4,475.3 157.7,474.2 156.7,474.7ZM157.4,480.8 159.6,481.0 160.8,479.4 160.5,477.6 157.9,477.4 157.2,480.5ZM157.9,487.3 159.3,489.5 161.9,489.4 162.9,487.5 161.0,484.4 158.1,485.6ZM157.0,505.5 159.7,507.1 162.9,505.1 162.2,502.9 158.6,502.8ZM158.5,491.0 159.7,493.7 162.3,494.1 163.0,491.0 161.9,489.4 159.3,489.5ZM159.8,498.2 160.6,498.4 162.5,495.8 162.5,494.5 162.3,494.1 159.7,493.7 157.6,495.7ZM160.8,479.4 163.4,480.0 164.5,479.5 163.1,476.3 161.6,475.9 160.5,477.6ZM160.6,452.4 160.9,455.7 163.1,456.6 163.9,455.9 165.2,454.9 166.1,454.2 161.3,451.7 161.0,451.7ZM159.1,465.5 159.4,465.7 162.6,463.7 162.7,463.2 160.8,461.2 158.0,462.7ZM157.7,474.2 161.4,475.3 162.1,472.0 159.5,470.6ZM158.6,457.7 161.1,459.8 162.8,459.1 161.5,458.3 162.7,457.0 163.1,456.6 160.9,455.7 158.6,457.6ZM161.2,483.9 162.5,483.2 163.4,480.0 160.8,479.4 159.6,481.0ZM159.5,470.6 162.1,472.0 163.1,471.7 163.9,470.1 162.8,467.6 160.1,467.5 159.1,469.9ZM162.6,501.7 165.7,499.9 165.9,498.4 162.5,495.8 160.6,498.4ZM161.0,484.4 162.9,487.5 163.9,487.3 165.9,484.0 162.5,483.2 161.2,483.9ZM160.8,461.2 162.7,463.2 164.0,462.3 164.3,459.9 163.5,459.5 162.8,459.1 161.1,459.8ZM161.9,489.4 163.0,491.0 165.9,490.9 166.2,488.5 163.9,487.3 162.9,487.5ZM161.4,475.3 161.6,475.9 163.1,476.3 164.6,475.5 165.0,473.0 163.1,471.7 162.1,472.0ZM162.5,494.5 166.0,494.3 167.0,493.4 167.0,491.9 165.9,490.9 163.0,491.0 162.3,494.1ZM163.9,470.1 166.5,469.2 165.3,466.1 164.4,466.1 162.8,467.6ZM164.0,462.3 167.3,463.3 167.6,462.3 167.4,462.1 166.6,460.6 165.0,460.2 164.3,459.9ZM162.6,463.7 164.4,466.1 165.3,466.1 167.6,464.4 167.3,463.3 164.0,462.3 162.7,463.2ZM166.1,454.2 166.7,453.7 167.3,451.9 167.4,451.8 164.7,449.3 161.3,451.7ZM164.5,479.5 166.6,479.8 166.9,479.5 167.3,476.7 164.6,475.5 163.1,476.3ZM162.5,483.2 165.9,484.0 167.0,483.7 167.4,483.1 166.6,479.8 164.5,479.5 163.4,480.0ZM162.5,495.8 165.9,498.4 166.4,497.8 166.0,494.3 162.5,494.5ZM163.1,471.7 165.0,473.0 167.1,472.7 167.9,471.1 167.4,469.6 166.5,469.2 163.9,470.1ZM175.8,449.0 175.5,448.9 173.9,449.0 173.6,449.8 173.9,451.9 173.9,453.7 173.4,455.4 175.1,454.6 176.5,453.4 177.2,452.7ZM163.9,487.3 166.2,488.5 167.8,487.5 167.0,483.7 165.9,484.0ZM166.5,469.2 167.4,469.6 168.8,468.2 167.8,464.5 167.6,464.4 165.3,466.1ZM167.0,491.9 170.9,489.9 171.1,488.8 167.8,487.5 166.2,488.5 165.9,490.9ZM166.0,494.3 166.4,497.8 169.9,496.7 170.5,495.5 167.0,493.4ZM167.0,483.7 167.8,487.5 171.1,488.8 171.6,488.4 171.5,484.8 169.2,483.3 167.4,483.1ZM165.0,473.0 164.6,475.5 167.3,476.7 168.5,475.4 167.1,472.7ZM165.9,498.4 165.7,499.9 167.4,500.9 170.4,499.4 169.9,496.7 166.4,497.8ZM171.7,462.1 175.5,462.6 175.7,461.0 174.5,461.1 171.4,460.6 171.1,460.9ZM166.6,479.8 167.4,483.1 169.2,483.3 171.9,480.1 171.5,479.1 166.9,479.5ZM167.1,472.7 168.5,475.4 168.7,475.4 170.6,474.1 169.6,473.3 170.0,471.4 167.9,471.1ZM167.8,464.5 170.7,464.6 171.7,462.1 171.1,460.9 170.2,462.0 168.8,463.2 167.6,462.3 167.3,463.3 167.6,464.4ZM170.5,495.5 170.7,495.4 172.0,492.6 170.9,489.9 167.0,491.9 167.0,493.4ZM167.3,476.7 166.9,479.5 171.5,479.1 171.7,477.8 168.7,475.4 168.5,475.4ZM167.6,505.1 169.0,505.9 171.5,505.6 173.2,503.1 172.8,502.2 168.2,502.7ZM167.4,469.6 167.9,471.1 170.0,471.4 170.1,471.1 170.6,469.4 171.6,468.3 171.4,468.2 168.8,468.2ZM169.9,496.7 170.4,499.4 172.7,501.0 174.1,499.2 174.3,497.2 170.7,495.4 170.5,495.5ZM171.1,488.8 170.9,489.9 172.0,492.6 175.7,492.8 176.2,490.8 174.4,488.2 171.6,488.4ZM168.8,468.2 171.4,468.2 171.3,465.2 170.7,464.6 167.8,464.5ZM168.7,475.4 171.7,477.8 173.7,476.2 171.4,474.6 170.6,474.1ZM169.2,483.3 171.5,484.8 173.4,483.6 174.0,481.4 174.0,481.3 171.9,480.1ZM171.6,488.4 174.4,488.2 176.3,486.0 173.4,483.6 171.5,484.8ZM171.3,465.2 174.8,465.0 175.4,464.2 176.0,464.0 175.5,462.6 171.7,462.1 170.7,464.6ZM171.9,480.1 174.0,481.3 175.6,479.2 175.3,478.0 174.0,476.4 173.7,476.2 171.7,477.8 171.5,479.1ZM171.4,468.2 171.6,468.3 171.8,468.1 174.0,465.9 174.8,465.0 171.3,465.2ZM169.3,509.1 170.7,509.7 172.6,508.1 171.5,505.6 169.0,505.9ZM173.2,503.1 175.2,503.9 178.2,500.7 178.0,500.4 174.1,499.2 172.7,501.0 172.8,502.2ZM171.2,511.8 172.9,512.8 176.1,510.5 174.9,508.6 172.6,508.1 170.7,509.7ZM172.6,508.1 174.9,508.6 176.0,505.0 175.2,503.9 173.2,503.1 171.5,505.6ZM172.0,447.7 172.4,447.3 174.4,447.8 173.9,449.0 175.5,448.9 176.0,445.2 175.2,443.9 172.7,443.6 171.3,446.5ZM176.0,464.0 177.5,463.3 179.3,461.5 177.7,461.3 176.1,461.0 175.7,461.0 175.5,462.6ZM174.3,497.2 174.1,499.2 178.0,500.4 178.5,496.6 177.1,495.2ZM174.0,481.3 174.0,481.4 177.9,482.8 177.3,481.2 175.8,479.9 175.6,479.2ZM173.4,483.6 176.3,486.0 177.2,485.8 178.0,483.0 178.0,483.0 177.9,482.8 174.0,481.4ZM174.4,488.2 176.2,490.8 181.0,488.7 177.2,485.8 176.3,486.0ZM176.0,505.0 174.9,508.6 176.1,510.5 176.9,510.8 177.4,508.9 178.6,507.2 179.4,505.6ZM175.2,443.9 176.0,445.2 178.9,443.9 179.7,441.4 177.1,440.5 176.0,440.7ZM176.0,505.0 179.4,505.6 179.5,505.5 179.7,503.5 180.1,501.7 180.2,501.6 178.2,500.7 175.2,503.9ZM175.7,492.8 177.1,494.9 181.6,491.5 180.6,490.9 181.5,488.8 181.0,488.7 176.2,490.8ZM176.8,425.0 183.6,425.8 183.9,421.4 182.5,420.0 178.6,420.5 176.5,424.3ZM178.5,496.6 178.0,500.4 178.2,500.7 180.2,501.6 181.6,500.1 182.3,498.0 182.2,497.0ZM175.5,448.9 175.8,449.0 180.2,447.9 181.0,447.0 178.9,443.9 176.0,445.2ZM177.1,494.9 177.1,495.2 178.5,496.6 182.2,497.0 181.9,495.2 182.8,492.2 181.6,491.5ZM177.2,485.8 181.0,488.7 181.5,488.8 181.5,488.7 180.6,486.0 179.6,484.2 178.0,483.0ZM175.8,449.0 177.2,452.7 178.2,451.8 180.0,450.3 181.1,450.1 180.2,447.9ZM182.5,420.0 183.9,421.4 188.3,419.8 189.6,417.4 182.6,413.1ZM183.7,426.0 191.0,426.6 191.2,426.2 188.3,419.8 183.9,421.4 183.6,425.8Z" fill="#d31219" stroke="#de4848" stroke-width="0.3" stroke-linejoin="round"/>
<g clip-path="url(#chinaclip)">
<polygon points="59.6,428.0 70.0,427.0 77.2,429.0 77.2,436.5 59.6,436.5" fill="#f5bfa2" stroke="#e6b9a3" stroke-width="0.35" stroke-linejoin="round"/>
<polygon points="33.4,435.0 41.0,435.0 46.5,435.5 52.3,436.0 52.3,448.2 46.5,448.2 33.4,448.2" fill="#f5bfa2" stroke="#e6b9a3" stroke-width="0.35" stroke-linejoin="round"/>
<polygon points="46.5,435.5 52.3,436.0 56.7,436.5 65.5,436.5 65.5,448.2 80.0,448.2 80.0,455.0 74.0,461.0 68.0,464.0 62.0,468.6 52.0,468.0 46.5,466.0 46.5,448.2" fill="#f5bfa2" stroke="#e6b9a3" stroke-width="0.35" stroke-linejoin="round"/>
<polygon points="43.6,424.8 56.7,434.3 41.4,435.0" fill="#ec8e70" stroke="#f3b8a2" stroke-width="0.35" stroke-linejoin="round"/>
<polygon points="16.7,441.5 19.6,440.2 27.0,440.8 35.7,441.5 33.0,446.0 30.5,450.2 24.0,452.4 23.2,459.5 19.0,455.0 16.7,450.9 14.5,446.0" fill="#ec8e70" stroke="#f3b8a2" stroke-width="0.35" stroke-linejoin="round"/>
<polygon points="78.6,438.0 93.0,441.9 99.0,443.4 110.0,444.1 118.8,445.6 125.0,446.0 125.0,452.0 116.0,456.0 108.0,459.0 98.0,461.3 86.0,461.3 80.0,458.0" fill="#f5bfa2" stroke="#e6b9a3" stroke-width="0.35" stroke-linejoin="round"/>
</g>
<polygon points="14.4,440.5 15.2,438.8 16.6,437.6 18.2,437.6 19.8,437.4 21.4,437.1 23.0,436.6 24.6,436.8 26.4,436.8 28.2,436.6 29.9,436.0 31.6,435.7 33.4,435.4 34.7,434.4 36.1,433.4 37.7,433.1 39.3,432.5 40.7,431.7 40.6,429.8 41.7,428.1 41.5,426.2 42.1,424.4 43.7,423.6 45.2,422.8 47.2,423.3 48.7,422.2 50.2,420.9 51.6,419.6 52.6,417.9 53.8,416.4 55.3,415.5 57.1,415.5 58.7,415.3 60.4,414.9 61.6,413.2 63.3,412.0 65.7,411.7 67.7,410.5 69.6,411.9 71.3,413.5 73.0,415.1 74.2,417.1 74.9,418.8 76.5,419.8 77.2,421.5 76.7,423.3 77.3,425.1 77.1,427.0 77.2,428.8 79.0,429.2 80.7,429.9 82.5,430.2 84.3,430.6 85.9,431.7 86.7,433.4 88.3,434.5 89.0,436.3 90.3,437.6 91.5,438.9 91.8,440.8 93.2,441.9 95.1,442.8 97.1,443.2 99.1,443.4 100.9,443.8 102.7,443.7 104.5,444.0 106.4,443.5 108.2,444.0 110.0,444.1 111.7,444.8 113.6,444.4 115.2,445.5 117.0,445.7 118.8,445.6 120.5,445.1 122.2,444.6 124.0,444.2 125.7,443.7 127.5,443.4 129.7,443.2 131.4,441.8 133.4,441.2 134.3,439.6 135.6,438.3 137.4,437.5 138.5,436.1 139.4,434.4 139.2,432.4 140.6,431.5 142.1,430.6 143.6,429.7 145.0,428.8 146.9,428.5 148.6,427.4 150.5,427.3 152.3,426.6 153.8,425.9 155.3,425.3 156.5,424.1 158.0,423.4 159.6,423.0 161.3,421.4 163.3,420.0 161.5,419.4 159.6,419.9 157.8,419.5 156.0,419.7 154.1,419.9 152.3,419.3 150.8,418.1 150.1,416.4 150.9,414.8 151.4,413.1 151.6,411.3 153.3,410.9 155.0,411.0 156.7,410.5 157.8,409.2 158.9,407.8 159.9,406.4 160.4,404.7 160.0,402.8 160.4,400.8 159.6,398.9 159.7,397.0 158.9,395.2 160.6,394.6 162.5,394.1 164.0,393.0 165.8,392.8 167.6,392.5 169.4,392.2 171.3,392.3 173.0,393.4 175.0,393.8 176.1,395.1 176.9,396.5 177.2,398.1 178.4,399.8 179.9,401.2 181.5,402.5 183.0,403.5 184.2,404.7 185.9,405.4 188.0,405.4 189.9,406.1 191.8,406.9 193.7,406.4 195.7,406.3 197.6,406.2 199.4,405.1 201.3,404.3 203.4,404.0 204.9,405.4 204.8,407.4 204.0,409.3 204.2,411.3 203.0,412.8 202.5,414.6 202.0,416.4 201.3,418.6 200.5,420.8 200.6,422.5 199.6,424.0 199.9,425.7 199.8,427.3 198.7,428.6 198.4,430.5 197.3,431.9 196.1,433.2 194.5,433.9 193.1,434.9 191.8,436.1 189.9,437.6 188.7,439.6 187.6,441.4 186.8,443.4 185.7,445.2 184.8,446.5 183.6,447.7 183.1,449.3 181.6,450.0 180.0,450.3 178.2,451.8 176.5,453.4 175.1,454.6 173.4,455.4 173.9,453.7 173.9,451.9 173.6,449.8 174.4,447.8 172.4,447.3 171.2,448.4 170.3,449.8 168.5,450.4 167.3,451.9 166.7,453.7 165.2,454.9 163.9,455.9 162.7,457.0 161.5,458.3 163.5,459.5 165.0,460.2 166.6,460.6 167.4,462.1 168.8,463.2 170.2,462.0 171.4,460.6 174.5,461.1 176.1,461.0 177.7,461.3 179.3,461.5 177.5,463.3 175.4,464.2 174.0,465.9 171.8,468.1 170.6,469.4 170.1,471.1 169.6,473.3 171.4,474.6 174.0,476.4 175.3,478.0 175.8,479.9 177.3,481.2 178.0,483.0 179.6,484.2 180.6,486.0 181.5,488.7 180.6,490.9 182.8,492.2 181.9,495.2 182.3,498.0 181.6,500.1 180.1,501.7 179.7,503.5 179.5,505.5 178.6,507.2 177.4,508.9 176.8,510.9 176.2,512.8 175.5,514.5 174.1,515.7 173.2,517.3 172.0,518.6 170.8,519.9 169.7,521.5 168.5,522.8 167.0,523.9 165.6,525.2 163.8,526.0 162.0,526.6 160.5,527.8 159.0,528.2 157.6,529.2 155.9,529.2 153.9,529.7 151.9,530.3 150.1,531.4 148.0,531.9 146.1,532.6 144.2,533.6 143.1,535.4 141.3,536.5 139.1,538.0 138.7,536.2 138.4,534.3 136.4,534.5 134.6,533.5 132.6,533.6 130.5,533.2 128.7,531.9 126.7,531.4 125.1,530.9 123.9,529.7 122.3,529.2 120.6,529.5 118.9,530.0 117.1,529.7 115.4,530.0 113.6,529.9 111.5,530.2 109.7,531.6 107.7,532.1 107.0,533.5 106.3,535.0 104.1,534.2 101.9,533.6 100.7,532.4 98.8,532.5 97.6,531.3 96.1,530.7 95.6,529.0 95.3,527.2 94.6,525.5 93.5,523.7 91.5,522.8 90.2,521.2 90.7,519.5 90.8,517.8 91.0,516.1 91.8,514.3 92.0,512.3 93.5,510.8 93.9,508.8 93.0,507.3 91.2,506.7 89.9,505.7 88.8,504.4 86.8,504.2 85.0,505.5 83.0,505.4 81.2,506.3 79.2,506.8 77.2,506.8 75.2,506.7 73.2,507.1 71.3,507.6 69.3,506.9 67.5,506.0 65.5,505.4 63.6,505.5 61.9,504.5 60.0,504.3 58.2,503.9 56.7,503.2 55.2,502.6 53.8,501.8 52.2,501.3 50.9,500.3 49.1,499.5 47.9,498.0 46.3,497.0 45.2,495.4 43.6,494.4 42.4,493.0 40.8,491.9 39.2,491.0 37.6,490.0 36.3,488.6 34.8,487.8 33.4,486.9 32.0,485.8 30.7,484.6 29.0,484.2 27.6,483.2 26.8,481.7 25.7,480.4 24.6,479.1 24.5,477.4 24.3,475.7 23.8,474.1 23.1,472.5 23.5,470.8 24.0,469.1 24.2,467.3 24.7,465.6 24.6,463.8 24.1,461.6 23.1,459.5 22.2,457.9 20.7,456.7 20.2,454.8 18.8,453.6 17.9,451.8 17.4,449.9 16.9,448.0 15.8,446.3 15.8,444.2 15.4,442.3" fill="none" stroke="#35323f" stroke-width="0.6" stroke-linejoin="round"/>
<ellipse cx="138.6" cy="544.3" rx="5.0" ry="4.2" fill="#e9e9e9" stroke="#6a6a6a" stroke-width="0.6"/>
<path d="M135,543 L141,541 M135,546 L142,544 M137,548 L142,546" stroke="#9a9a9a" stroke-width="0.4"/>
<path d="M185.6,512.6 C186.6,514.5 185.8,519 184.6,522.5 C183.8,525 183.4,527.4 182.6,527.2 C180.8,525.5 179.6,523 180.2,520 C180.9,516.5 183.0,513.2 185.6,512.6Z" fill="#fff" stroke="#555" stroke-width="0.6"/>
<line x1="189.4" y1="515.2" x2="189.0" y2="519.0" stroke="#b0aae8" stroke-width="2.4" filter="url(#blur1)"/>
<line x1="189.4" y1="515.2" x2="189.0" y2="519.0" stroke="#8680cc" stroke-width="1.1"/>
<line x1="185.1" y1="530.1" x2="186.9" y2="533.3" stroke="#b0aae8" stroke-width="2.4" filter="url(#blur1)"/>
<line x1="185.1" y1="530.1" x2="186.9" y2="533.3" stroke="#8680cc" stroke-width="1.1"/>
<line x1="179.2" y1="542.6" x2="180.2" y2="546.2" stroke="#b0aae8" stroke-width="2.4" filter="url(#blur1)"/>
<line x1="179.2" y1="542.6" x2="180.2" y2="546.2" stroke="#8680cc" stroke-width="1.1"/>
<line x1="178.4" y1="555.9" x2="178.4" y2="559.7" stroke="#b0aae8" stroke-width="2.4" filter="url(#blur1)"/>
<line x1="178.4" y1="555.9" x2="178.4" y2="559.7" stroke="#8680cc" stroke-width="1.1"/>
<line x1="178.2" y1="573.7" x2="179.2" y2="577.3" stroke="#b0aae8" stroke-width="2.4" filter="url(#blur1)"/>
<line x1="178.2" y1="573.7" x2="179.2" y2="577.3" stroke="#8680cc" stroke-width="1.1"/>
<line x1="164.8" y1="592.8" x2="167.8" y2="595.2" stroke="#b0aae8" stroke-width="2.4" filter="url(#blur1)"/>
<line x1="164.8" y1="592.8" x2="167.8" y2="595.2" stroke="#8680cc" stroke-width="1.1"/>
<line x1="150.5" y1="611.2" x2="154.3" y2="611.8" stroke="#b0aae8" stroke-width="2.4" filter="url(#blur1)"/>
<line x1="150.5" y1="611.2" x2="154.3" y2="611.8" stroke="#8680cc" stroke-width="1.1"/>
<line x1="132.6" y1="597.1" x2="132.0" y2="600.9" stroke="#b0aae8" stroke-width="2.4" filter="url(#blur1)"/>
<line x1="132.6" y1="597.1" x2="132.0" y2="600.9" stroke="#8680cc" stroke-width="1.1"/>
<line x1="141.0" y1="574.0" x2="141.0" y2="577.8" stroke="#b0aae8" stroke-width="2.4" filter="url(#blur1)"/>
<line x1="141.0" y1="574.0" x2="141.0" y2="577.8" stroke="#8680cc" stroke-width="1.1"/>
<line x1="138.9" y1="558.1" x2="136.7" y2="561.3" stroke="#b0aae8" stroke-width="2.4" filter="url(#blur1)"/>
<line x1="138.9" y1="558.1" x2="136.7" y2="561.3" stroke="#8680cc" stroke-width="1.1"/>
<rect x="163.6" y="534.5" width="0.9" height="0.9" fill="#666"/>
<rect x="167.0" y="535.6" width="0.9" height="0.9" fill="#666"/>
<rect x="191.5" y="508.5" width="0.9" height="0.9" fill="#666"/>
<rect x="194.8" y="507.8" width="0.9" height="0.9" fill="#666"/>
<rect x="173.3" y="559.7" width="0.9" height="0.9" fill="#666"/>
<rect x="176.3" y="556.0" width="0.9" height="0.9" fill="#666"/>
<rect x="180.0" y="526.0" width="0.9" height="0.9" fill="#666"/>
<rect x="181.0" y="510.5" width="0.9" height="0.9" fill="#666"/>
<rect x="150.9" y="553.9" width="0.9" height="0.9" fill="#666"/>
<rect x="155.8" y="553.4" width="0.9" height="0.9" fill="#666"/>
<rect x="154.0" y="555.2" width="0.9" height="0.9" fill="#666"/>
<rect x="146.9" y="556.0" width="0.9" height="0.9" fill="#666"/>
<rect x="146.6" y="555.6" width="0.9" height="0.9" fill="#666"/>
<rect x="147.0" y="553.5" width="0.9" height="0.9" fill="#666"/>
<rect x="152.4" y="558.0" width="0.9" height="0.9" fill="#666"/>
<rect x="147.9" y="554.3" width="0.9" height="0.9" fill="#666"/>
<rect x="155.4" y="558.7" width="0.9" height="0.9" fill="#666"/>
<rect x="154.7" y="555.4" width="0.9" height="0.9" fill="#666"/>
<rect x="160.6" y="553.3" width="0.9" height="0.9" fill="#666"/>
<rect x="158.9" y="554.7" width="0.9" height="0.9" fill="#666"/>
<rect x="164.3" y="575.5" width="0.9" height="0.9" fill="#666"/>
<rect x="146.8" y="598.6" width="0.9" height="0.9" fill="#666"/>
<rect x="153.5" y="592.7" width="0.9" height="0.9" fill="#666"/>
<rect x="165.9" y="572.2" width="0.9" height="0.9" fill="#666"/>
<rect x="152.9" y="592.7" width="0.9" height="0.9" fill="#666"/>
<rect x="155.7" y="589.5" width="0.9" height="0.9" fill="#666"/>
<rect x="152.5" y="595.9" width="0.9" height="0.9" fill="#666"/>
<rect x="156.7" y="592.6" width="0.9" height="0.9" fill="#666"/>
<rect x="150.2" y="598.2" width="0.9" height="0.9" fill="#666"/>
<rect x="168.0" y="577.3" width="0.9" height="0.9" fill="#666"/>
<rect x="167.8" y="574.1" width="0.9" height="0.9" fill="#666"/>
<rect x="156.6" y="593.8" width="0.9" height="0.9" fill="#666"/>
<rect x="146.5" y="601.2" width="0.9" height="0.9" fill="#666"/>
<rect x="156.8" y="590.8" width="0.9" height="0.9" fill="#666"/>
<rect x="153.8" y="598.7" width="0.9" height="0.9" fill="#666"/>
<rect x="149.7" y="594.5" width="0.9" height="0.9" fill="#666"/>
<rect x="159.5" y="594.6" width="0.9" height="0.9" fill="#666"/>
<rect x="163.2" y="582.1" width="0.9" height="0.9" fill="#666"/>
<rect x="171.0" y="570.7" width="0.9" height="0.9" fill="#666"/>
<rect x="164.4" y="577.4" width="0.9" height="0.9" fill="#666"/>
<rect x="166.0" y="575.5" width="0.9" height="0.9" fill="#666"/>
<rect x="144.3" y="599.6" width="0.9" height="0.9" fill="#666"/>
<rect x="161.0" y="591.5" width="0.9" height="0.9" fill="#666"/>
<rect x="146.5" y="599.1" width="0.9" height="0.9" fill="#666"/>
<rect x="166.2" y="586.2" width="0.9" height="0.9" fill="#666"/>
<rect x="164.7" y="575.2" width="0.9" height="0.9" fill="#666"/>
<rect x="165.5" y="580.0" width="0.9" height="0.9" fill="#666"/>
<rect x="159.9" y="579.9" width="0.9" height="0.9" fill="#666"/>
<rect x="162.7" y="586.5" width="0.9" height="0.9" fill="#666"/>
<rect x="153.5" y="594.8" width="0.9" height="0.9" fill="#666"/>
<rect x="149.3" y="596.0" width="0.9" height="0.9" fill="#666"/>
<rect x="154.7" y="598.7" width="0.9" height="0.9" fill="#666"/>
<rect x="160.4" y="582.2" width="0.9" height="0.9" fill="#666"/>
<rect x="150.5" y="589.7" width="0.9" height="0.9" fill="#666"/>
</g>
<g transform="translate(235.00,2.50)">
<polyline points="123.9,529.7 122.3,529.2 120.6,529.5 118.9,530.0 117.1,529.7 115.4,530.0 113.6,529.9 111.5,530.2 109.7,531.6 107.7,532.1 107.0,533.5 106.3,535.0 104.1,534.2 101.9,533.6 100.7,532.4 98.8,532.5 97.6,531.3 96.1,530.7 95.6,529.0 95.3,527.2 94.6,525.5 93.5,523.7 91.5,522.8 90.2,521.2 90.7,519.5 90.8,517.8 91.0,516.1 91.8,514.3 92.0,512.3 93.5,510.8 93.9,508.8 93.0,507.3 91.2,506.7 89.9,505.7 88.8,504.4 86.8,504.2 85.0,505.5 83.0,505.4 81.2,506.3 79.2,506.8 77.2,506.8 75.2,506.7 73.2,507.1 71.3,507.6 69.3,506.9 67.5,506.0 65.5,505.4 63.6,505.5 61.9,504.5 60.0,504.3 58.2,503.9 56.7,503.2 55.2,502.6 53.8,501.8 52.2,501.3 50.9,500.3 49.1,499.5 47.9,498.0 46.3,497.0 45.2,495.4 43.6,494.4 42.4,493.0 40.8,491.9 39.2,491.0 37.6,490.0 36.3,488.6 34.8,487.8 33.4,486.9 32.0,485.8 30.7,484.6 29.0,484.2 27.6,483.2 26.8,481.7 25.7,480.4 24.6,479.1 24.5,477.4 24.3,475.7 23.8,474.1 23.1,472.5 23.5,470.8 24.0,469.1 24.2,467.3 24.7,465.6 24.6,463.8 24.1,461.6 23.1,459.5 22.2,457.9 20.7,456.7 20.2,454.8 18.8,453.6 17.9,451.8 17.4,449.9 16.9,448.0 15.8,446.3 15.8,444.2 15.4,442.3 14.4,440.5 15.2,438.8 16.6,437.6 18.2,437.6 19.8,437.4 21.4,437.1 23.0,436.6 24.6,436.8 26.4,436.8 28.2,436.6 29.9,436.0 31.6,435.7 33.4,435.4 34.7,434.4 36.1,433.4 37.7,433.1 39.3,432.5 40.7,431.7 40.6,429.8 41.7,428.1 41.5,426.2 42.1,424.4 43.7,423.6 45.2,422.8 47.2,423.3 48.7,422.2 50.2,420.9 51.6,419.6 52.6,417.9 53.8,416.4 55.3,415.5 57.1,415.5 58.7,415.3 60.4,414.9 61.6,413.2 63.3,412.0 65.7,411.7 67.7,410.5 69.6,411.9 71.3,413.5 73.0,415.1 74.2,417.1 74.9,418.8 76.5,419.8 77.2,421.5 76.7,423.3 77.3,425.1 77.1,427.0 77.2,428.8 79.0,429.2 80.7,429.9 82.5,430.2 84.3,430.6 85.9,431.7 86.7,433.4 88.3,434.5 89.0,436.3 90.3,437.6 91.5,438.9 91.8,440.8 93.2,441.9 95.1,442.8 97.1,443.2 99.1,443.4 100.9,443.8 102.7,443.7 104.5,444.0 106.4,443.5 108.2,444.0 110.0,444.1 111.7,444.8 113.6,444.4 115.2,445.5 117.0,445.7 118.8,445.6 120.5,445.1 122.2,444.6 124.0,444.2 125.7,443.7 127.5,443.4 129.7,443.2 131.4,441.8 133.4,441.2 134.3,439.6 135.6,438.3 137.4,437.5 138.5,436.1 139.4,434.4 139.2,432.4 140.6,431.5 142.1,430.6 143.6,429.7 145.0,428.8 146.9,428.5 148.6,427.4 150.5,427.3 152.3,426.6 153.8,425.9 155.3,425.3 156.5,424.1 158.0,423.4 159.6,423.0 161.3,421.4 163.3,420.0 161.5,419.4 159.6,419.9 157.8,419.5 156.0,419.7 154.1,419.9 152.3,419.3 150.8,418.1 150.1,416.4 150.9,414.8 151.4,413.1 151.6,411.3 153.3,410.9 155.0,411.0 156.7,410.5 157.8,409.2 158.9,407.8 159.9,406.4 160.4,404.7 160.0,402.8 160.4,400.8 159.6,398.9 159.7,397.0 158.9,395.2 160.6,394.6 162.5,394.1 164.0,393.0 165.8,392.8 167.6,392.5 169.4,392.2 171.3,392.3 173.0,393.4 175.0,393.8 176.1,395.1 176.9,396.5 177.2,398.1 178.4,399.8 179.9,401.2 181.5,402.5 183.0,403.5 184.2,404.7 185.9,405.4 188.0,405.4 189.9,406.1 191.8,406.9 193.7,406.4 195.7,406.3 197.6,406.2 199.4,405.1 201.3,404.3 203.4,404.0 204.9,405.4 204.8,407.4 204.0,409.3 204.2,411.3 203.0,412.8 202.5,414.6 202.0,416.4 201.3,418.6 200.5,420.8 200.6,422.5 199.6,424.0 199.9,425.7 199.8,427.3 198.7,428.6 198.4,430.5 197.3,431.9 196.1,433.2 194.5,433.9 193.1,434.9 191.8,436.1 189.9,437.6 188.7,439.6 187.6,441.4 186.8,443.4 185.7,445.2 184.8,446.5 183.6,447.7 183.1,449.3" fill="none" stroke="#b6aeec" stroke-width="4.0" stroke-linejoin="round" stroke-linecap="round" filter="url(#blur1)"/>
<path d="M26.8,448.8 30.7,438.3 29.8,436.0 28.2,436.6 26.4,436.8 24.6,436.8 23.0,436.6 21.4,437.1 19.8,437.4 18.2,437.6 16.6,437.6 15.2,438.8 14.4,440.5 15.4,442.3 15.8,444.2 15.8,446.3 16.9,448.0 17.4,449.9 17.6,450.5ZM31.3,474.7 30.5,464.9 27.5,461.7 24.2,462.3 24.6,463.8 24.7,465.6 24.2,467.3 24.0,469.1 23.5,470.8 23.1,472.5 23.8,474.1 24.3,475.7 24.5,477.4 24.5,478.2ZM49.1,430.6 54.1,416.2 53.8,416.4 52.6,417.9 51.6,419.6 50.2,420.9 48.7,422.2 47.2,423.3 45.2,422.8 43.7,423.6 42.1,424.4 41.5,426.2 41.7,428.1 41.4,428.5ZM27.5,461.7 29.3,453.3 26.8,448.8 17.6,450.5 17.9,451.8 18.8,453.6 20.2,454.8 20.7,456.7 22.2,457.9 23.1,459.5 24.1,461.6 24.2,462.3ZM27.5,461.7 30.5,464.9 41.5,461.3 43.1,458.0 40.1,454.7 29.3,453.3ZM43.9,480.7 44.3,478.4 44.1,478.2 31.3,474.7 24.5,478.2 24.6,479.1 25.7,480.4 26.8,481.7 27.6,483.2 29.0,484.2 30.7,484.6 32.0,485.8 33.4,486.9 34.8,487.8 36.3,488.6 36.7,489.0ZM44.3,478.4 49.9,476.7 55.9,469.6 55.1,461.4 47.2,457.4 43.1,458.0 41.5,461.3 44.1,478.2ZM30.5,464.9 31.3,474.7 44.1,478.2 41.5,461.3ZM29.3,453.3 40.1,454.7 40.5,442.4 30.7,438.3 26.8,448.8ZM40.1,454.7 43.1,458.0 47.2,457.4 53.2,441.0 52.4,439.9 40.5,442.4ZM52.4,439.9 52.5,438.7 49.1,430.6 41.4,428.5 40.6,429.8 40.7,431.7 39.3,432.5 37.7,433.1 36.1,433.4 34.7,434.4 33.4,435.4 31.6,435.7 29.9,436.0 29.8,436.0 30.7,438.3 40.5,442.4ZM52.0,498.8 43.9,480.7 36.7,489.0 37.6,490.0 39.2,491.0 40.8,491.9 42.4,493.0 43.6,494.4 45.2,495.4 46.3,497.0 47.9,498.0 49.1,499.5 50.9,500.3 51.5,500.7ZM44.3,478.4 43.9,480.7 52.0,498.8 61.1,490.5 61.3,485.1 49.9,476.7ZM64.9,427.8 69.9,429.5 77.2,426.7 77.3,425.1 76.7,423.3 77.2,421.5 76.5,419.8 74.9,418.8 74.2,417.1 73.0,415.1 71.3,413.5 69.6,411.9 67.7,410.5 65.7,411.7 63.3,412.0 61.6,413.2 60.4,414.9 58.7,415.3 57.1,415.5ZM55.1,461.4 55.6,460.9 60.8,448.4 59.9,444.8 53.2,441.0 47.2,457.4ZM52.4,439.9 53.2,441.0 59.9,444.8 68.7,441.4 69.9,429.5 64.9,427.8 52.5,438.7ZM51.5,500.7 52.2,501.3 53.8,501.8 55.2,502.6 56.7,503.2 58.2,503.9 60.0,504.3 61.9,504.5 63.6,505.5 65.5,505.4 67.4,506.0 69.4,497.3 67.8,493.8 61.1,490.5 52.0,498.8ZM55.1,461.4 55.9,469.6 62.7,470.7 69.2,465.4 69.6,460.2 69.3,459.5 55.6,460.9ZM49.9,476.7 61.3,485.1 67.4,480.8 68.3,478.5 62.7,470.7 55.9,469.6ZM52.5,438.7 64.9,427.8 57.1,415.5 57.1,415.5 55.3,415.5 54.1,416.2 49.1,430.6ZM61.3,485.1 61.1,490.5 67.8,493.8 74.2,487.7 67.4,480.8ZM55.6,460.9 69.3,459.5 69.7,456.0 60.8,448.4ZM59.9,444.8 60.8,448.4 69.7,456.0 75.3,451.0 72.9,443.5 68.7,441.4ZM69.4,497.3 84.3,496.1 77.6,487.9 74.2,487.7 67.8,493.8ZM68.3,478.5 77.4,474.1 77.7,473.2 69.2,465.4 62.7,470.7ZM74.2,487.7 77.6,487.9 80.4,479.5 77.4,474.1 68.3,478.5 67.4,480.8ZM69.6,460.2 79.1,461.9 82.0,457.1 78.1,451.6 75.3,451.0 69.7,456.0 69.3,459.5ZM68.7,441.4 72.9,443.5 86.3,436.4 87.2,433.7 86.7,433.4 85.9,431.7 84.3,430.6 82.5,430.2 80.7,429.9 79.0,429.2 77.2,428.8 77.1,427.0 77.2,426.7 69.9,429.5ZM69.2,465.4 77.7,473.2 81.4,469.4 79.1,461.9 69.6,460.2ZM67.4,506.0 67.5,506.0 69.3,506.9 71.3,507.6 73.2,507.1 75.2,506.7 77.2,506.8 79.2,506.8 81.2,506.3 83.0,505.4 85.0,505.5 85.7,505.0 86.0,503.9 84.7,496.3 84.3,496.1 69.4,497.3ZM84.3,496.1 84.7,496.3 90.5,490.1 90.5,490.1 89.2,481.5 80.4,479.5 77.6,487.9ZM84.7,496.3 86.0,503.9 94.7,502.2 99.1,495.7 91.8,490.5 90.5,490.1ZM80.4,479.5 89.2,481.5 92.7,476.9 92.9,476.6 92.8,476.5 84.2,469.1 81.4,469.4 77.7,473.2 77.4,474.1ZM86.3,436.4 72.9,443.5 75.3,451.0 78.1,451.6 87.2,444.7ZM81.4,469.4 84.2,469.1 90.5,463.3 89.4,457.3 89.3,457.1 82.0,457.1 79.1,461.9ZM90.5,490.1 98.9,483.8 92.7,476.9 89.2,481.5ZM84.2,469.1 92.8,476.5 96.0,470.2 93.2,464.7 90.5,463.3ZM82.0,457.1 89.3,457.1 90.8,449.5 87.2,444.7 78.1,451.6ZM90.5,463.3 93.2,464.7 100.0,461.9 97.7,457.1 89.4,457.3ZM92.7,476.9 98.9,483.8 102.6,484.0 102.8,477.5 92.9,476.6ZM96.0,470.2 99.5,469.8 103.1,466.9 102.1,462.5 100.0,461.9 93.2,464.7ZM90.5,490.1 91.8,490.5 100.2,489.4 103.2,485.2 103.2,484.7 102.6,484.0 98.9,483.8 90.5,490.1ZM92.9,476.6 102.8,477.5 103.5,476.9 103.5,476.6 99.5,469.8 96.0,470.2 92.8,476.5ZM94.7,502.2 97.6,502.8 102.8,501.0 103.9,499.1 101.8,495.6 99.1,495.7ZM91.8,490.5 99.1,495.7 101.8,495.6 102.4,494.0 100.2,489.4ZM103.2,484.7 109.0,482.5 110.4,478.0 110.4,477.9 103.5,476.9 102.8,477.5 102.6,484.0ZM100.2,489.4 102.4,494.0 107.7,490.8 107.9,490.1 103.2,485.2ZM99.5,469.8 103.5,476.6 106.2,471.4 103.6,467.2 103.1,466.9ZM101.8,495.6 103.9,499.1 108.5,499.1 109.4,498.2 109.8,495.5 107.7,490.8 102.4,494.0ZM102.1,462.5 103.1,466.9 103.6,467.2 112.1,465.4 111.3,461.7 104.3,460.4ZM124.0,445.2 126.1,446.3 130.4,446.0 131.7,443.5 130.9,442.2 129.7,443.2 127.5,443.4 125.7,443.7 124.0,444.2 123.8,444.3ZM142.6,432.6 142.1,430.6 142.1,430.6 140.6,431.5 139.2,432.4 139.3,433.9ZM103.2,485.2 107.9,490.1 112.6,487.6 112.5,486.8 109.0,482.5 103.2,484.7ZM103.5,476.9 110.4,477.9 109.7,471.5 106.2,471.4 103.5,476.6ZM110.4,478.0 114.6,478.1 116.1,476.2 114.0,469.2 113.2,468.3 109.7,471.5 110.4,477.9ZM106.2,471.4 109.7,471.5 113.2,468.3 113.0,466.5 112.1,465.4 103.6,467.2ZM115.6,480.5 119.0,482.6 123.0,480.3 122.4,477.9 118.5,475.7 116.1,476.2 114.6,478.1ZM113.1,458.0 119.7,458.0 119.8,452.7 113.4,450.4 112.9,450.5 111.6,454.8ZM116.9,446.5 121.5,449.2 124.0,445.2 123.8,444.3 122.2,444.6 120.5,445.1 118.8,445.6 117.0,445.7 116.9,445.7ZM116.1,476.2 118.5,475.7 120.8,472.1 119.9,470.0 114.0,469.2ZM121.6,450.7 126.0,452.2 127.2,451.9 127.3,451.7 126.1,446.3 124.0,445.2 121.5,449.2ZM127.3,451.7 131.2,449.3 130.4,446.0 126.1,446.3ZM139.5,437.0 138.7,435.8 138.5,436.1 137.4,437.5 135.6,438.3 135.0,438.9 136.5,440.7 138.6,439.6ZM138.6,439.6 140.6,442.0 143.0,441.5 143.1,440.2 141.3,437.3 139.5,437.0ZM142.6,432.6 145.8,434.6 147.1,434.6 147.4,434.5 148.5,430.8 147.5,428.1 146.9,428.5 145.0,428.8 143.6,429.7 142.1,430.6ZM139.5,437.0 141.3,437.3 145.8,434.6 142.6,432.6 139.3,433.9 139.4,434.4 138.7,435.8ZM143.1,440.2 146.8,437.4 147.1,434.6 145.8,434.6 141.3,437.3ZM143.0,441.5 144.0,442.5 146.3,442.4 147.2,438.5 146.8,437.4 143.1,440.2ZM146.3,442.4 147.3,443.0 150.6,441.6 150.8,441.0 147.2,438.5ZM147.2,438.5 150.8,441.0 152.2,439.8 152.5,436.7 147.4,434.5 147.1,434.6 146.8,437.4ZM152.5,436.7 156.8,434.7 157.2,433.1 155.2,430.8 148.5,430.8 147.4,434.5ZM152.5,436.7 152.2,439.8 154.5,441.1 156.3,440.7 158.0,436.9 156.8,434.7ZM148.5,430.8 155.2,430.8 155.1,425.4 153.8,425.9 152.3,426.6 150.5,427.3 148.6,427.4 147.5,428.1ZM155.2,430.8 157.2,433.1 161.8,430.9 159.2,424.5 157.7,423.6 156.5,424.1 155.3,425.3 155.1,425.4ZM157.2,419.6 157.8,419.5 159.6,419.9 161.5,419.4 163.3,420.0 161.3,421.4 159.6,423.0 158.0,423.4 157.7,423.6 159.2,424.5 166.5,423.8 161.4,417.7 159.8,417.2 158.7,417.5ZM161.8,430.9 163.5,431.0 167.7,424.5 167.7,424.3 167.7,424.3 166.5,423.8 159.2,424.5ZM165.8,433.8 172.2,430.5 167.7,424.5 163.5,431.0ZM167.7,424.5 172.2,430.5 174.1,431.3 175.6,430.7 176.8,425.0 176.5,424.3 172.7,422.7 167.7,424.3ZM191.8,429.6 189.0,432.3 190.2,437.4 191.8,436.1 193.1,434.9 194.5,433.9 196.1,433.2 196.8,432.5ZM195.7,418.4 196.9,421.7 200.1,423.3 200.6,422.5 200.5,420.8 201.3,418.6 202.0,416.4 202.5,414.6 202.9,413.2Z" fill="#fde8da" stroke="#c4b3a8" stroke-width="0.3" stroke-linejoin="round"/>
<path d="M168.9,395.5 169.3,392.2 167.6,392.5 165.8,392.8 164.0,393.0 162.5,394.1 160.6,394.6 158.9,395.2 159.7,396.9ZM156.7,414.4 157.9,409.1 157.9,409.1 157.8,409.2 156.7,410.5 155.0,411.0 153.3,410.9 151.6,411.3 151.5,412.5ZM87.2,444.7 90.8,449.5 95.0,449.1 97.9,443.3 97.1,443.2 95.1,442.8 93.2,441.9 91.8,440.8 91.5,438.9 90.3,437.6 89.0,436.3 88.3,434.5 87.2,433.7 86.3,436.4ZM89.3,457.1 89.4,457.3 97.7,457.1 99.2,454.9 96.2,449.6 95.0,449.1 90.8,449.5ZM102.1,447.4 107.4,447.0 108.5,446.3 108.8,444.0 108.2,444.0 106.4,443.5 104.5,444.0 102.7,443.7 100.9,443.8ZM86.0,503.9 85.7,505.0 86.8,504.2 88.8,504.4 89.9,505.7 91.2,506.7 93.0,507.3 93.9,508.8 93.6,510.2 100.7,510.8 101.8,509.0 97.6,502.8 94.7,502.2ZM96.2,449.6 101.1,448.6 102.1,447.4 100.9,443.8 100.9,443.8 99.1,443.4 97.9,443.3 95.0,449.1ZM97.7,457.1 100.0,461.9 102.1,462.5 104.3,460.4 104.6,454.7 103.7,454.4 99.2,454.9ZM99.2,454.9 103.7,454.4 101.1,448.6 96.2,449.6ZM104.6,454.7 104.7,454.7 107.4,447.0 102.1,447.4 101.1,448.6 103.7,454.4ZM104.3,460.4 111.3,461.7 113.1,458.0 111.6,454.8 104.7,454.7 104.6,454.7ZM112.5,486.8 115.6,480.5 114.6,478.1 110.4,478.0 109.0,482.5ZM113.0,466.5 121.1,463.5 121.9,461.8 121.7,459.7 119.7,458.0 113.1,458.0 111.3,461.7 112.1,465.4ZM104.7,454.7 111.6,454.8 112.9,450.5 108.5,446.3 107.4,447.0ZM114.4,488.6 117.1,488.5 119.6,486.7 119.0,482.6 115.6,480.5 112.5,486.8 112.6,487.6ZM112.9,450.5 113.4,450.4 116.9,446.5 116.9,445.7 115.2,445.5 113.6,444.4 111.7,444.8 110.0,444.1 108.8,444.0 108.5,446.3ZM114.0,469.2 119.9,470.0 121.8,466.7 121.1,463.5 113.0,466.5 113.2,468.3ZM121.7,459.7 123.8,458.5 126.0,452.2 121.6,450.7 119.8,452.7 119.7,458.0ZM119.8,452.7 121.6,450.7 121.5,449.2 116.9,446.5 113.4,450.4ZM121.8,466.7 125.5,469.3 126.7,468.8 127.6,464.3 121.9,461.8 121.1,463.5ZM129.4,529.8 128.0,526.8 123.8,529.7 123.9,529.7 125.1,530.9 126.7,531.4 128.1,531.8ZM122.8,529.4 123.8,529.7 128.0,526.8 128.5,524.8 126.3,523.2 122.3,525.6ZM119.2,520.2 118.5,523.2 122.3,525.6 126.3,523.2 125.9,521.8 122.5,519.2ZM121.9,461.8 127.6,464.3 129.5,463.8 131.1,461.4 129.1,458.2 123.8,458.5 121.7,459.7ZM123.8,458.5 129.1,458.2 130.2,455.7 127.2,451.9 126.0,452.2ZM128.5,524.8 130.3,524.5 131.8,522.2 131.0,518.0 130.7,517.8 128.8,518.1 125.9,521.8 126.3,523.2ZM160.3,401.3 160.0,402.8 160.4,404.7 159.9,406.4 158.9,407.8 157.9,409.1 157.9,409.1 163.0,410.6 163.5,410.4 164.1,403.6 163.8,403.2ZM163.8,403.2 170.2,398.0 168.9,395.5 159.7,396.9 159.7,397.0 159.6,398.9 160.4,400.8 160.3,401.3ZM166.5,423.8 167.7,424.3 168.2,417.1 167.2,415.9 161.4,417.7ZM163.5,410.4 167.4,411.9 170.2,410.4 168.1,405.2 164.1,403.6ZM168.9,395.5 170.2,398.0 172.3,399.0 177.1,397.3 176.9,396.5 176.1,395.1 175.0,393.8 173.0,393.4 171.3,392.3 169.4,392.2 169.3,392.2ZM167.2,415.9 168.2,417.1 173.6,416.8 175.1,415.3 172.3,410.6 170.2,410.4 167.4,411.9ZM164.1,403.6 168.1,405.2 172.3,403.1 172.3,399.0 170.2,398.0 163.8,403.2ZM170.2,410.4 172.3,410.6 175.6,406.5 172.3,403.1 168.1,405.2ZM175.1,415.3 175.8,415.4 182.1,412.8 178.9,406.1 175.6,406.5 172.3,410.6ZM172.3,403.1 175.6,406.5 178.9,406.1 181.3,402.3 179.9,401.2 178.4,399.8 177.2,398.1 177.1,397.3 172.3,399.0ZM178.9,406.1 182.1,412.8 182.5,412.9 189.6,407.9 189.7,406.1 188.0,405.4 185.9,405.4 184.2,404.7 183.0,403.5 181.5,402.5 181.3,402.3ZM189.6,407.9 192.9,412.7 198.6,410.0 198.2,405.8 197.6,406.2 195.7,406.3 193.7,406.4 191.8,406.9 189.9,406.1 189.7,406.1ZM189.6,417.4 192.8,416.0 192.9,412.7 189.6,407.9 182.5,412.9 182.6,413.1ZM191.2,426.2 196.9,421.7 195.7,418.4 192.8,416.0 189.6,417.4 188.3,419.8ZM196.9,421.7 191.2,426.2 191.0,426.6 191.8,429.6 196.8,432.5 197.3,431.9 198.4,430.5 198.7,428.6 199.8,427.3 199.9,425.7 199.6,424.0 200.1,423.3ZM198.6,410.0 202.9,413.0 203.0,412.8 204.2,411.3 204.0,409.3 204.8,407.4 204.9,405.4 203.4,404.0 201.3,404.3 199.4,405.1 198.2,405.8ZM192.8,416.0 195.7,418.4 202.9,413.2 202.9,413.0 198.6,410.0 192.9,412.7Z" fill="#f5bfa2" stroke="#e6b9a3" stroke-width="0.3" stroke-linejoin="round"/>
<path d="M100.5,527.4 101.6,524.7 101.4,524.5 94.1,524.8 94.6,525.5 95.3,527.2 95.6,529.0 96.1,530.7 96.3,530.8ZM101.4,524.5 100.9,523.5 92.7,517.9 90.8,517.6 90.8,517.8 90.7,519.5 90.2,521.2 91.5,522.8 93.5,523.7 94.1,524.8ZM92.7,517.9 100.7,516.0 101.9,514.4 100.7,510.8 93.6,510.2 93.5,510.8 92.0,512.3 91.8,514.3 91.0,516.1 90.8,517.6ZM100.5,527.4 96.3,530.8 97.6,531.3 98.8,532.5 100.7,532.4 101.9,533.6 103.6,534.1ZM100.9,523.5 100.7,516.0 92.7,517.9ZM101.8,509.0 104.7,507.2 102.8,501.0 97.6,502.8ZM101.6,524.7 100.5,527.4 103.6,534.1 104.1,534.2 105.6,534.8 108.4,525.6 108.3,525.4 105.7,524.4ZM102.8,501.0 104.7,507.2 107.4,507.3 109.7,504.0 108.5,499.1 103.9,499.1ZM108.4,525.6 105.6,534.8 106.3,535.0 107.0,533.5 107.7,532.1 109.7,531.6 111.5,530.2 113.6,529.9 113.7,529.9ZM122.4,477.9 125.6,474.7 124.4,472.4 120.8,472.1 118.5,475.7ZM131.7,443.5 132.2,443.6 136.3,441.2 136.5,440.7 135.0,438.9 134.3,439.6 133.4,441.2 131.4,441.8 130.9,442.2ZM123.6,492.7 123.9,493.0 127.7,491.5 127.7,488.7 125.9,486.4 124.6,485.9 122.1,487.3ZM119.6,486.7 122.1,487.3 124.6,485.9 124.6,481.4 123.0,480.3 119.0,482.6ZM124.6,481.4 127.4,480.7 127.7,475.2 125.6,474.7 122.4,477.9 123.0,480.3ZM120.8,472.1 124.4,472.4 125.5,469.3 121.8,466.7 119.9,470.0ZM125.6,474.7 127.7,475.2 129.0,474.8 130.0,470.1 126.7,468.8 125.5,469.3 124.4,472.4ZM124.6,485.9 125.9,486.4 129.8,483.8 128.0,480.9 127.4,480.7 124.6,481.4ZM127.2,451.9 130.2,455.7 133.1,454.8 131.7,449.6 131.2,449.3 127.3,451.7ZM125.9,486.4 127.7,488.7 132.3,486.5 131.7,484.6 129.8,483.8ZM130.0,470.1 132.3,469.0 132.6,468.6 132.6,468.4 129.5,463.8 127.6,464.3 126.7,468.8ZM128.0,480.9 132.4,478.8 133.0,476.5 129.0,474.8 127.7,475.2 127.4,480.7ZM129.1,458.2 131.1,461.4 131.3,461.4 134.8,458.5 134.4,455.5 133.9,455.0 133.1,454.8 130.2,455.7ZM131.2,449.3 131.7,449.6 135.3,449.2 135.2,445.6 132.2,443.6 131.7,443.5 130.4,446.0ZM129.0,474.8 133.0,476.5 133.1,476.4 133.9,474.3 132.3,469.0 130.0,470.1ZM133.1,454.8 133.9,455.0 136.4,451.6 135.4,449.2 135.3,449.2 131.7,449.6ZM133.0,476.5 132.4,478.8 133.5,482.0 136.8,482.2 138.0,479.4 135.9,477.1 133.1,476.4ZM132.3,469.0 133.9,474.3 138.1,471.2 132.6,468.6ZM135.2,445.6 138.3,444.6 136.3,441.2 132.2,443.6ZM133.1,476.4 135.9,477.1 138.9,474.4 139.2,471.2 139.0,471.1 138.1,471.2 133.9,474.3ZM134.8,458.5 138.3,460.5 139.1,460.2 139.8,455.8 134.4,455.5ZM135.3,449.2 135.4,449.2 139.6,447.8 140.2,446.6 139.0,444.8 138.3,444.6 135.2,445.6ZM134.4,455.5 139.8,455.8 140.7,454.8 140.8,453.2 140.3,452.7 136.4,451.6 133.9,455.0ZM136.3,441.2 138.3,444.6 139.0,444.8 140.6,442.0 138.6,439.6 136.5,440.7ZM136.4,451.6 140.3,452.7 139.6,447.8 135.4,449.2ZM135.9,477.1 138.0,479.4 140.4,479.1 140.6,476.5 138.9,474.4ZM158.7,417.5 156.7,414.4 151.5,412.5 151.4,413.1 150.9,414.8 150.1,416.4 150.8,418.1 152.3,419.3 154.1,419.9 156.0,419.7 157.2,419.6ZM143.0,475.2 145.6,477.3 147.2,475.1 147.1,472.9 143.1,471.4 142.4,471.5ZM143.1,446.1 145.8,446.9 147.6,444.9 147.3,443.0 146.3,442.4 144.0,442.5ZM143.8,526.7 147.3,526.9 147.8,526.3 147.9,525.4 145.2,521.8 143.0,522.8ZM147.3,526.9 147.5,529.2 150.5,531.1 151.6,530.4 152.0,528.5 151.1,527.0 147.8,526.3ZM155.2,527.4 152.0,528.5 151.6,530.4 151.9,530.3 153.9,529.7 155.9,529.2 156.5,529.2ZM147.8,526.3 151.1,527.0 152.5,524.4 149.6,523.2 147.9,525.4ZM152.5,524.4 151.1,527.0 152.0,528.5 155.2,527.4 155.7,524.1 155.3,523.7 153.9,523.7ZM155.2,527.4 156.5,529.2 157.6,529.2 159.0,528.2 159.3,528.1 158.6,524.8 155.7,524.1ZM158.7,417.5 159.8,417.2 163.0,410.6 157.9,409.1 156.7,414.4ZM161.4,417.7 167.2,415.9 167.4,411.9 163.5,410.4 163.0,410.6 159.8,417.2ZM167.8,444.9 171.3,446.5 172.7,443.6 171.3,441.0 170.1,440.9 167.5,443.8ZM168.3,437.0 173.0,435.3 174.1,431.3 172.2,430.5 165.8,433.8 166.2,436.0ZM170.1,440.9 171.3,441.0 173.9,439.6 174.0,436.9 173.0,435.3 168.3,437.0ZM173.0,435.3 174.0,436.9 177.7,436.9 179.8,435.1 180.7,433.2 175.6,430.7 174.1,431.3ZM171.3,441.0 172.7,443.6 175.2,443.9 176.0,440.7 173.9,439.6ZM176.0,440.7 177.1,440.5 177.7,436.9 174.0,436.9 173.9,439.6ZM179.7,441.4 180.5,441.1 179.8,435.1 177.7,436.9 177.1,440.5ZM178.9,443.9 181.0,447.0 181.5,446.9 183.3,444.3 183.3,443.1 181.6,441.2 180.5,441.1 179.7,441.4ZM181.1,450.1 181.6,450.0 183.1,449.3 183.5,448.1 181.5,446.9 181.0,447.0 180.2,447.9ZM183.3,443.1 186.2,442.1 185.3,437.8 184.8,437.5 181.6,441.2ZM185.3,437.8 186.2,442.1 187.1,442.5 187.6,441.4 188.7,439.6 189.6,438.2ZM183.3,444.3 181.5,446.9 183.5,448.1 183.6,447.7 184.8,446.5 185.4,445.6Z" fill="#ec8e70" stroke="#f3b8a2" stroke-width="0.3" stroke-linejoin="round"/>
<path d="M101.6,524.7 105.7,524.4 106.0,516.9 104.5,515.2 101.9,514.4 100.7,516.0 100.9,523.5 101.4,524.5ZM100.7,510.8 101.9,514.4 104.5,515.2 109.7,510.5 107.4,507.3 104.7,507.2 101.8,509.0ZM104.5,515.2 106.0,516.9 111.1,516.8 111.2,511.2 109.7,510.5ZM108.5,499.1 109.7,504.0 114.5,504.5 115.6,500.6 115.0,499.3 109.4,498.2ZM107.7,490.8 109.8,495.5 114.4,493.7 114.4,488.6 112.6,487.6 107.9,490.1ZM109.7,510.5 111.2,511.2 114.2,510.4 116.1,507.8 116.2,506.9 114.5,504.5 109.7,504.0 107.4,507.3ZM105.7,524.4 108.3,525.4 111.1,522.6 112.2,517.9 111.1,516.8 106.0,516.9ZM116.2,506.9 122.0,503.9 122.0,503.7 122.1,503.6 121.3,501.3 115.6,500.6 114.5,504.5ZM109.8,495.5 109.4,498.2 115.0,499.3 116.9,495.8 114.4,493.7ZM116.9,495.8 117.3,495.7 119.2,492.7 117.1,488.5 114.4,488.6 114.4,493.7ZM115.6,500.6 121.3,501.3 122.1,498.4 117.3,495.7 116.9,495.8 115.0,499.3ZM119.2,520.2 122.5,519.2 124.3,515.4 123.7,514.4 120.2,513.5 117.5,515.1 117.0,517.1ZM120.2,513.5 123.7,514.4 124.8,510.1 122.6,509.0 120.2,510.2ZM125.9,521.8 128.8,518.1 125.2,515.5 124.3,515.4 122.5,519.2ZM123.7,514.4 124.3,515.4 125.2,515.5 128.7,512.8 126.5,509.5 124.8,510.1ZM128.8,518.1 130.7,517.8 129.4,513.0 128.7,512.8 125.2,515.5ZM128.7,512.8 129.4,513.0 131.5,511.8 131.8,511.0 130.5,508.1 127.7,507.7 126.5,509.5ZM129.4,529.8 133.1,529.8 133.1,529.8 132.5,526.4 130.3,524.5 128.5,524.8 128.0,526.8ZM128.7,503.4 131.6,503.8 132.8,502.3 131.9,498.7 128.4,498.7 127.8,501.6ZM127.7,491.5 129.6,492.6 131.6,492.5 133.6,489.8 132.9,487.1 132.3,486.5 127.7,488.7ZM127.7,507.7 130.5,508.1 132.4,506.5 131.6,503.8 128.7,503.4 127.4,506.8ZM129.8,483.8 131.7,484.6 133.5,482.0 132.4,478.8 128.0,480.9ZM131.0,518.0 132.4,517.4 133.4,513.9 131.5,511.8 129.4,513.0 130.7,517.8ZM132.3,486.5 132.9,487.1 136.5,485.7 137.2,483.1 136.8,482.2 133.5,482.0 131.7,484.6ZM142.7,534.1 138.5,535.1 138.7,536.2 139.1,538.0 141.3,536.5 143.1,535.4 143.6,534.7ZM131.8,522.2 135.6,522.3 136.1,521.8 135.9,518.1 132.4,517.4 131.0,518.0ZM132.8,502.3 136.5,503.0 137.5,500.3 132.5,498.3 131.9,498.7ZM132.5,526.4 136.1,525.1 135.6,522.3 131.8,522.2 130.3,524.5ZM131.8,511.0 135.5,509.9 133.9,506.7 132.4,506.5 130.5,508.1ZM132.4,506.5 133.9,506.7 136.9,504.3 136.5,503.0 132.8,502.3 131.6,503.8ZM131.6,492.5 133.6,495.5 136.1,495.2 137.3,493.8 136.0,490.4 133.6,489.8ZM131.5,511.8 133.4,513.9 137.2,513.0 137.2,512.9 137.2,510.7 135.5,509.9 131.8,511.0ZM137.9,528.6 138.3,527.1 138.2,527.0 136.1,525.1 132.5,526.4 133.1,529.8 134.0,530.1ZM136.1,525.1 138.2,527.0 141.1,522.2 140.8,521.9 136.1,521.8 135.6,522.3ZM133.4,513.9 132.4,517.4 135.9,518.1 136.2,517.9 137.2,513.0ZM135.5,509.9 137.2,510.7 138.1,509.8 139.1,505.9 136.9,504.3 133.9,506.7ZM136.9,504.3 139.1,505.9 141.3,505.4 142.0,503.2 138.9,499.3 138.7,499.3 137.5,500.3 136.5,503.0ZM136.1,521.8 140.8,521.9 140.6,518.9 139.8,518.2 136.2,517.9 135.9,518.1ZM137.3,493.8 139.8,493.6 140.2,493.3 139.3,488.5 136.0,490.4ZM133.6,489.8 136.0,490.4 139.3,488.5 139.4,488.5 139.4,488.3 136.5,485.7 132.9,487.1ZM136.5,485.7 139.4,488.3 141.1,486.2 139.9,483.8 137.2,483.1ZM137.2,513.0 136.2,517.9 139.8,518.2 139.9,514.2 137.2,512.9ZM136.1,495.2 138.7,499.3 138.9,499.3 140.8,497.9 139.8,493.6 137.3,493.8ZM138.9,530.5 141.8,531.2 143.3,529.6 143.3,527.3 138.3,527.1 137.9,528.6ZM139.8,455.8 139.1,460.2 140.0,460.6 144.0,459.0 143.2,456.1 140.7,454.8ZM139.9,514.2 142.6,513.6 143.0,513.0 142.0,510.4 138.1,509.8 137.2,510.7 137.2,512.9ZM141.1,522.2 143.0,522.8 145.2,521.8 145.4,521.6 144.3,517.1 144.0,517.0 140.6,518.9 140.8,521.9ZM137.2,483.1 139.9,483.8 142.1,480.9 141.9,480.0 140.4,479.1 138.0,479.4 136.8,482.2ZM139.8,518.2 140.6,518.9 144.0,517.0 142.6,513.6 139.9,514.2ZM140.3,452.7 140.8,453.2 143.8,451.3 142.2,446.7 140.2,446.6 139.6,447.8ZM140.2,446.6 142.2,446.7 143.1,446.1 144.0,442.5 143.0,441.5 140.6,442.0 139.0,444.8ZM139.1,505.9 138.1,509.8 142.0,510.4 143.7,507.4 141.3,505.4ZM138.9,474.4 140.6,476.5 143.0,475.2 142.4,471.5 141.0,470.9 139.2,471.2ZM137.5,534.4 138.4,534.3 138.5,535.1 142.7,534.1 141.8,531.2 138.9,530.5ZM138.3,527.1 143.3,527.3 143.8,526.7 143.0,522.8 141.1,522.2 138.2,527.0ZM140.4,479.1 141.9,480.0 145.6,477.4 145.6,477.3 143.0,475.2 140.6,476.5ZM147.5,529.2 145.9,530.8 146.1,532.6 148.0,531.9 150.1,531.4 150.5,531.1ZM143.3,529.6 145.9,530.8 147.5,529.2 147.3,526.9 143.8,526.7 143.3,527.3ZM142.7,534.1 143.6,534.7 144.2,533.6 146.1,532.6 146.1,532.6 145.9,530.8 143.3,529.6 141.8,531.2ZM143.0,513.0 147.2,511.6 147.5,510.6 144.2,507.4 143.7,507.4 142.0,510.4ZM138.9,499.3 142.0,503.2 145.1,501.3 145.1,501.3 143.0,497.9 140.8,497.9ZM141.3,505.4 143.7,507.4 144.2,507.4 147.1,504.5 145.1,501.3 142.0,503.2ZM142.6,513.6 144.0,517.0 144.3,517.1 147.8,516.3 148.4,514.4 147.2,511.6 143.0,513.0ZM142.2,446.7 143.8,451.3 146.5,451.3 147.0,449.7 145.8,446.9 143.1,446.1ZM147.1,472.9 148.0,472.0 147.6,467.2 147.1,466.8 143.1,471.4ZM145.6,477.4 146.4,478.3 149.3,479.4 151.4,476.5 151.3,476.2 147.2,475.1 145.6,477.3ZM147.5,510.6 147.9,510.3 150.0,506.1 149.1,504.9 147.1,504.5 144.2,507.4ZM147.0,452.1 152.3,451.2 151.4,449.1 149.1,448.5 147.0,449.7 146.5,451.3ZM145.1,501.3 147.1,504.5 149.1,504.9 151.1,500.8 147.6,499.7 145.1,501.3ZM147.9,525.4 149.6,523.2 149.4,521.7 147.2,521.0 145.4,521.6 145.2,521.8ZM145.8,446.9 147.0,449.7 149.1,448.5 149.4,445.8 147.6,444.9ZM145.0,455.7 147.9,457.6 148.3,457.5 149.2,455.2 147.1,452.1ZM145.4,521.6 147.2,521.0 148.3,517.2 147.8,516.3 144.3,517.1ZM147.2,511.6 148.4,514.4 151.2,514.1 152.5,510.8 147.9,510.3 147.5,510.6ZM147.2,521.0 149.4,521.7 151.2,520.1 151.5,518.9 148.3,517.2ZM149.4,445.8 151.4,445.2 151.8,444.4 150.6,441.6 147.3,443.0 147.6,444.9ZM147.1,472.9 147.2,475.1 151.3,476.2 151.8,475.5 151.9,474.1 149.2,472.0 148.0,472.0ZM149.6,523.2 152.5,524.4 153.9,523.7 151.2,520.1 149.4,521.7ZM147.9,510.3 152.5,510.8 153.7,510.1 151.1,506.4 150.0,506.1ZM150.6,493.7 155.0,492.4 155.1,492.0 153.8,489.3 151.5,489.7 150.0,492.8ZM150.0,506.1 151.1,506.4 154.3,504.6 154.2,502.5 152.3,500.2 151.1,500.8 149.1,504.9ZM153.9,523.7 155.3,523.7 156.4,520.0 152.4,518.4 151.5,518.9 151.2,520.1ZM152.3,500.0 155.2,498.5 156.3,495.6 155.7,494.9 151.3,496.4ZM150.5,495.6 151.3,496.4 155.7,494.9 155.0,492.4 150.6,493.7ZM153.9,510.1 155.5,509.5 155.8,505.8 154.3,504.6 151.1,506.4 153.7,510.1ZM155.7,524.1 158.6,524.8 160.7,523.7 160.6,520.6 156.9,519.6 156.4,520.0 155.3,523.7ZM152.3,500.2 154.2,502.5 157.3,501.8 157.4,499.9 155.2,498.5 152.3,500.0ZM155.0,514.6 157.9,513.4 156.0,509.6 155.5,509.5 153.9,510.1ZM160.8,523.8 160.7,523.7 158.6,524.8 159.3,528.1 160.5,527.8 162.0,526.6 162.4,526.5ZM154.8,514.9 157.2,517.8 158.9,516.3 158.0,513.4 157.9,513.4 155.0,514.6ZM155.0,492.4 155.7,494.9 156.3,495.6 157.6,495.7 159.7,493.7 158.5,491.0 155.1,492.0ZM154.3,504.6 155.8,505.8 157.0,505.5 158.6,502.8 157.3,501.8 154.2,502.5ZM157.9,443.0 159.5,442.4 160.2,438.2 158.0,436.9 156.3,440.7ZM156.0,509.6 158.9,509.1 159.7,507.1 157.0,505.5 155.8,505.8 155.5,509.5ZM157.3,501.8 158.6,502.8 162.2,502.9 162.6,501.7 160.6,498.4 159.8,498.2 157.4,499.9ZM157.9,513.4 158.0,513.4 161.4,511.8 158.9,509.1 156.0,509.6ZM157.0,505.5 159.7,507.1 162.9,505.1 162.2,502.9 158.6,502.8ZM160.7,523.7 160.8,523.8 164.7,523.4 164.5,521.3 161.3,520.1 160.6,520.6ZM157.5,444.3 160.9,446.9 161.7,446.4 162.2,444.9 161.3,443.1 159.5,442.4 157.9,443.0ZM156.8,434.7 158.0,436.9 160.2,438.2 163.7,438.6 166.2,436.0 165.8,433.8 163.5,431.0 161.8,430.9 157.2,433.1ZM156.9,519.6 160.6,520.6 161.3,520.1 162.3,516.8 162.1,516.5 158.9,516.3 157.2,517.8ZM159.5,442.4 161.3,443.1 163.8,439.5 163.7,438.6 160.2,438.2ZM158.9,509.1 161.4,511.8 161.5,511.9 163.0,511.1 163.0,505.3 162.9,505.1 159.7,507.1ZM161.0,451.7 161.3,451.7 164.7,449.3 164.7,447.8 161.7,446.4 160.9,446.9 159.7,449.3ZM158.9,516.3 162.1,516.5 161.5,511.9 161.4,511.8 158.0,513.4ZM164.7,523.4 160.8,523.8 162.4,526.5 163.8,526.0 165.6,525.2 166.1,524.7ZM162.1,516.5 162.3,516.8 163.7,516.8 165.7,514.0 165.0,511.5 163.0,511.1 161.5,511.9ZM161.9,489.4 163.0,491.0 165.9,490.9 166.2,488.5 163.9,487.3 162.9,487.5ZM162.2,444.9 166.1,443.1 163.8,439.5 161.3,443.1ZM162.5,494.5 166.0,494.3 167.0,493.4 167.0,491.9 165.9,490.9 163.0,491.0 162.3,494.1ZM163.8,439.5 166.1,443.1 167.5,443.8 170.1,440.9 168.3,437.0 166.2,436.0 163.7,438.6ZM166.1,524.7 167.0,523.9 168.5,522.8 169.7,521.5 170.0,521.1 168.2,518.8 166.8,518.8 164.5,521.3 164.7,523.4ZM161.7,446.4 164.7,447.8 167.0,446.3 167.8,444.9 167.5,443.8 166.1,443.1 162.2,444.9ZM161.3,520.1 164.5,521.3 166.8,518.8 163.7,516.8 162.3,516.8ZM163.0,511.1 165.0,511.5 166.6,510.6 166.9,510.1 165.7,505.8 163.0,505.3ZM162.5,483.2 165.9,484.0 167.0,483.7 167.4,483.1 166.6,479.8 164.5,479.5 163.4,480.0ZM164.7,449.3 167.4,451.8 168.5,450.4 168.6,450.4 167.0,446.3 164.7,447.8ZM163.9,487.3 166.2,488.5 167.8,487.5 167.0,483.7 165.9,484.0ZM165.7,514.0 168.5,515.1 169.2,512.9 166.6,510.6 165.0,511.5ZM163.7,516.8 166.8,518.8 168.2,518.8 169.0,516.3 168.5,515.1 165.7,514.0ZM173.1,515.4 169.0,516.3 168.2,518.8 170.0,521.1 170.8,519.9 172.0,518.6 173.2,517.3 173.8,516.1ZM167.7,424.3 167.7,424.3 172.7,422.7 173.6,416.8 168.2,417.1ZM167.0,446.3 168.6,450.4 170.3,449.8 171.2,448.4 172.0,447.7 171.3,446.5 167.8,444.9ZM169.0,516.3 173.1,515.4 172.9,512.8 171.2,511.8 169.2,512.9 168.5,515.1ZM166.6,510.6 169.2,512.9 171.2,511.8 170.7,509.7 169.3,509.1 166.9,510.1ZM173.6,416.8 172.7,422.7 176.5,424.3 178.6,420.5 175.8,415.4 175.1,415.3ZM171.2,511.8 172.9,512.8 176.1,510.5 174.9,508.6 172.6,508.1 170.7,509.7ZM176.1,510.5 172.9,512.8 173.1,515.4 173.8,516.1 174.1,515.7 175.5,514.5 176.2,512.8 176.8,510.9 176.9,510.8ZM175.6,430.7 180.7,433.2 182.4,432.9 183.7,426.0 183.6,425.8 176.8,425.0ZM179.8,435.1 180.5,441.1 181.6,441.2 184.8,437.5 183.0,433.2 182.4,432.9 180.7,433.2ZM178.6,420.5 182.5,420.0 182.6,413.1 182.5,412.9 182.1,412.8 175.8,415.4ZM183.0,433.2 189.0,432.3 191.8,429.6 191.0,426.6 183.7,426.0 182.4,432.9ZM186.2,442.1 183.3,443.1 183.3,444.3 185.4,445.6 185.7,445.2 186.8,443.4 187.1,442.5ZM185.3,437.8 189.6,438.2 189.9,437.6 190.2,437.4 189.0,432.3 183.0,433.2 184.8,437.5Z" fill="#e04c3c" stroke="#ec8272" stroke-width="0.3" stroke-linejoin="round"/>
<path d="M111.1,516.8 112.2,517.9 117.0,517.1 117.5,515.1 114.2,510.4 111.2,511.2ZM134.0,530.1 133.1,529.8 133.1,529.8 131.5,533.4 132.6,533.6 134.6,533.5 135.8,534.2ZM108.4,525.6 113.7,529.9 115.4,530.0 115.7,529.9 118.2,523.3 111.1,522.6 108.3,525.4ZM122.3,525.6 118.5,523.2 118.2,523.3 115.7,529.9 117.1,529.7 118.9,530.0 120.6,529.5 122.3,529.2 122.8,529.4ZM112.2,517.9 111.1,522.6 118.2,523.3 118.5,523.2 119.2,520.2 117.0,517.1ZM119.2,492.7 123.6,492.7 122.1,487.3 119.6,486.7 117.1,488.5ZM114.2,510.4 117.5,515.1 120.2,513.5 120.2,510.2 116.1,507.8ZM122.0,503.9 122.6,509.0 124.8,510.1 126.5,509.5 127.7,507.7 127.4,506.8 122.0,503.7ZM116.1,507.8 120.2,510.2 122.6,509.0 122.0,503.9 116.2,506.9ZM122.1,498.4 123.9,496.9 123.9,493.0 123.6,492.7 119.2,492.7 117.3,495.7ZM122.1,503.6 127.8,501.6 128.4,498.7 128.2,498.5 123.9,496.9 122.1,498.4 121.3,501.3ZM122.0,503.7 127.4,506.8 128.7,503.4 127.8,501.6 122.1,503.6ZM123.9,496.9 128.2,498.5 129.6,492.6 127.7,491.5 123.9,493.0ZM133.1,529.8 129.4,529.8 128.1,531.8 128.7,531.9 130.5,533.2 131.5,533.4ZM128.4,498.7 131.9,498.7 132.5,498.3 133.6,495.5 131.6,492.5 129.6,492.6 128.2,498.5ZM129.5,463.8 132.6,468.4 134.7,466.3 134.6,463.2 131.3,461.4 131.1,461.4ZM134.0,530.1 135.8,534.2 136.4,534.5 137.5,534.4 138.9,530.5 137.9,528.6ZM131.3,461.4 134.6,463.2 137.4,462.0 138.3,460.5 134.8,458.5ZM132.6,468.6 138.1,471.2 139.0,471.1 137.7,466.5 134.7,466.3 132.6,468.4ZM137.5,500.3 138.7,499.3 136.1,495.2 133.6,495.5 132.5,498.3ZM134.7,466.3 137.7,466.5 138.4,465.6 137.4,462.0 134.6,463.2ZM137.4,462.0 138.4,465.6 142.5,465.2 143.1,464.6 140.0,460.6 139.1,460.2 138.3,460.5ZM139.2,471.2 141.0,470.9 142.5,465.2 138.4,465.6 137.7,466.5 139.0,471.1ZM139.3,488.5 140.2,493.3 142.6,492.9 142.9,490.1 139.4,488.5ZM139.4,488.5 142.9,490.1 144.5,489.1 144.9,486.9 143.2,485.9 141.1,486.2 139.4,488.3ZM139.8,493.6 140.8,497.9 143.0,497.9 145.0,495.2 144.9,494.3 142.6,492.9 140.2,493.3ZM141.1,486.2 143.2,485.9 143.7,482.4 142.1,480.9 139.9,483.8ZM140.7,454.8 143.2,456.1 145.0,455.7 147.1,452.1 147.0,452.1 146.5,451.3 143.8,451.3 140.8,453.2ZM143.1,464.6 143.3,464.6 145.6,460.8 145.5,460.0 144.0,459.0 140.0,460.6ZM141.0,470.9 142.4,471.5 143.1,471.4 147.1,466.8 147.0,466.7 143.3,464.6 143.1,464.6 142.5,465.2ZM142.1,480.9 143.7,482.4 146.0,482.3 146.4,478.3 145.6,477.4 141.9,480.0ZM142.6,492.9 144.9,494.3 146.9,491.7 144.5,489.1 142.9,490.1ZM143.0,497.9 145.1,501.3 147.6,499.7 147.6,496.6 145.0,495.2ZM143.2,485.9 144.9,486.9 147.1,486.2 147.2,483.1 146.0,482.3 143.7,482.4ZM144.0,459.0 145.5,460.0 147.9,457.6 145.0,455.7 143.2,456.1ZM144.5,489.1 146.9,491.7 147.1,491.7 149.0,487.7 148.8,487.2 147.1,486.2 144.9,486.9ZM147.0,466.7 148.5,463.7 148.0,461.9 145.6,460.8 143.3,464.6ZM145.0,495.2 147.6,496.6 150.5,495.6 150.6,493.7 150.0,492.8 147.1,491.7 146.9,491.7 144.9,494.3ZM147.2,483.1 150.2,481.6 149.3,479.4 146.4,478.3 146.0,482.3ZM145.6,460.8 148.0,461.9 150.6,459.9 150.5,459.3 148.3,457.5 147.9,457.6 145.5,460.0ZM147.1,486.2 148.8,487.2 151.3,485.3 150.8,481.9 150.2,481.6 147.2,483.1ZM147.1,466.8 147.6,467.2 149.1,467.3 151.8,465.7 152.3,464.1 151.6,463.3 148.5,463.7 147.0,466.7ZM148.3,517.2 151.5,518.9 152.4,518.4 153.2,515.6 151.2,514.1 148.4,514.4 147.8,516.3ZM148.0,472.0 149.2,472.0 151.7,469.9 149.1,467.3 147.6,467.2ZM147.1,452.1 149.2,455.2 152.0,454.6 153.2,451.8 152.3,451.2 147.0,452.1ZM150.6,441.6 151.8,444.4 154.2,443.9 154.5,441.1 152.2,439.8 150.8,441.0ZM147.6,499.7 151.1,500.8 152.3,500.2 152.3,500.0 151.3,496.4 150.5,495.6 147.6,496.6ZM148.5,463.7 151.6,463.3 151.5,460.7 150.6,459.9 148.0,461.9ZM147.1,491.7 150.0,492.8 151.5,489.7 149.0,487.7ZM150.2,481.6 150.8,481.9 152.5,481.4 153.8,479.1 151.4,476.5 149.3,479.4ZM149.0,487.7 151.5,489.7 153.8,489.3 154.0,488.9 153.2,486.0 151.3,485.3 148.8,487.2ZM151.4,449.1 152.4,447.1 151.4,445.2 149.4,445.8 149.1,448.5ZM151.4,476.5 153.8,479.1 154.3,479.0 156.3,475.7 151.8,475.5 151.3,476.2ZM150.5,459.3 153.2,456.7 152.0,454.6 149.2,455.2 148.3,457.5ZM149.2,472.0 151.9,474.1 154.1,471.3 154.1,471.2 152.9,470.0 151.7,469.9ZM151.7,469.9 152.9,470.0 153.4,467.5 151.8,465.7 149.1,467.3ZM150.6,459.9 151.5,460.7 155.6,460.2 153.8,456.9 153.2,456.7 150.5,459.3ZM153.2,451.8 154.4,451.6 156.4,449.1 155.6,447.3 152.4,447.1 151.4,449.1 152.3,451.2ZM151.6,463.3 152.3,464.1 154.5,463.8 156.4,461.7 156.0,460.4 155.6,460.2 151.5,460.7ZM151.2,514.1 153.2,515.6 154.8,514.9 155.0,514.6 153.9,510.1 153.7,510.1 152.5,510.8ZM152.0,454.6 153.2,456.7 153.8,456.9 156.7,455.1 156.7,454.1 154.4,451.6 153.2,451.8ZM153.2,486.0 155.7,483.7 152.5,481.4 150.8,481.9 151.3,485.3ZM151.8,475.5 156.3,475.7 156.4,475.6 156.7,474.7 154.1,471.3 151.9,474.1ZM151.4,445.2 152.4,447.1 155.6,447.3 156.0,445.1 154.2,443.9 151.8,444.4ZM154.1,471.2 156.6,469.7 155.7,466.5 155.7,466.5 153.4,467.5 152.9,470.0ZM153.4,467.5 155.7,466.5 154.5,463.8 152.3,464.1 151.8,465.7ZM154.0,488.9 157.9,487.3 158.1,485.6 155.9,483.7 155.7,483.7 153.2,486.0ZM152.4,518.4 156.4,520.0 156.9,519.6 157.2,517.8 154.8,514.9 153.2,515.6ZM155.6,460.2 156.0,460.4 158.6,457.7 158.6,457.6 156.7,455.1 153.8,456.9ZM153.8,489.3 155.1,492.0 158.5,491.0 159.3,489.5 157.9,487.3 154.0,488.9ZM154.2,443.9 156.0,445.1 157.5,444.3 157.9,443.0 156.3,440.7 154.5,441.1ZM153.8,479.1 152.5,481.4 155.7,483.7 155.9,483.7 157.4,480.8 157.2,480.5 154.3,479.0ZM154.3,479.0 157.2,480.5 157.9,477.4 156.4,475.6 156.3,475.7ZM154.5,463.8 155.7,466.5 155.7,466.5 159.1,465.5 158.0,462.7 156.4,461.7ZM154.1,471.3 156.7,474.7 157.7,474.2 159.5,470.6 159.1,469.9 156.6,469.7 154.1,471.2ZM156.4,449.1 159.7,449.3 160.9,446.9 157.5,444.3 156.0,445.1 155.6,447.3ZM154.4,451.6 156.7,454.1 160.6,452.4 161.0,451.7 159.7,449.3 156.4,449.1ZM155.7,466.5 156.6,469.7 159.1,469.9 160.1,467.5 159.4,465.7 159.1,465.5ZM155.2,498.5 157.4,499.9 159.8,498.2 157.6,495.7 156.3,495.6ZM158.6,457.6 160.9,455.7 160.6,452.4 156.7,454.1 156.7,455.1ZM155.9,483.7 158.1,485.6 161.0,484.4 161.2,483.9 159.6,481.0 157.4,480.8ZM156.4,461.7 158.0,462.7 160.8,461.2 161.1,459.8 158.6,457.7 156.0,460.4ZM156.4,475.6 157.9,477.4 160.5,477.6 161.6,475.9 161.4,475.3 157.7,474.2 156.7,474.7ZM157.4,480.8 159.6,481.0 160.8,479.4 160.5,477.6 157.9,477.4 157.2,480.5ZM157.9,487.3 159.3,489.5 161.9,489.4 162.9,487.5 161.0,484.4 158.1,485.6ZM158.5,491.0 159.7,493.7 162.3,494.1 163.0,491.0 161.9,489.4 159.3,489.5ZM159.8,498.2 160.6,498.4 162.5,495.8 162.5,494.5 162.3,494.1 159.7,493.7 157.6,495.7ZM160.8,479.4 163.4,480.0 164.5,479.5 163.1,476.3 161.6,475.9 160.5,477.6ZM160.6,452.4 160.9,455.7 163.1,456.6 163.9,455.9 165.2,454.9 166.1,454.2 161.3,451.7 161.0,451.7ZM159.1,465.5 159.4,465.7 162.6,463.7 162.7,463.2 160.8,461.2 158.0,462.7ZM162.2,502.9 162.9,505.1 163.0,505.3 165.7,505.8 167.6,505.1 168.2,502.7 167.4,500.9 165.7,499.9 162.6,501.7ZM157.7,474.2 161.4,475.3 162.1,472.0 159.5,470.6ZM158.6,457.7 161.1,459.8 162.8,459.1 161.5,458.3 162.7,457.0 163.1,456.6 160.9,455.7 158.6,457.6ZM161.2,483.9 162.5,483.2 163.4,480.0 160.8,479.4 159.6,481.0ZM159.5,470.6 162.1,472.0 163.1,471.7 163.9,470.1 162.8,467.6 160.1,467.5 159.1,469.9ZM162.6,501.7 165.7,499.9 165.9,498.4 162.5,495.8 160.6,498.4ZM161.0,484.4 162.9,487.5 163.9,487.3 165.9,484.0 162.5,483.2 161.2,483.9ZM160.8,461.2 162.7,463.2 164.0,462.3 164.3,459.9 163.5,459.5 162.8,459.1 161.1,459.8ZM160.1,467.5 162.8,467.6 164.4,466.1 162.6,463.7 159.4,465.7ZM161.4,475.3 161.6,475.9 163.1,476.3 164.6,475.5 165.0,473.0 163.1,471.7 162.1,472.0ZM163.9,470.1 166.5,469.2 165.3,466.1 164.4,466.1 162.8,467.6ZM164.0,462.3 167.3,463.3 167.6,462.3 167.4,462.1 166.6,460.6 165.0,460.2 164.3,459.9ZM162.6,463.7 164.4,466.1 165.3,466.1 167.6,464.4 167.3,463.3 164.0,462.3 162.7,463.2ZM166.1,454.2 166.7,453.7 167.3,451.9 167.4,451.8 164.7,449.3 161.3,451.7ZM164.5,479.5 166.6,479.8 166.9,479.5 167.3,476.7 164.6,475.5 163.1,476.3ZM162.5,495.8 165.9,498.4 166.4,497.8 166.0,494.3 162.5,494.5ZM163.1,471.7 165.0,473.0 167.1,472.7 167.9,471.1 167.4,469.6 166.5,469.2 163.9,470.1ZM175.8,449.0 175.5,448.9 173.9,449.0 173.6,449.8 173.9,451.9 173.9,453.7 173.4,455.4 175.1,454.6 176.5,453.4 177.2,452.7ZM166.5,469.2 167.4,469.6 168.8,468.2 167.8,464.5 167.6,464.4 165.3,466.1ZM167.0,491.9 170.9,489.9 171.1,488.8 167.8,487.5 166.2,488.5 165.9,490.9ZM166.0,494.3 166.4,497.8 169.9,496.7 170.5,495.5 167.0,493.4ZM167.0,483.7 167.8,487.5 171.1,488.8 171.6,488.4 171.5,484.8 169.2,483.3 167.4,483.1ZM165.0,473.0 164.6,475.5 167.3,476.7 168.5,475.4 167.1,472.7ZM165.9,498.4 165.7,499.9 167.4,500.9 170.4,499.4 169.9,496.7 166.4,497.8ZM171.7,462.1 175.5,462.6 175.7,461.0 174.5,461.1 171.4,460.6 171.1,460.9ZM166.6,479.8 167.4,483.1 169.2,483.3 171.9,480.1 171.5,479.1 166.9,479.5ZM167.1,472.7 168.5,475.4 168.7,475.4 170.6,474.1 169.6,473.3 170.0,471.4 167.9,471.1ZM166.9,510.1 169.3,509.1 169.0,505.9 167.6,505.1 165.7,505.8ZM167.8,464.5 170.7,464.6 171.7,462.1 171.1,460.9 170.2,462.0 168.8,463.2 167.6,462.3 167.3,463.3 167.6,464.4ZM170.5,495.5 170.7,495.4 172.0,492.6 170.9,489.9 167.0,491.9 167.0,493.4ZM167.3,476.7 166.9,479.5 171.5,479.1 171.7,477.8 168.7,475.4 168.5,475.4ZM167.6,505.1 169.0,505.9 171.5,505.6 173.2,503.1 172.8,502.2 168.2,502.7ZM168.2,502.7 172.8,502.2 172.7,501.0 170.4,499.4 167.4,500.9ZM167.4,469.6 167.9,471.1 170.0,471.4 170.1,471.1 170.6,469.4 171.6,468.3 171.4,468.2 168.8,468.2ZM169.9,496.7 170.4,499.4 172.7,501.0 174.1,499.2 174.3,497.2 170.7,495.4 170.5,495.5ZM171.1,488.8 170.9,489.9 172.0,492.6 175.7,492.8 176.2,490.8 174.4,488.2 171.6,488.4ZM168.8,468.2 171.4,468.2 171.3,465.2 170.7,464.6 167.8,464.5ZM168.7,475.4 171.7,477.8 173.7,476.2 171.4,474.6 170.6,474.1ZM169.2,483.3 171.5,484.8 173.4,483.6 174.0,481.4 174.0,481.3 171.9,480.1ZM171.6,488.4 174.4,488.2 176.3,486.0 173.4,483.6 171.5,484.8ZM171.3,465.2 174.8,465.0 175.4,464.2 176.0,464.0 175.5,462.6 171.7,462.1 170.7,464.6ZM171.9,480.1 174.0,481.3 175.6,479.2 175.3,478.0 174.0,476.4 173.7,476.2 171.7,477.8 171.5,479.1ZM171.4,468.2 171.6,468.3 171.8,468.1 174.0,465.9 174.8,465.0 171.3,465.2ZM169.3,509.1 170.7,509.7 172.6,508.1 171.5,505.6 169.0,505.9ZM173.2,503.1 175.2,503.9 178.2,500.7 178.0,500.4 174.1,499.2 172.7,501.0 172.8,502.2ZM172.6,508.1 174.9,508.6 176.0,505.0 175.2,503.9 173.2,503.1 171.5,505.6ZM170.7,495.4 174.3,497.2 177.1,495.2 177.1,494.9 175.7,492.8 172.0,492.6ZM172.0,447.7 172.4,447.3 174.4,447.8 173.9,449.0 175.5,448.9 176.0,445.2 175.2,443.9 172.7,443.6 171.3,446.5ZM176.0,464.0 177.5,463.3 179.3,461.5 177.7,461.3 176.1,461.0 175.7,461.0 175.5,462.6ZM174.3,497.2 174.1,499.2 178.0,500.4 178.5,496.6 177.1,495.2ZM174.0,481.3 174.0,481.4 177.9,482.8 177.3,481.2 175.8,479.9 175.6,479.2ZM173.4,483.6 176.3,486.0 177.2,485.8 178.0,483.0 178.0,483.0 177.9,482.8 174.0,481.4ZM174.4,488.2 176.2,490.8 181.0,488.7 177.2,485.8 176.3,486.0ZM176.0,505.0 174.9,508.6 176.1,510.5 176.9,510.8 177.4,508.9 178.6,507.2 179.4,505.6ZM175.2,443.9 176.0,445.2 178.9,443.9 179.7,441.4 177.1,440.5 176.0,440.7ZM176.0,505.0 179.4,505.6 179.5,505.5 179.7,503.5 180.1,501.7 180.2,501.6 178.2,500.7 175.2,503.9ZM175.7,492.8 177.1,494.9 181.6,491.5 180.6,490.9 181.5,488.8 181.0,488.7 176.2,490.8ZM176.8,425.0 183.6,425.8 183.9,421.4 182.5,420.0 178.6,420.5 176.5,424.3ZM178.5,496.6 178.0,500.4 178.2,500.7 180.2,501.6 181.6,500.1 182.3,498.0 182.2,497.0ZM175.5,448.9 175.8,449.0 180.2,447.9 181.0,447.0 178.9,443.9 176.0,445.2ZM177.1,494.9 177.1,495.2 178.5,496.6 182.2,497.0 181.9,495.2 182.8,492.2 181.6,491.5ZM177.2,485.8 181.0,488.7 181.5,488.8 181.5,488.7 180.6,486.0 179.6,484.2 178.0,483.0ZM175.8,449.0 177.2,452.7 178.2,451.8 180.0,450.3 181.1,450.1 180.2,447.9ZM182.5,420.0 183.9,421.4 188.3,419.8 189.6,417.4 182.6,413.1ZM183.7,426.0 191.0,426.6 191.2,426.2 188.3,419.8 183.9,421.4 183.6,425.8Z" fill="#d31219" stroke="#de4848" stroke-width="0.3" stroke-linejoin="round"/>
<g clip-path="url(#chinaclip)">
<polygon points="50.0,420.0 58.0,417.0 66.0,419.0 66.0,436.0 52.0,436.0" fill="#f5bfa2" stroke="#e6b9a3" stroke-width="0.35" stroke-linejoin="round"/>
<polygon points="59.6,428.0 70.0,427.0 77.2,429.0 77.2,436.5 59.6,436.5" fill="#f5bfa2" stroke="#e6b9a3" stroke-width="0.35" stroke-linejoin="round"/>
<polygon points="33.4,435.0 41.0,435.0 46.5,435.5 52.3,436.0 52.3,448.2 46.5,448.2 33.4,448.2" fill="#ec8e70" stroke="#f3b8a2" stroke-width="0.35" stroke-linejoin="round"/>
<polygon points="46.5,435.5 52.3,436.0 56.7,436.5 65.5,436.5 65.5,448.2 80.0,448.2 80.0,455.0 74.0,461.0 68.0,464.0 62.0,468.6 52.0,468.0 46.5,466.0 46.5,448.2" fill="#f5bfa2" stroke="#e6b9a3" stroke-width="0.35" stroke-linejoin="round"/>
<polygon points="43.6,424.8 56.7,434.3 41.4,435.0" fill="#ec8e70" stroke="#f3b8a2" stroke-width="0.35" stroke-linejoin="round"/>
<polygon points="16.7,441.5 19.6,440.2 27.0,440.8 35.7,441.5 33.0,446.0 30.5,450.2 24.0,452.4 23.2,459.5 19.0,455.0 16.7,450.9 14.5,446.0" fill="#e04c3c" stroke="#ec8272" stroke-width="0.35" stroke-linejoin="round"/>
<polygon points="78.6,438.0 93.0,441.9 99.0,443.4 110.0,444.1 118.8,445.6 125.0,446.0 125.0,452.0 116.0,456.0 108.0,459.0 98.0,461.3 86.0,461.3 80.0,458.0" fill="#f5bfa2" stroke="#e6b9a3" stroke-width="0.35" stroke-linejoin="round"/>
<polygon points="59.0,431.0 68.0,431.0 68.0,435.5 59.0,435.5" fill="#ec8e70" stroke="#f3b8a2" stroke-width="0.35" stroke-linejoin="round"/>
</g>
<polygon points="14.4,440.5 15.2,438.8 16.6,437.6 18.2,437.6 19.8,437.4 21.4,437.1 23.0,436.6 24.6,436.8 26.4,436.8 28.2,436.6 29.9,436.0 31.6,435.7 33.4,435.4 34.7,434.4 36.1,433.4 37.7,433.1 39.3,432.5 40.7,431.7 40.6,429.8 41.7,428.1 41.5,426.2 42.1,424.4 43.7,423.6 45.2,422.8 47.2,423.3 48.7,422.2 50.2,420.9 51.6,419.6 52.6,417.9 53.8,416.4 55.3,415.5 57.1,415.5 58.7,415.3 60.4,414.9 61.6,413.2 63.3,412.0 65.7,411.7 67.7,410.5 69.6,411.9 71.3,413.5 73.0,415.1 74.2,417.1 74.9,418.8 76.5,419.8 77.2,421.5 76.7,423.3 77.3,425.1 77.1,427.0 77.2,428.8 79.0,429.2 80.7,429.9 82.5,430.2 84.3,430.6 85.9,431.7 86.7,433.4 88.3,434.5 89.0,436.3 90.3,437.6 91.5,438.9 91.8,440.8 93.2,441.9 95.1,442.8 97.1,443.2 99.1,443.4 100.9,443.8 102.7,443.7 104.5,444.0 106.4,443.5 108.2,444.0 110.0,444.1 111.7,444.8 113.6,444.4 115.2,445.5 117.0,445.7 118.8,445.6 120.5,445.1 122.2,444.6 124.0,444.2 125.7,443.7 127.5,443.4 129.7,443.2 131.4,441.8 133.4,441.2 134.3,439.6 135.6,438.3 137.4,437.5 138.5,436.1 139.4,434.4 139.2,432.4 140.6,431.5 142.1,430.6 143.6,429.7 145.0,428.8 146.9,428.5 148.6,427.4 150.5,427.3 152.3,426.6 153.8,425.9 155.3,425.3 156.5,424.1 158.0,423.4 159.6,423.0 161.3,421.4 163.3,420.0 161.5,419.4 159.6,419.9 157.8,419.5 156.0,419.7 154.1,419.9 152.3,419.3 150.8,418.1 150.1,416.4 150.9,414.8 151.4,413.1 151.6,411.3 153.3,410.9 155.0,411.0 156.7,410.5 157.8,409.2 158.9,407.8 159.9,406.4 160.4,404.7 160.0,402.8 160.4,400.8 159.6,398.9 159.7,397.0 158.9,395.2 160.6,394.6 162.5,394.1 164.0,393.0 165.8,392.8 167.6,392.5 169.4,392.2 171.3,392.3 173.0,393.4 175.0,393.8 176.1,395.1 176.9,396.5 177.2,398.1 178.4,399.8 179.9,401.2 181.5,402.5 183.0,403.5 184.2,404.7 185.9,405.4 188.0,405.4 189.9,406.1 191.8,406.9 193.7,406.4 195.7,406.3 197.6,406.2 199.4,405.1 201.3,404.3 203.4,404.0 204.9,405.4 204.8,407.4 204.0,409.3 204.2,411.3 203.0,412.8 202.5,414.6 202.0,416.4 201.3,418.6 200.5,420.8 200.6,422.5 199.6,424.0 199.9,425.7 199.8,427.3 198.7,428.6 198.4,430.5 197.3,431.9 196.1,433.2 194.5,433.9 193.1,434.9 191.8,436.1 189.9,437.6 188.7,439.6 187.6,441.4 186.8,443.4 185.7,445.2 184.8,446.5 183.6,447.7 183.1,449.3 181.6,450.0 180.0,450.3 178.2,451.8 176.5,453.4 175.1,454.6 173.4,455.4 173.9,453.7 173.9,451.9 173.6,449.8 174.4,447.8 172.4,447.3 171.2,448.4 170.3,449.8 168.5,450.4 167.3,451.9 166.7,453.7 165.2,454.9 163.9,455.9 162.7,457.0 161.5,458.3 163.5,459.5 165.0,460.2 166.6,460.6 167.4,462.1 168.8,463.2 170.2,462.0 171.4,460.6 174.5,461.1 176.1,461.0 177.7,461.3 179.3,461.5 177.5,463.3 175.4,464.2 174.0,465.9 171.8,468.1 170.6,469.4 170.1,471.1 169.6,473.3 171.4,474.6 174.0,476.4 175.3,478.0 175.8,479.9 177.3,481.2 178.0,483.0 179.6,484.2 180.6,486.0 181.5,488.7 180.6,490.9 182.8,492.2 181.9,495.2 182.3,498.0 181.6,500.1 180.1,501.7 179.7,503.5 179.5,505.5 178.6,507.2 177.4,508.9 176.8,510.9 176.2,512.8 175.5,514.5 174.1,515.7 173.2,517.3 172.0,518.6 170.8,519.9 169.7,521.5 168.5,522.8 167.0,523.9 165.6,525.2 163.8,526.0 162.0,526.6 160.5,527.8 159.0,528.2 157.6,529.2 155.9,529.2 153.9,529.7 151.9,530.3 150.1,531.4 148.0,531.9 146.1,532.6 144.2,533.6 143.1,535.4 141.3,536.5 139.1,538.0 138.7,536.2 138.4,534.3 136.4,534.5 134.6,533.5 132.6,533.6 130.5,533.2 128.7,531.9 126.7,531.4 125.1,530.9 123.9,529.7 122.3,529.2 120.6,529.5 118.9,530.0 117.1,529.7 115.4,530.0 113.6,529.9 111.5,530.2 109.7,531.6 107.7,532.1 107.0,533.5 106.3,535.0 104.1,534.2 101.9,533.6 100.7,532.4 98.8,532.5 97.6,531.3 96.1,530.7 95.6,529.0 95.3,527.2 94.6,525.5 93.5,523.7 91.5,522.8 90.2,521.2 90.7,519.5 90.8,517.8 91.0,516.1 91.8,514.3 92.0,512.3 93.5,510.8 93.9,508.8 93.0,507.3 91.2,506.7 89.9,505.7 88.8,504.4 86.8,504.2 85.0,505.5 83.0,505.4 81.2,506.3 79.2,506.8 77.2,506.8 75.2,506.7 73.2,507.1 71.3,507.6 69.3,506.9 67.5,506.0 65.5,505.4 63.6,505.5 61.9,504.5 60.0,504.3 58.2,503.9 56.7,503.2 55.2,502.6 53.8,501.8 52.2,501.3 50.9,500.3 49.1,499.5 47.9,498.0 46.3,497.0 45.2,495.4 43.6,494.4 42.4,493.0 40.8,491.9 39.2,491.0 37.6,490.0 36.3,488.6 34.8,487.8 33.4,486.9 32.0,485.8 30.7,484.6 29.0,484.2 27.6,483.2 26.8,481.7 25.7,480.4 24.6,479.1 24.5,477.4 24.3,475.7 23.8,474.1 23.1,472.5 23.5,470.8 24.0,469.1 24.2,467.3 24.7,465.6 24.6,463.8 24.1,461.6 23.1,459.5 22.2,457.9 20.7,456.7 20.2,454.8 18.8,453.6 17.9,451.8 17.4,449.9 16.9,448.0 15.8,446.3 15.8,444.2 15.4,442.3" fill="none" stroke="#35323f" stroke-width="0.6" stroke-linejoin="round"/>
<ellipse cx="138.6" cy="544.3" rx="5.0" ry="4.2" fill="#e9e9e9" stroke="#6a6a6a" stroke-width="0.6"/>
<path d="M135,543 L141,541 M135,546 L142,544 M137,548 L142,546" stroke="#9a9a9a" stroke-width="0.4"/>
<path d="M185.6,512.6 C186.6,514.5 185.8,519 184.6,522.5 C183.8,525 183.4,527.4 182.6,527.2 C180.8,525.5 179.6,523 180.2,520 C180.9,516.5 183.0,513.2 185.6,512.6Z" fill="#fff" stroke="#555" stroke-width="0.6"/>
<line x1="189.4" y1="515.2" x2="189.0" y2="519.0" stroke="#b0aae8" stroke-width="2.4" filter="url(#blur1)"/>
<line x1="189.4" y1="515.2" x2="189.0" y2="519.0" stroke="#8680cc" stroke-width="1.1"/>
<line x1="185.1" y1="530.1" x2="186.9" y2="533.3" stroke="#b0aae8" stroke-width="2.4" filter="url(#blur1)"/>
<line x1="185.1" y1="530.1" x2="186.9" y2="533.3" stroke="#8680cc" stroke-width="1.1"/>
<line x1="179.2" y1="542.6" x2="180.2" y2="546.2" stroke="#b0aae8" stroke-width="2.4" filter="url(#blur1)"/>
<line x1="179.2" y1="542.6" x2="180.2" y2="546.2" stroke="#8680cc" stroke-width="1.1"/>
<line x1="178.4" y1="555.9" x2="178.4" y2="559.7" stroke="#b0aae8" stroke-width="2.4" filter="url(#blur1)"/>
<line x1="178.4" y1="555.9" x2="178.4" y2="559.7" stroke="#8680cc" stroke-width="1.1"/>
<line x1="178.2" y1="573.7" x2="179.2" y2="577.3" stroke="#b0aae8" stroke-width="2.4" filter="url(#blur1)"/>
<line x1="178.2" y1="573.7" x2="179.2" y2="577.3" stroke="#8680cc" stroke-width="1.1"/>
<line x1="164.8" y1="592.8" x2="167.8" y2="595.2" stroke="#b0aae8" stroke-width="2.4" filter="url(#blur1)"/>
<line x1="164.8" y1="592.8" x2="167.8" y2="595.2" stroke="#8680cc" stroke-width="1.1"/>
<line x1="150.5" y1="611.2" x2="154.3" y2="611.8" stroke="#b0aae8" stroke-width="2.4" filter="url(#blur1)"/>
<line x1="150.5" y1="611.2" x2="154.3" y2="611.8" stroke="#8680cc" stroke-width="1.1"/>
<line x1="132.6" y1="597.1" x2="132.0" y2="600.9" stroke="#b0aae8" stroke-width="2.4" filter="url(#blur1)"/>
<line x1="132.6" y1="597.1" x2="132.0" y2="600.9" stroke="#8680cc" stroke-width="1.1"/>
<line x1="141.0" y1="574.0" x2="141.0" y2="577.8" stroke="#b0aae8" stroke-width="2.4" filter="url(#blur1)"/>
<line x1="141.0" y1="574.0" x2="141.0" y2="577.8" stroke="#8680cc" stroke-width="1.1"/>
<line x1="138.9" y1="558.1" x2="136.7" y2="561.3" stroke="#b0aae8" stroke-width="2.4" filter="url(#blur1)"/>
<line x1="138.9" y1="558.1" x2="136.7" y2="561.3" stroke="#8680cc" stroke-width="1.1"/>
<rect x="163.6" y="534.5" width="0.9" height="0.9" fill="#666"/>
<rect x="167.0" y="535.6" width="0.9" height="0.9" fill="#666"/>
<rect x="191.5" y="508.5" width="0.9" height="0.9" fill="#666"/>
<rect x="194.8" y="507.8" width="0.9" height="0.9" fill="#666"/>
<rect x="173.3" y="559.7" width="0.9" height="0.9" fill="#666"/>
<rect x="176.3" y="556.0" width="0.9" height="0.9" fill="#666"/>
<rect x="180.0" y="526.0" width="0.9" height="0.9" fill="#666"/>
<rect x="181.0" y="510.5" width="0.9" height="0.9" fill="#666"/>
<rect x="150.9" y="553.9" width="0.9" height="0.9" fill="#666"/>
<rect x="155.8" y="553.4" width="0.9" height="0.9" fill="#666"/>
<rect x="154.0" y="555.2" width="0.9" height="0.9" fill="#666"/>
<rect x="146.9" y="556.0" width="0.9" height="0.9" fill="#666"/>
<rect x="146.6" y="555.6" width="0.9" height="0.9" fill="#666"/>
<rect x="147.0" y="553.5" width="0.9" height="0.9" fill="#666"/>
<rect x="152.4" y="558.0" width="0.9" height="0.9" fill="#666"/>
<rect x="147.9" y="554.3" width="0.9" height="0.9" fill="#666"/>
<rect x="155.4" y="558.7" width="0.9" height="0.9" fill="#666"/>
<rect x="154.7" y="555.4" width="0.9" height="0.9" fill="#666"/>
<rect x="160.6" y="553.3" width="0.9" height="0.9" fill="#666"/>
<rect x="158.9" y="554.7" width="0.9" height="0.9" fill="#666"/>
<rect x="164.3" y="575.5" width="0.9" height="0.9" fill="#666"/>
<rect x="146.8" y="598.6" width="0.9" height="0.9" fill="#666"/>
<rect x="153.5" y="592.7" width="0.9" height="0.9" fill="#666"/>
<rect x="165.9" y="572.2" width="0.9" height="0.9" fill="#666"/>
<rect x="152.9" y="592.7" width="0.9" height="0.9" fill="#666"/>
<rect x="155.7" y="589.5" width="0.9" height="0.9" fill="#666"/>
<rect x="152.5" y="595.9" width="0.9" height="0.9" fill="#666"/>
<rect x="156.7" y="592.6" width="0.9" height="0.9" fill="#666"/>
<rect x="150.2" y="598.2" width="0.9" height="0.9" fill="#666"/>
<rect x="168.0" y="577.3" width="0.9" height="0.9" fill="#666"/>
<rect x="167.8" y="574.1" width="0.9" height="0.9" fill="#666"/>
<rect x="156.6" y="593.8" width="0.9" height="0.9" fill="#666"/>
<rect x="146.5" y="601.2" width="0.9" height="0.9" fill="#666"/>
<rect x="156.8" y="590.8" width="0.9" height="0.9" fill="#666"/>
<rect x="153.8" y="598.7" width="0.9" height="0.9" fill="#666"/>
<rect x="149.7" y="594.5" width="0.9" height="0.9" fill="#666"/>
<rect x="159.5" y="594.6" width="0.9" height="0.9" fill="#666"/>
<rect x="163.2" y="582.1" width="0.9" height="0.9" fill="#666"/>
<rect x="171.0" y="570.7" width="0.9" height="0.9" fill="#666"/>
<rect x="164.4" y="577.4" width="0.9" height="0.9" fill="#666"/>
<rect x="166.0" y="575.5" width="0.9" height="0.9" fill="#666"/>
<rect x="144.3" y="599.6" width="0.9" height="0.9" fill="#666"/>
<rect x="161.0" y="591.5" width="0.9" height="0.9" fill="#666"/>
<rect x="146.5" y="599.1" width="0.9" height="0.9" fill="#666"/>
<rect x="166.2" y="586.2" width="0.9" height="0.9" fill="#666"/>
<rect x="164.7" y="575.2" width="0.9" height="0.9" fill="#666"/>
<rect x="165.5" y="580.0" width="0.9" height="0.9" fill="#666"/>
<rect x="159.9" y="579.9" width="0.9" height="0.9" fill="#666"/>
<rect x="162.7" y="586.5" width="0.9" height="0.9" fill="#666"/>
<rect x="153.5" y="594.8" width="0.9" height="0.9" fill="#666"/>
<rect x="149.3" y="596.0" width="0.9" height="0.9" fill="#666"/>
<rect x="154.7" y="598.7" width="0.9" height="0.9" fill="#666"/>
<rect x="160.4" y="582.2" width="0.9" height="0.9" fill="#666"/>
<rect x="150.5" y="589.7" width="0.9" height="0.9" fill="#666"/>
</g>
<g transform="translate(463.40,-3.50)">
<polyline points="123.9,529.7 122.3,529.2 120.6,529.5 118.9,530.0 117.1,529.7 115.4,530.0 113.6,529.9 111.5,530.2 109.7,531.6 107.7,532.1 107.0,533.5 106.3,535.0 104.1,534.2 101.9,533.6 100.7,532.4 98.8,532.5 97.6,531.3 96.1,530.7 95.6,529.0 95.3,527.2 94.6,525.5 93.5,523.7 91.5,522.8 90.2,521.2 90.7,519.5 90.8,517.8 91.0,516.1 91.8,514.3 92.0,512.3 93.5,510.8 93.9,508.8 93.0,507.3 91.2,506.7 89.9,505.7 88.8,504.4 86.8,504.2 85.0,505.5 83.0,505.4 81.2,506.3 79.2,506.8 77.2,506.8 75.2,506.7 73.2,507.1 71.3,507.6 69.3,506.9 67.5,506.0 65.5,505.4 63.6,505.5 61.9,504.5 60.0,504.3 58.2,503.9 56.7,503.2 55.2,502.6 53.8,501.8 52.2,501.3 50.9,500.3 49.1,499.5 47.9,498.0 46.3,497.0 45.2,495.4 43.6,494.4 42.4,493.0 40.8,491.9 39.2,491.0 37.6,490.0 36.3,488.6 34.8,487.8 33.4,486.9 32.0,485.8 30.7,484.6 29.0,484.2 27.6,483.2 26.8,481.7 25.7,480.4 24.6,479.1 24.5,477.4 24.3,475.7 23.8,474.1 23.1,472.5 23.5,470.8 24.0,469.1 24.2,467.3 24.7,465.6 24.6,463.8 24.1,461.6 23.1,459.5 22.2,457.9 20.7,456.7 20.2,454.8 18.8,453.6 17.9,451.8 17.4,449.9 16.9,448.0 15.8,446.3 15.8,444.2 15.4,442.3 14.4,440.5 15.2,438.8 16.6,437.6 18.2,437.6 19.8,437.4 21.4,437.1 23.0,436.6 24.6,436.8 26.4,436.8 28.2,436.6 29.9,436.0 31.6,435.7 33.4,435.4 34.7,434.4 36.1,433.4 37.7,433.1 39.3,432.5 40.7,431.7 40.6,429.8 41.7,428.1 41.5,426.2 42.1,424.4 43.7,423.6 45.2,422.8 47.2,423.3 48.7,422.2 50.2,420.9 51.6,419.6 52.6,417.9 53.8,416.4 55.3,415.5 57.1,415.5 58.7,415.3 60.4,414.9 61.6,413.2 63.3,412.0 65.7,411.7 67.7,410.5 69.6,411.9 71.3,413.5 73.0,415.1 74.2,417.1 74.9,418.8 76.5,419.8 77.2,421.5 76.7,423.3 77.3,425.1 77.1,427.0 77.2,428.8 79.0,429.2 80.7,429.9 82.5,430.2 84.3,430.6 85.9,431.7 86.7,433.4 88.3,434.5 89.0,436.3 90.3,437.6 91.5,438.9 91.8,440.8 93.2,441.9 95.1,442.8 97.1,443.2 99.1,443.4 100.9,443.8 102.7,443.7 104.5,444.0 106.4,443.5 108.2,444.0 110.0,444.1 111.7,444.8 113.6,444.4 115.2,445.5 117.0,445.7 118.8,445.6 120.5,445.1 122.2,444.6 124.0,444.2 125.7,443.7 127.5,443.4 129.7,443.2 131.4,441.8 133.4,441.2 134.3,439.6 135.6,438.3 137.4,437.5 138.5,436.1 139.4,434.4 139.2,432.4 140.6,431.5 142.1,430.6 143.6,429.7 145.0,428.8 146.9,428.5 148.6,427.4 150.5,427.3 152.3,426.6 153.8,425.9 155.3,425.3 156.5,424.1 158.0,423.4 159.6,423.0 161.3,421.4 163.3,420.0 161.5,419.4 159.6,419.9 157.8,419.5 156.0,419.7 154.1,419.9 152.3,419.3 150.8,418.1 150.1,416.4 150.9,414.8 151.4,413.1 151.6,411.3 153.3,410.9 155.0,411.0 156.7,410.5 157.8,409.2 158.9,407.8 159.9,406.4 160.4,404.7 160.0,402.8 160.4,400.8 159.6,398.9 159.7,397.0 158.9,395.2 160.6,394.6 162.5,394.1 164.0,393.0 165.8,392.8 167.6,392.5 169.4,392.2 171.3,392.3 173.0,393.4 175.0,393.8 176.1,395.1 176.9,396.5 177.2,398.1 178.4,399.8 179.9,401.2 181.5,402.5 183.0,403.5 184.2,404.7 185.9,405.4 188.0,405.4 189.9,406.1 191.8,406.9 193.7,406.4 195.7,406.3 197.6,406.2 199.4,405.1 201.3,404.3 203.4,404.0 204.9,405.4 204.8,407.4 204.0,409.3 204.2,411.3 203.0,412.8 202.5,414.6 202.0,416.4 201.3,418.6 200.5,420.8 200.6,422.5 199.6,424.0 199.9,425.7 199.8,427.3 198.7,428.6 198.4,430.5 197.3,431.9 196.1,433.2 194.5,433.9 193.1,434.9 191.8,436.1 189.9,437.6 188.7,439.6 187.6,441.4 186.8,443.4 185.7,445.2 184.8,446.5 183.6,447.7 183.1,449.3" fill="none" stroke="#b6aeec" stroke-width="4.0" stroke-linejoin="round" stroke-linecap="round" filter="url(#blur1)"/>
<path d="M26.8,448.8 30.7,438.3 29.8,436.0 28.2,436.6 26.4,436.8 24.6,436.8 23.0,436.6 21.4,437.1 19.8,437.4 18.2,437.6 16.6,437.6 15.2,438.8 14.4,440.5 15.4,442.3 15.8,444.2 15.8,446.3 16.9,448.0 17.4,449.9 17.6,450.5ZM31.3,474.7 30.5,464.9 27.5,461.7 24.2,462.3 24.6,463.8 24.7,465.6 24.2,467.3 24.0,469.1 23.5,470.8 23.1,472.5 23.8,474.1 24.3,475.7 24.5,477.4 24.5,478.2ZM49.1,430.6 54.1,416.2 53.8,416.4 52.6,417.9 51.6,419.6 50.2,420.9 48.7,422.2 47.2,423.3 45.2,422.8 43.7,423.6 42.1,424.4 41.5,426.2 41.7,428.1 41.4,428.5ZM27.5,461.7 29.3,453.3 26.8,448.8 17.6,450.5 17.9,451.8 18.8,453.6 20.2,454.8 20.7,456.7 22.2,457.9 23.1,459.5 24.1,461.6 24.2,462.3ZM27.5,461.7 30.5,464.9 41.5,461.3 43.1,458.0 40.1,454.7 29.3,453.3ZM43.9,480.7 44.3,478.4 44.1,478.2 31.3,474.7 24.5,478.2 24.6,479.1 25.7,480.4 26.8,481.7 27.6,483.2 29.0,484.2 30.7,484.6 32.0,485.8 33.4,486.9 34.8,487.8 36.3,488.6 36.7,489.0ZM44.3,478.4 49.9,476.7 55.9,469.6 55.1,461.4 47.2,457.4 43.1,458.0 41.5,461.3 44.1,478.2ZM30.5,464.9 31.3,474.7 44.1,478.2 41.5,461.3ZM29.3,453.3 40.1,454.7 40.5,442.4 30.7,438.3 26.8,448.8ZM40.1,454.7 43.1,458.0 47.2,457.4 53.2,441.0 52.4,439.9 40.5,442.4ZM52.4,439.9 52.5,438.7 49.1,430.6 41.4,428.5 40.6,429.8 40.7,431.7 39.3,432.5 37.7,433.1 36.1,433.4 34.7,434.4 33.4,435.4 31.6,435.7 29.9,436.0 29.8,436.0 30.7,438.3 40.5,442.4ZM52.0,498.8 43.9,480.7 36.7,489.0 37.6,490.0 39.2,491.0 40.8,491.9 42.4,493.0 43.6,494.4 45.2,495.4 46.3,497.0 47.9,498.0 49.1,499.5 50.9,500.3 51.5,500.7ZM44.3,478.4 43.9,480.7 52.0,498.8 61.1,490.5 61.3,485.1 49.9,476.7ZM64.9,427.8 69.9,429.5 77.2,426.7 77.3,425.1 76.7,423.3 77.2,421.5 76.5,419.8 74.9,418.8 74.2,417.1 73.0,415.1 71.3,413.5 69.6,411.9 67.7,410.5 65.7,411.7 63.3,412.0 61.6,413.2 60.4,414.9 58.7,415.3 57.1,415.5ZM55.1,461.4 55.6,460.9 60.8,448.4 59.9,444.8 53.2,441.0 47.2,457.4ZM52.4,439.9 53.2,441.0 59.9,444.8 68.7,441.4 69.9,429.5 64.9,427.8 52.5,438.7ZM51.5,500.7 52.2,501.3 53.8,501.8 55.2,502.6 56.7,503.2 58.2,503.9 60.0,504.3 61.9,504.5 63.6,505.5 65.5,505.4 67.4,506.0 69.4,497.3 67.8,493.8 61.1,490.5 52.0,498.8ZM55.1,461.4 55.9,469.6 62.7,470.7 69.2,465.4 69.6,460.2 69.3,459.5 55.6,460.9ZM49.9,476.7 61.3,485.1 67.4,480.8 68.3,478.5 62.7,470.7 55.9,469.6ZM52.5,438.7 64.9,427.8 57.1,415.5 57.1,415.5 55.3,415.5 54.1,416.2 49.1,430.6ZM61.3,485.1 61.1,490.5 67.8,493.8 74.2,487.7 67.4,480.8ZM55.6,460.9 69.3,459.5 69.7,456.0 60.8,448.4ZM59.9,444.8 60.8,448.4 69.7,456.0 75.3,451.0 72.9,443.5 68.7,441.4ZM69.4,497.3 84.3,496.1 77.6,487.9 74.2,487.7 67.8,493.8ZM68.3,478.5 77.4,474.1 77.7,473.2 69.2,465.4 62.7,470.7ZM74.2,487.7 77.6,487.9 80.4,479.5 77.4,474.1 68.3,478.5 67.4,480.8ZM69.6,460.2 79.1,461.9 82.0,457.1 78.1,451.6 75.3,451.0 69.7,456.0 69.3,459.5ZM68.7,441.4 72.9,443.5 86.3,436.4 87.2,433.7 86.7,433.4 85.9,431.7 84.3,430.6 82.5,430.2 80.7,429.9 79.0,429.2 77.2,428.8 77.1,427.0 77.2,426.7 69.9,429.5ZM69.2,465.4 77.7,473.2 81.4,469.4 79.1,461.9 69.6,460.2ZM67.4,506.0 67.5,506.0 69.3,506.9 71.3,507.6 73.2,507.1 75.2,506.7 77.2,506.8 79.2,506.8 81.2,506.3 83.0,505.4 85.0,505.5 85.7,505.0 86.0,503.9 84.7,496.3 84.3,496.1 69.4,497.3ZM84.3,496.1 84.7,496.3 90.5,490.1 90.5,490.1 89.2,481.5 80.4,479.5 77.6,487.9ZM84.7,496.3 86.0,503.9 94.7,502.2 99.1,495.7 91.8,490.5 90.5,490.1ZM80.4,479.5 89.2,481.5 92.7,476.9 92.9,476.6 92.8,476.5 84.2,469.1 81.4,469.4 77.7,473.2 77.4,474.1ZM86.3,436.4 72.9,443.5 75.3,451.0 78.1,451.6 87.2,444.7ZM81.4,469.4 84.2,469.1 90.5,463.3 89.4,457.3 89.3,457.1 82.0,457.1 79.1,461.9ZM90.5,490.1 98.9,483.8 92.7,476.9 89.2,481.5ZM84.2,469.1 92.8,476.5 96.0,470.2 93.2,464.7 90.5,463.3ZM82.0,457.1 89.3,457.1 90.8,449.5 87.2,444.7 78.1,451.6ZM90.5,463.3 93.2,464.7 100.0,461.9 97.7,457.1 89.4,457.3ZM92.7,476.9 98.9,483.8 102.6,484.0 102.8,477.5 92.9,476.6ZM96.0,470.2 99.5,469.8 103.1,466.9 102.1,462.5 100.0,461.9 93.2,464.7ZM90.5,490.1 91.8,490.5 100.2,489.4 103.2,485.2 103.2,484.7 102.6,484.0 98.9,483.8 90.5,490.1ZM92.9,476.6 102.8,477.5 103.5,476.9 103.5,476.6 99.5,469.8 96.0,470.2 92.8,476.5ZM94.7,502.2 97.6,502.8 102.8,501.0 103.9,499.1 101.8,495.6 99.1,495.7ZM91.8,490.5 99.1,495.7 101.8,495.6 102.4,494.0 100.2,489.4ZM103.2,484.7 109.0,482.5 110.4,478.0 110.4,477.9 103.5,476.9 102.8,477.5 102.6,484.0ZM100.2,489.4 102.4,494.0 107.7,490.8 107.9,490.1 103.2,485.2ZM99.5,469.8 103.5,476.6 106.2,471.4 103.6,467.2 103.1,466.9ZM101.8,495.6 103.9,499.1 108.5,499.1 109.4,498.2 109.8,495.5 107.7,490.8 102.4,494.0ZM102.1,462.5 103.1,466.9 103.6,467.2 112.1,465.4 111.3,461.7 104.3,460.4ZM124.0,445.2 126.1,446.3 130.4,446.0 131.7,443.5 130.9,442.2 129.7,443.2 127.5,443.4 125.7,443.7 124.0,444.2 123.8,444.3ZM142.6,432.6 142.1,430.6 142.1,430.6 140.6,431.5 139.2,432.4 139.3,433.9ZM103.2,485.2 107.9,490.1 112.6,487.6 112.5,486.8 109.0,482.5 103.2,484.7ZM103.5,476.9 110.4,477.9 109.7,471.5 106.2,471.4 103.5,476.6ZM110.4,478.0 114.6,478.1 116.1,476.2 114.0,469.2 113.2,468.3 109.7,471.5 110.4,477.9ZM106.2,471.4 109.7,471.5 113.2,468.3 113.0,466.5 112.1,465.4 103.6,467.2ZM115.6,480.5 119.0,482.6 123.0,480.3 122.4,477.9 118.5,475.7 116.1,476.2 114.6,478.1ZM113.1,458.0 119.7,458.0 119.8,452.7 113.4,450.4 112.9,450.5 111.6,454.8ZM116.9,446.5 121.5,449.2 124.0,445.2 123.8,444.3 122.2,444.6 120.5,445.1 118.8,445.6 117.0,445.7 116.9,445.7ZM116.1,476.2 118.5,475.7 120.8,472.1 119.9,470.0 114.0,469.2ZM121.6,450.7 126.0,452.2 127.2,451.9 127.3,451.7 126.1,446.3 124.0,445.2 121.5,449.2ZM127.3,451.7 131.2,449.3 130.4,446.0 126.1,446.3ZM139.5,437.0 138.7,435.8 138.5,436.1 137.4,437.5 135.6,438.3 135.0,438.9 136.5,440.7 138.6,439.6ZM138.6,439.6 140.6,442.0 143.0,441.5 143.1,440.2 141.3,437.3 139.5,437.0ZM142.6,432.6 145.8,434.6 147.1,434.6 147.4,434.5 148.5,430.8 147.5,428.1 146.9,428.5 145.0,428.8 143.6,429.7 142.1,430.6ZM139.5,437.0 141.3,437.3 145.8,434.6 142.6,432.6 139.3,433.9 139.4,434.4 138.7,435.8ZM143.1,440.2 146.8,437.4 147.1,434.6 145.8,434.6 141.3,437.3ZM143.0,441.5 144.0,442.5 146.3,442.4 147.2,438.5 146.8,437.4 143.1,440.2ZM146.3,442.4 147.3,443.0 150.6,441.6 150.8,441.0 147.2,438.5ZM147.2,438.5 150.8,441.0 152.2,439.8 152.5,436.7 147.4,434.5 147.1,434.6 146.8,437.4ZM152.5,436.7 156.8,434.7 157.2,433.1 155.2,430.8 148.5,430.8 147.4,434.5ZM152.5,436.7 152.2,439.8 154.5,441.1 156.3,440.7 158.0,436.9 156.8,434.7ZM148.5,430.8 155.2,430.8 155.1,425.4 153.8,425.9 152.3,426.6 150.5,427.3 148.6,427.4 147.5,428.1ZM155.2,430.8 157.2,433.1 161.8,430.9 159.2,424.5 157.7,423.6 156.5,424.1 155.3,425.3 155.1,425.4ZM157.2,419.6 157.8,419.5 159.6,419.9 161.5,419.4 163.3,420.0 161.3,421.4 159.6,423.0 158.0,423.4 157.7,423.6 159.2,424.5 166.5,423.8 161.4,417.7 159.8,417.2 158.7,417.5ZM161.8,430.9 163.5,431.0 167.7,424.5 167.7,424.3 167.7,424.3 166.5,423.8 159.2,424.5ZM165.8,433.8 172.2,430.5 167.7,424.5 163.5,431.0ZM167.7,424.5 172.2,430.5 174.1,431.3 175.6,430.7 176.8,425.0 176.5,424.3 172.7,422.7 167.7,424.3ZM191.8,429.6 189.0,432.3 190.2,437.4 191.8,436.1 193.1,434.9 194.5,433.9 196.1,433.2 196.8,432.5ZM195.7,418.4 196.9,421.7 200.1,423.3 200.6,422.5 200.5,420.8 201.3,418.6 202.0,416.4 202.5,414.6 202.9,413.2Z" fill="#fde8da" stroke="#c4b3a8" stroke-width="0.3" stroke-linejoin="round"/>
<path d="M168.9,395.5 169.3,392.2 167.6,392.5 165.8,392.8 164.0,393.0 162.5,394.1 160.6,394.6 158.9,395.2 159.7,396.9ZM156.7,414.4 157.9,409.1 157.9,409.1 157.8,409.2 156.7,410.5 155.0,411.0 153.3,410.9 151.6,411.3 151.5,412.5ZM87.2,444.7 90.8,449.5 95.0,449.1 97.9,443.3 97.1,443.2 95.1,442.8 93.2,441.9 91.8,440.8 91.5,438.9 90.3,437.6 89.0,436.3 88.3,434.5 87.2,433.7 86.3,436.4ZM89.3,457.1 89.4,457.3 97.7,457.1 99.2,454.9 96.2,449.6 95.0,449.1 90.8,449.5ZM102.1,447.4 107.4,447.0 108.5,446.3 108.8,444.0 108.2,444.0 106.4,443.5 104.5,444.0 102.7,443.7 100.9,443.8ZM101.4,524.5 100.9,523.5 92.7,517.9 90.8,517.6 90.8,517.8 90.7,519.5 90.2,521.2 91.5,522.8 93.5,523.7 94.1,524.8ZM86.0,503.9 85.7,505.0 86.8,504.2 88.8,504.4 89.9,505.7 91.2,506.7 93.0,507.3 93.9,508.8 93.6,510.2 100.7,510.8 101.8,509.0 97.6,502.8 94.7,502.2ZM96.2,449.6 101.1,448.6 102.1,447.4 100.9,443.8 100.9,443.8 99.1,443.4 97.9,443.3 95.0,449.1ZM100.9,523.5 100.7,516.0 92.7,517.9ZM97.7,457.1 100.0,461.9 102.1,462.5 104.3,460.4 104.6,454.7 103.7,454.4 99.2,454.9ZM99.2,454.9 103.7,454.4 101.1,448.6 96.2,449.6ZM104.6,454.7 104.7,454.7 107.4,447.0 102.1,447.4 101.1,448.6 103.7,454.4ZM104.3,460.4 111.3,461.7 113.1,458.0 111.6,454.8 104.7,454.7 104.6,454.7ZM112.5,486.8 115.6,480.5 114.6,478.1 110.4,478.0 109.0,482.5ZM113.0,466.5 121.1,463.5 121.9,461.8 121.7,459.7 119.7,458.0 113.1,458.0 111.3,461.7 112.1,465.4ZM104.7,454.7 111.6,454.8 112.9,450.5 108.5,446.3 107.4,447.0ZM114.4,488.6 117.1,488.5 119.6,486.7 119.0,482.6 115.6,480.5 112.5,486.8 112.6,487.6ZM112.9,450.5 113.4,450.4 116.9,446.5 116.9,445.7 115.2,445.5 113.6,444.4 111.7,444.8 110.0,444.1 108.8,444.0 108.5,446.3ZM114.0,469.2 119.9,470.0 121.8,466.7 121.1,463.5 113.0,466.5 113.2,468.3ZM121.7,459.7 123.8,458.5 126.0,452.2 121.6,450.7 119.8,452.7 119.7,458.0ZM119.8,452.7 121.6,450.7 121.5,449.2 116.9,446.5 113.4,450.4ZM129.4,529.8 128.0,526.8 123.8,529.7 123.9,529.7 125.1,530.9 126.7,531.4 128.1,531.8ZM122.8,529.4 123.8,529.7 128.0,526.8 128.5,524.8 126.3,523.2 122.3,525.6ZM119.2,520.2 118.5,523.2 122.3,525.6 126.3,523.2 125.9,521.8 122.5,519.2ZM123.8,458.5 129.1,458.2 130.2,455.7 127.2,451.9 126.0,452.2ZM128.5,524.8 130.3,524.5 131.8,522.2 131.0,518.0 130.7,517.8 128.8,518.1 125.9,521.8 126.3,523.2ZM158.7,417.5 159.8,417.2 163.0,410.6 157.9,409.1 156.7,414.4ZM160.3,401.3 160.0,402.8 160.4,404.7 159.9,406.4 158.9,407.8 157.9,409.1 157.9,409.1 163.0,410.6 163.5,410.4 164.1,403.6 163.8,403.2ZM163.8,403.2 170.2,398.0 168.9,395.5 159.7,396.9 159.7,397.0 159.6,398.9 160.4,400.8 160.3,401.3ZM161.4,417.7 167.2,415.9 167.4,411.9 163.5,410.4 163.0,410.6 159.8,417.2ZM166.5,423.8 167.7,424.3 168.2,417.1 167.2,415.9 161.4,417.7ZM163.5,410.4 167.4,411.9 170.2,410.4 168.1,405.2 164.1,403.6ZM168.9,395.5 170.2,398.0 172.3,399.0 177.1,397.3 176.9,396.5 176.1,395.1 175.0,393.8 173.0,393.4 171.3,392.3 169.4,392.2 169.3,392.2ZM167.2,415.9 168.2,417.1 173.6,416.8 175.1,415.3 172.3,410.6 170.2,410.4 167.4,411.9ZM164.1,403.6 168.1,405.2 172.3,403.1 172.3,399.0 170.2,398.0 163.8,403.2ZM170.2,410.4 172.3,410.6 175.6,406.5 172.3,403.1 168.1,405.2ZM175.1,415.3 175.8,415.4 182.1,412.8 178.9,406.1 175.6,406.5 172.3,410.6ZM172.3,403.1 175.6,406.5 178.9,406.1 181.3,402.3 179.9,401.2 178.4,399.8 177.2,398.1 177.1,397.3 172.3,399.0ZM178.9,406.1 182.1,412.8 182.5,412.9 189.6,407.9 189.7,406.1 188.0,405.4 185.9,405.4 184.2,404.7 183.0,403.5 181.5,402.5 181.3,402.3ZM189.6,407.9 192.9,412.7 198.6,410.0 198.2,405.8 197.6,406.2 195.7,406.3 193.7,406.4 191.8,406.9 189.9,406.1 189.7,406.1ZM189.6,417.4 192.8,416.0 192.9,412.7 189.6,407.9 182.5,412.9 182.6,413.1ZM191.2,426.2 196.9,421.7 195.7,418.4 192.8,416.0 189.6,417.4 188.3,419.8ZM196.9,421.7 191.2,426.2 191.0,426.6 191.8,429.6 196.8,432.5 197.3,431.9 198.4,430.5 198.7,428.6 199.8,427.3 199.9,425.7 199.6,424.0 200.1,423.3ZM198.6,410.0 202.9,413.0 203.0,412.8 204.2,411.3 204.0,409.3 204.8,407.4 204.9,405.4 203.4,404.0 201.3,404.3 199.4,405.1 198.2,405.8ZM192.8,416.0 195.7,418.4 202.9,413.2 202.9,413.0 198.6,410.0 192.9,412.7Z" fill="#f5bfa2" stroke="#e6b9a3" stroke-width="0.3" stroke-linejoin="round"/>
<path d="M100.5,527.4 101.6,524.7 101.4,524.5 94.1,524.8 94.6,525.5 95.3,527.2 95.6,529.0 96.1,530.7 96.3,530.8ZM92.7,517.9 100.7,516.0 101.9,514.4 100.7,510.8 93.6,510.2 93.5,510.8 92.0,512.3 91.8,514.3 91.0,516.1 90.8,517.6ZM100.5,527.4 96.3,530.8 97.6,531.3 98.8,532.5 100.7,532.4 101.9,533.6 103.6,534.1ZM101.8,509.0 104.7,507.2 102.8,501.0 97.6,502.8ZM102.8,501.0 104.7,507.2 107.4,507.3 109.7,504.0 108.5,499.1 103.9,499.1ZM108.4,525.6 105.6,534.8 106.3,535.0 107.0,533.5 107.7,532.1 109.7,531.6 111.5,530.2 113.6,529.9 113.7,529.9ZM122.4,477.9 125.6,474.7 124.4,472.4 120.8,472.1 118.5,475.7ZM121.8,466.7 125.5,469.3 126.7,468.8 127.6,464.3 121.9,461.8 121.1,463.5ZM131.7,443.5 132.2,443.6 136.3,441.2 136.5,440.7 135.0,438.9 134.3,439.6 133.4,441.2 131.4,441.8 130.9,442.2ZM119.6,486.7 122.1,487.3 124.6,485.9 124.6,481.4 123.0,480.3 119.0,482.6ZM124.6,481.4 127.4,480.7 127.7,475.2 125.6,474.7 122.4,477.9 123.0,480.3ZM120.8,472.1 124.4,472.4 125.5,469.3 121.8,466.7 119.9,470.0ZM125.6,474.7 127.7,475.2 129.0,474.8 130.0,470.1 126.7,468.8 125.5,469.3 124.4,472.4ZM121.9,461.8 127.6,464.3 129.5,463.8 131.1,461.4 129.1,458.2 123.8,458.5 121.7,459.7ZM124.6,485.9 125.9,486.4 129.8,483.8 128.0,480.9 127.4,480.7 124.6,481.4ZM128.7,512.8 129.4,513.0 131.5,511.8 131.8,511.0 130.5,508.1 127.7,507.7 126.5,509.5ZM127.2,451.9 130.2,455.7 133.1,454.8 131.7,449.6 131.2,449.3 127.3,451.7ZM130.0,470.1 132.3,469.0 132.6,468.6 132.6,468.4 129.5,463.8 127.6,464.3 126.7,468.8ZM128.0,480.9 132.4,478.8 133.0,476.5 129.0,474.8 127.7,475.2 127.4,480.7ZM129.1,458.2 131.1,461.4 131.3,461.4 134.8,458.5 134.4,455.5 133.9,455.0 133.1,454.8 130.2,455.7ZM131.2,449.3 131.7,449.6 135.3,449.2 135.2,445.6 132.2,443.6 131.7,443.5 130.4,446.0ZM131.0,518.0 132.4,517.4 133.4,513.9 131.5,511.8 129.4,513.0 130.7,517.8ZM129.0,474.8 133.0,476.5 133.1,476.4 133.9,474.3 132.3,469.0 130.0,470.1ZM133.1,454.8 133.9,455.0 136.4,451.6 135.4,449.2 135.3,449.2 131.7,449.6ZM133.0,476.5 132.4,478.8 133.5,482.0 136.8,482.2 138.0,479.4 135.9,477.1 133.1,476.4ZM132.3,469.0 133.9,474.3 138.1,471.2 132.6,468.6ZM131.5,511.8 133.4,513.9 137.2,513.0 137.2,512.9 137.2,510.7 135.5,509.9 131.8,511.0ZM133.4,513.9 132.4,517.4 135.9,518.1 136.2,517.9 137.2,513.0ZM133.1,476.4 135.9,477.1 138.9,474.4 139.2,471.2 139.0,471.1 138.1,471.2 133.9,474.3ZM134.8,458.5 138.3,460.5 139.1,460.2 139.8,455.8 134.4,455.5ZM135.3,449.2 135.4,449.2 139.6,447.8 140.2,446.6 139.0,444.8 138.3,444.6 135.2,445.6ZM134.4,455.5 139.8,455.8 140.7,454.8 140.8,453.2 140.3,452.7 136.4,451.6 133.9,455.0ZM136.4,451.6 140.3,452.7 139.6,447.8 135.4,449.2ZM135.9,477.1 138.0,479.4 140.4,479.1 140.6,476.5 138.9,474.4ZM137.2,483.1 139.9,483.8 142.1,480.9 141.9,480.0 140.4,479.1 138.0,479.4 136.8,482.2ZM139.8,518.2 140.6,518.9 144.0,517.0 142.6,513.6 139.9,514.2ZM158.7,417.5 156.7,414.4 151.5,412.5 151.4,413.1 150.9,414.8 150.1,416.4 150.8,418.1 152.3,419.3 154.1,419.9 156.0,419.7 157.2,419.6ZM140.4,479.1 141.9,480.0 145.6,477.4 145.6,477.3 143.0,475.2 140.6,476.5ZM143.0,475.2 145.6,477.3 147.2,475.1 147.1,472.9 143.1,471.4 142.4,471.5ZM145.6,477.4 146.4,478.3 149.3,479.4 151.4,476.5 151.3,476.2 147.2,475.1 145.6,477.3ZM148.3,517.2 151.5,518.9 152.4,518.4 153.2,515.6 151.2,514.1 148.4,514.4 147.8,516.3ZM147.9,510.3 152.5,510.8 153.7,510.1 151.1,506.4 150.0,506.1ZM155.0,514.6 157.9,513.4 156.0,509.6 155.5,509.5 153.9,510.1ZM154.8,514.9 157.2,517.8 158.9,516.3 158.0,513.4 157.9,513.4 155.0,514.6ZM161.0,451.7 161.3,451.7 164.7,449.3 164.7,447.8 161.7,446.4 160.9,446.9 159.7,449.3ZM166.9,510.1 169.3,509.1 169.0,505.9 167.6,505.1 165.7,505.8ZM167.8,444.9 171.3,446.5 172.7,443.6 171.3,441.0 170.1,440.9 167.5,443.8ZM168.3,437.0 173.0,435.3 174.1,431.3 172.2,430.5 165.8,433.8 166.2,436.0ZM170.1,440.9 171.3,441.0 173.9,439.6 174.0,436.9 173.0,435.3 168.3,437.0ZM173.0,435.3 174.0,436.9 177.7,436.9 179.8,435.1 180.7,433.2 175.6,430.7 174.1,431.3ZM171.3,441.0 172.7,443.6 175.2,443.9 176.0,440.7 173.9,439.6ZM176.0,440.7 177.1,440.5 177.7,436.9 174.0,436.9 173.9,439.6ZM179.7,441.4 180.5,441.1 179.8,435.1 177.7,436.9 177.1,440.5ZM178.9,443.9 181.0,447.0 181.5,446.9 183.3,444.3 183.3,443.1 181.6,441.2 180.5,441.1 179.7,441.4ZM181.1,450.1 181.6,450.0 183.1,449.3 183.5,448.1 181.5,446.9 181.0,447.0 180.2,447.9ZM183.3,443.1 186.2,442.1 185.3,437.8 184.8,437.5 181.6,441.2ZM185.3,437.8 186.2,442.1 187.1,442.5 187.6,441.4 188.7,439.6 189.6,438.2ZM186.2,442.1 183.3,443.1 183.3,444.3 185.4,445.6 185.7,445.2 186.8,443.4 187.1,442.5Z" fill="#ec8e70" stroke="#f3b8a2" stroke-width="0.3" stroke-linejoin="round"/>
<path d="M101.6,524.7 105.7,524.4 106.0,516.9 104.5,515.2 101.9,514.4 100.7,516.0 100.9,523.5 101.4,524.5ZM100.7,510.8 101.9,514.4 104.5,515.2 109.7,510.5 107.4,507.3 104.7,507.2 101.8,509.0ZM101.6,524.7 100.5,527.4 103.6,534.1 104.1,534.2 105.6,534.8 108.4,525.6 108.3,525.4 105.7,524.4ZM104.5,515.2 106.0,516.9 111.1,516.8 111.2,511.2 109.7,510.5ZM108.5,499.1 109.7,504.0 114.5,504.5 115.6,500.6 115.0,499.3 109.4,498.2ZM107.7,490.8 109.8,495.5 114.4,493.7 114.4,488.6 112.6,487.6 107.9,490.1ZM109.7,510.5 111.2,511.2 114.2,510.4 116.1,507.8 116.2,506.9 114.5,504.5 109.7,504.0 107.4,507.3ZM105.7,524.4 108.3,525.4 111.1,522.6 112.2,517.9 111.1,516.8 106.0,516.9ZM116.2,506.9 122.0,503.9 122.0,503.7 122.1,503.6 121.3,501.3 115.6,500.6 114.5,504.5ZM109.8,495.5 109.4,498.2 115.0,499.3 116.9,495.8 114.4,493.7ZM116.9,495.8 117.3,495.7 119.2,492.7 117.1,488.5 114.4,488.6 114.4,493.7ZM115.6,500.6 121.3,501.3 122.1,498.4 117.3,495.7 116.9,495.8 115.0,499.3ZM119.2,520.2 122.5,519.2 124.3,515.4 123.7,514.4 120.2,513.5 117.5,515.1 117.0,517.1ZM122.0,503.9 122.6,509.0 124.8,510.1 126.5,509.5 127.7,507.7 127.4,506.8 122.0,503.7ZM120.2,513.5 123.7,514.4 124.8,510.1 122.6,509.0 120.2,510.2ZM125.9,521.8 128.8,518.1 125.2,515.5 124.3,515.4 122.5,519.2ZM123.7,514.4 124.3,515.4 125.2,515.5 128.7,512.8 126.5,509.5 124.8,510.1ZM128.8,518.1 130.7,517.8 129.4,513.0 128.7,512.8 125.2,515.5ZM129.4,529.8 133.1,529.8 133.1,529.8 132.5,526.4 130.3,524.5 128.5,524.8 128.0,526.8ZM128.7,503.4 131.6,503.8 132.8,502.3 131.9,498.7 128.4,498.7 127.8,501.6ZM127.7,507.7 130.5,508.1 132.4,506.5 131.6,503.8 128.7,503.4 127.4,506.8ZM129.8,483.8 131.7,484.6 133.5,482.0 132.4,478.8 128.0,480.9ZM132.3,486.5 132.9,487.1 136.5,485.7 137.2,483.1 136.8,482.2 133.5,482.0 131.7,484.6ZM142.7,534.1 138.5,535.1 138.7,536.2 139.1,538.0 141.3,536.5 143.1,535.4 143.6,534.7ZM131.8,522.2 135.6,522.3 136.1,521.8 135.9,518.1 132.4,517.4 131.0,518.0ZM132.8,502.3 136.5,503.0 137.5,500.3 132.5,498.3 131.9,498.7ZM132.5,526.4 136.1,525.1 135.6,522.3 131.8,522.2 130.3,524.5ZM131.8,511.0 135.5,509.9 133.9,506.7 132.4,506.5 130.5,508.1ZM132.4,506.5 133.9,506.7 136.9,504.3 136.5,503.0 132.8,502.3 131.6,503.8ZM131.6,492.5 133.6,495.5 136.1,495.2 137.3,493.8 136.0,490.4 133.6,489.8ZM137.9,528.6 138.3,527.1 138.2,527.0 136.1,525.1 132.5,526.4 133.1,529.8 134.0,530.1ZM135.2,445.6 138.3,444.6 136.3,441.2 132.2,443.6ZM136.1,525.1 138.2,527.0 141.1,522.2 140.8,521.9 136.1,521.8 135.6,522.3ZM135.5,509.9 137.2,510.7 138.1,509.8 139.1,505.9 136.9,504.3 133.9,506.7ZM136.9,504.3 139.1,505.9 141.3,505.4 142.0,503.2 138.9,499.3 138.7,499.3 137.5,500.3 136.5,503.0ZM137.5,500.3 138.7,499.3 136.1,495.2 133.6,495.5 132.5,498.3ZM136.1,521.8 140.8,521.9 140.6,518.9 139.8,518.2 136.2,517.9 135.9,518.1ZM133.6,489.8 136.0,490.4 139.3,488.5 139.4,488.5 139.4,488.3 136.5,485.7 132.9,487.1ZM136.5,485.7 139.4,488.3 141.1,486.2 139.9,483.8 137.2,483.1ZM137.2,513.0 136.2,517.9 139.8,518.2 139.9,514.2 137.2,512.9ZM138.9,530.5 141.8,531.2 143.3,529.6 143.3,527.3 138.3,527.1 137.9,528.6ZM139.8,455.8 139.1,460.2 140.0,460.6 144.0,459.0 143.2,456.1 140.7,454.8ZM136.3,441.2 138.3,444.6 139.0,444.8 140.6,442.0 138.6,439.6 136.5,440.7ZM139.9,514.2 142.6,513.6 143.0,513.0 142.0,510.4 138.1,509.8 137.2,510.7 137.2,512.9ZM141.1,522.2 143.0,522.8 145.2,521.8 145.4,521.6 144.3,517.1 144.0,517.0 140.6,518.9 140.8,521.9ZM140.3,452.7 140.8,453.2 143.8,451.3 142.2,446.7 140.2,446.6 139.6,447.8ZM139.4,488.5 142.9,490.1 144.5,489.1 144.9,486.9 143.2,485.9 141.1,486.2 139.4,488.3ZM139.1,505.9 138.1,509.8 142.0,510.4 143.7,507.4 141.3,505.4ZM138.9,474.4 140.6,476.5 143.0,475.2 142.4,471.5 141.0,470.9 139.2,471.2ZM137.5,534.4 138.4,534.3 138.5,535.1 142.7,534.1 141.8,531.2 138.9,530.5ZM138.3,527.1 143.3,527.3 143.8,526.7 143.0,522.8 141.1,522.2 138.2,527.0ZM147.5,529.2 145.9,530.8 146.1,532.6 148.0,531.9 150.1,531.4 150.5,531.1ZM141.1,486.2 143.2,485.9 143.7,482.4 142.1,480.9 139.9,483.8ZM142.7,534.1 143.6,534.7 144.2,533.6 146.1,532.6 146.1,532.6 145.9,530.8 143.3,529.6 141.8,531.2ZM143.0,513.0 147.2,511.6 147.5,510.6 144.2,507.4 143.7,507.4 142.0,510.4ZM138.9,499.3 142.0,503.2 145.1,501.3 145.1,501.3 143.0,497.9 140.8,497.9ZM140.7,454.8 143.2,456.1 145.0,455.7 147.1,452.1 147.0,452.1 146.5,451.3 143.8,451.3 140.8,453.2ZM141.3,505.4 143.7,507.4 144.2,507.4 147.1,504.5 145.1,501.3 142.0,503.2ZM142.6,513.6 144.0,517.0 144.3,517.1 147.8,516.3 148.4,514.4 147.2,511.6 143.0,513.0ZM144.0,459.0 145.5,460.0 147.9,457.6 145.0,455.7 143.2,456.1ZM147.1,472.9 148.0,472.0 147.6,467.2 147.1,466.8 143.1,471.4ZM147.5,510.6 147.9,510.3 150.0,506.1 149.1,504.9 147.1,504.5 144.2,507.4ZM147.0,452.1 152.3,451.2 151.4,449.1 149.1,448.5 147.0,449.7 146.5,451.3ZM147.2,483.1 150.2,481.6 149.3,479.4 146.4,478.3 146.0,482.3ZM143.8,526.7 147.3,526.9 147.8,526.3 147.9,525.4 145.2,521.8 143.0,522.8ZM145.1,501.3 147.1,504.5 149.1,504.9 151.1,500.8 147.6,499.7 145.1,501.3ZM147.9,525.4 149.6,523.2 149.4,521.7 147.2,521.0 145.4,521.6 145.2,521.8ZM145.0,455.7 147.9,457.6 148.3,457.5 149.2,455.2 147.1,452.1ZM147.3,526.9 147.5,529.2 150.5,531.1 151.6,530.4 152.0,528.5 151.1,527.0 147.8,526.3ZM145.4,521.6 147.2,521.0 148.3,517.2 147.8,516.3 144.3,517.1ZM147.2,511.6 148.4,514.4 151.2,514.1 152.5,510.8 147.9,510.3 147.5,510.6ZM147.2,521.0 149.4,521.7 151.2,520.1 151.5,518.9 148.3,517.2ZM149.4,445.8 151.4,445.2 151.8,444.4 150.6,441.6 147.3,443.0 147.6,444.9ZM147.1,472.9 147.2,475.1 151.3,476.2 151.8,475.5 151.9,474.1 149.2,472.0 148.0,472.0ZM149.6,523.2 152.5,524.4 153.9,523.7 151.2,520.1 149.4,521.7ZM147.8,526.3 151.1,527.0 152.5,524.4 149.6,523.2 147.9,525.4ZM151.4,476.5 153.8,479.1 154.3,479.0 156.3,475.7 151.8,475.5 151.3,476.2ZM152.5,524.4 151.1,527.0 152.0,528.5 155.2,527.4 155.7,524.1 155.3,523.7 153.9,523.7ZM150.0,506.1 151.1,506.4 154.3,504.6 154.2,502.5 152.3,500.2 151.1,500.8 149.1,504.9ZM151.2,514.1 153.2,515.6 154.8,514.9 155.0,514.6 153.9,510.1 153.7,510.1 152.5,510.8ZM153.9,523.7 155.3,523.7 156.4,520.0 152.4,518.4 151.5,518.9 151.2,520.1ZM153.9,510.1 155.5,509.5 155.8,505.8 154.3,504.6 151.1,506.4 153.7,510.1ZM152.4,518.4 156.4,520.0 156.9,519.6 157.2,517.8 154.8,514.9 153.2,515.6ZM155.7,524.1 158.6,524.8 160.7,523.7 160.6,520.6 156.9,519.6 156.4,520.0 155.3,523.7ZM152.3,500.2 154.2,502.5 157.3,501.8 157.4,499.9 155.2,498.5 152.3,500.0ZM160.8,523.8 160.7,523.7 158.6,524.8 159.3,528.1 160.5,527.8 162.0,526.6 162.4,526.5ZM154.3,504.6 155.8,505.8 157.0,505.5 158.6,502.8 157.3,501.8 154.2,502.5ZM157.9,443.0 159.5,442.4 160.2,438.2 158.0,436.9 156.3,440.7ZM156.0,509.6 158.9,509.1 159.7,507.1 157.0,505.5 155.8,505.8 155.5,509.5ZM157.3,501.8 158.6,502.8 162.2,502.9 162.6,501.7 160.6,498.4 159.8,498.2 157.4,499.9ZM156.4,475.6 157.9,477.4 160.5,477.6 161.6,475.9 161.4,475.3 157.7,474.2 156.7,474.7ZM157.9,513.4 158.0,513.4 161.4,511.8 158.9,509.1 156.0,509.6ZM155.2,527.4 156.5,529.2 157.6,529.2 159.0,528.2 159.3,528.1 158.6,524.8 155.7,524.1ZM157.0,505.5 159.7,507.1 162.9,505.1 162.2,502.9 158.6,502.8ZM160.7,523.7 160.8,523.8 164.7,523.4 164.5,521.3 161.3,520.1 160.6,520.6ZM157.5,444.3 160.9,446.9 161.7,446.4 162.2,444.9 161.3,443.1 159.5,442.4 157.9,443.0ZM156.8,434.7 158.0,436.9 160.2,438.2 163.7,438.6 166.2,436.0 165.8,433.8 163.5,431.0 161.8,430.9 157.2,433.1ZM156.9,519.6 160.6,520.6 161.3,520.1 162.3,516.8 162.1,516.5 158.9,516.3 157.2,517.8ZM159.5,442.4 161.3,443.1 163.8,439.5 163.7,438.6 160.2,438.2ZM158.9,509.1 161.4,511.8 161.5,511.9 163.0,511.1 163.0,505.3 162.9,505.1 159.7,507.1ZM158.9,516.3 162.1,516.5 161.5,511.9 161.4,511.8 158.0,513.4ZM160.6,452.4 160.9,455.7 163.1,456.6 163.9,455.9 165.2,454.9 166.1,454.2 161.3,451.7 161.0,451.7ZM162.2,502.9 162.9,505.1 163.0,505.3 165.7,505.8 167.6,505.1 168.2,502.7 167.4,500.9 165.7,499.9 162.6,501.7ZM164.7,523.4 160.8,523.8 162.4,526.5 163.8,526.0 165.6,525.2 166.1,524.7ZM162.2,444.9 166.1,443.1 163.8,439.5 161.3,443.1ZM166.1,454.2 166.7,453.7 167.3,451.9 167.4,451.8 164.7,449.3 161.3,451.7ZM163.8,439.5 166.1,443.1 167.5,443.8 170.1,440.9 168.3,437.0 166.2,436.0 163.7,438.6ZM166.1,524.7 167.0,523.9 168.5,522.8 169.7,521.5 170.0,521.1 168.2,518.8 166.8,518.8 164.5,521.3 164.7,523.4ZM161.7,446.4 164.7,447.8 167.0,446.3 167.8,444.9 167.5,443.8 166.1,443.1 162.2,444.9ZM163.0,511.1 165.0,511.5 166.6,510.6 166.9,510.1 165.7,505.8 163.0,505.3ZM164.7,449.3 167.4,451.8 168.5,450.4 168.6,450.4 167.0,446.3 164.7,447.8ZM165.7,514.0 168.5,515.1 169.2,512.9 166.6,510.6 165.0,511.5ZM163.7,516.8 166.8,518.8 168.2,518.8 169.0,516.3 168.5,515.1 165.7,514.0ZM173.1,515.4 169.0,516.3 168.2,518.8 170.0,521.1 170.8,519.9 172.0,518.6 173.2,517.3 173.8,516.1ZM167.7,424.3 167.7,424.3 172.7,422.7 173.6,416.8 168.2,417.1ZM167.0,446.3 168.6,450.4 170.3,449.8 171.2,448.4 172.0,447.7 171.3,446.5 167.8,444.9ZM169.0,516.3 173.1,515.4 172.9,512.8 171.2,511.8 169.2,512.9 168.5,515.1ZM166.6,510.6 169.2,512.9 171.2,511.8 170.7,509.7 169.3,509.1 166.9,510.1ZM168.2,502.7 172.8,502.2 172.7,501.0 170.4,499.4 167.4,500.9ZM173.6,416.8 172.7,422.7 176.5,424.3 178.6,420.5 175.8,415.4 175.1,415.3ZM171.2,511.8 172.9,512.8 176.1,510.5 174.9,508.6 172.6,508.1 170.7,509.7ZM176.1,510.5 172.9,512.8 173.1,515.4 173.8,516.1 174.1,515.7 175.5,514.5 176.2,512.8 176.8,510.9 176.9,510.8ZM172.6,508.1 174.9,508.6 176.0,505.0 175.2,503.9 173.2,503.1 171.5,505.6ZM175.6,430.7 180.7,433.2 182.4,432.9 183.7,426.0 183.6,425.8 176.8,425.0ZM179.8,435.1 180.5,441.1 181.6,441.2 184.8,437.5 183.0,433.2 182.4,432.9 180.7,433.2ZM178.6,420.5 182.5,420.0 182.6,413.1 182.5,412.9 182.1,412.8 175.8,415.4ZM183.0,433.2 189.0,432.3 191.8,429.6 191.0,426.6 183.7,426.0 182.4,432.9ZM183.3,444.3 181.5,446.9 183.5,448.1 183.6,447.7 184.8,446.5 185.4,445.6ZM185.3,437.8 189.6,438.2 189.9,437.6 190.2,437.4 189.0,432.3 183.0,433.2 184.8,437.5Z" fill="#e04c3c" stroke="#ec8272" stroke-width="0.3" stroke-linejoin="round"/>
<path d="M111.1,516.8 112.2,517.9 117.0,517.1 117.5,515.1 114.2,510.4 111.2,511.2ZM134.0,530.1 133.1,529.8 133.1,529.8 131.5,533.4 132.6,533.6 134.6,533.5 135.8,534.2ZM108.4,525.6 113.7,529.9 115.4,530.0 115.7,529.9 118.2,523.3 111.1,522.6 108.3,525.4ZM122.3,525.6 118.5,523.2 118.2,523.3 115.7,529.9 117.1,529.7 118.9,530.0 120.6,529.5 122.3,529.2 122.8,529.4ZM112.2,517.9 111.1,522.6 118.2,523.3 118.5,523.2 119.2,520.2 117.0,517.1ZM119.2,492.7 123.6,492.7 122.1,487.3 119.6,486.7 117.1,488.5ZM114.2,510.4 117.5,515.1 120.2,513.5 120.2,510.2 116.1,507.8ZM116.1,507.8 120.2,510.2 122.6,509.0 122.0,503.9 116.2,506.9ZM122.1,498.4 123.9,496.9 123.9,493.0 123.6,492.7 119.2,492.7 117.3,495.7ZM123.6,492.7 123.9,493.0 127.7,491.5 127.7,488.7 125.9,486.4 124.6,485.9 122.1,487.3ZM122.1,503.6 127.8,501.6 128.4,498.7 128.2,498.5 123.9,496.9 122.1,498.4 121.3,501.3ZM122.0,503.7 127.4,506.8 128.7,503.4 127.8,501.6 122.1,503.6ZM123.9,496.9 128.2,498.5 129.6,492.6 127.7,491.5 123.9,493.0ZM133.1,529.8 129.4,529.8 128.1,531.8 128.7,531.9 130.5,533.2 131.5,533.4ZM125.9,486.4 127.7,488.7 132.3,486.5 131.7,484.6 129.8,483.8ZM127.7,491.5 129.6,492.6 131.6,492.5 133.6,489.8 132.9,487.1 132.3,486.5 127.7,488.7ZM128.4,498.7 131.9,498.7 132.5,498.3 133.6,495.5 131.6,492.5 129.6,492.6 128.2,498.5ZM129.5,463.8 132.6,468.4 134.7,466.3 134.6,463.2 131.3,461.4 131.1,461.4ZM134.0,530.1 135.8,534.2 136.4,534.5 137.5,534.4 138.9,530.5 137.9,528.6ZM131.3,461.4 134.6,463.2 137.4,462.0 138.3,460.5 134.8,458.5ZM132.6,468.6 138.1,471.2 139.0,471.1 137.7,466.5 134.7,466.3 132.6,468.4ZM137.3,493.8 139.8,493.6 140.2,493.3 139.3,488.5 136.0,490.4ZM136.1,495.2 138.7,499.3 138.9,499.3 140.8,497.9 139.8,493.6 137.3,493.8ZM134.7,466.3 137.7,466.5 138.4,465.6 137.4,462.0 134.6,463.2ZM137.4,462.0 138.4,465.6 142.5,465.2 143.1,464.6 140.0,460.6 139.1,460.2 138.3,460.5ZM139.2,471.2 141.0,470.9 142.5,465.2 138.4,465.6 137.7,466.5 139.0,471.1ZM139.3,488.5 140.2,493.3 142.6,492.9 142.9,490.1 139.4,488.5ZM140.2,446.6 142.2,446.7 143.1,446.1 144.0,442.5 143.0,441.5 140.6,442.0 139.0,444.8ZM139.8,493.6 140.8,497.9 143.0,497.9 145.0,495.2 144.9,494.3 142.6,492.9 140.2,493.3ZM143.3,529.6 145.9,530.8 147.5,529.2 147.3,526.9 143.8,526.7 143.3,527.3ZM143.1,464.6 143.3,464.6 145.6,460.8 145.5,460.0 144.0,459.0 140.0,460.6ZM141.0,470.9 142.4,471.5 143.1,471.4 147.1,466.8 147.0,466.7 143.3,464.6 143.1,464.6 142.5,465.2ZM142.1,480.9 143.7,482.4 146.0,482.3 146.4,478.3 145.6,477.4 141.9,480.0ZM142.2,446.7 143.8,451.3 146.5,451.3 147.0,449.7 145.8,446.9 143.1,446.1ZM142.6,492.9 144.9,494.3 146.9,491.7 144.5,489.1 142.9,490.1ZM143.0,497.9 145.1,501.3 147.6,499.7 147.6,496.6 145.0,495.2ZM143.2,485.9 144.9,486.9 147.1,486.2 147.2,483.1 146.0,482.3 143.7,482.4ZM144.5,489.1 146.9,491.7 147.1,491.7 149.0,487.7 148.8,487.2 147.1,486.2 144.9,486.9ZM143.1,446.1 145.8,446.9 147.6,444.9 147.3,443.0 146.3,442.4 144.0,442.5ZM147.0,466.7 148.5,463.7 148.0,461.9 145.6,460.8 143.3,464.6ZM145.0,495.2 147.6,496.6 150.5,495.6 150.6,493.7 150.0,492.8 147.1,491.7 146.9,491.7 144.9,494.3ZM145.8,446.9 147.0,449.7 149.1,448.5 149.4,445.8 147.6,444.9ZM145.6,460.8 148.0,461.9 150.6,459.9 150.5,459.3 148.3,457.5 147.9,457.6 145.5,460.0ZM147.1,486.2 148.8,487.2 151.3,485.3 150.8,481.9 150.2,481.6 147.2,483.1ZM147.1,466.8 147.6,467.2 149.1,467.3 151.8,465.7 152.3,464.1 151.6,463.3 148.5,463.7 147.0,466.7ZM155.2,527.4 152.0,528.5 151.6,530.4 151.9,530.3 153.9,529.7 155.9,529.2 156.5,529.2ZM148.0,472.0 149.2,472.0 151.7,469.9 149.1,467.3 147.6,467.2ZM147.1,452.1 149.2,455.2 152.0,454.6 153.2,451.8 152.3,451.2 147.0,452.1ZM150.6,441.6 151.8,444.4 154.2,443.9 154.5,441.1 152.2,439.8 150.8,441.0ZM147.6,499.7 151.1,500.8 152.3,500.2 152.3,500.0 151.3,496.4 150.5,495.6 147.6,496.6ZM148.5,463.7 151.6,463.3 151.5,460.7 150.6,459.9 148.0,461.9ZM147.1,491.7 150.0,492.8 151.5,489.7 149.0,487.7ZM150.2,481.6 150.8,481.9 152.5,481.4 153.8,479.1 151.4,476.5 149.3,479.4ZM150.6,493.7 155.0,492.4 155.1,492.0 153.8,489.3 151.5,489.7 150.0,492.8ZM149.0,487.7 151.5,489.7 153.8,489.3 154.0,488.9 153.2,486.0 151.3,485.3 148.8,487.2ZM151.4,449.1 152.4,447.1 151.4,445.2 149.4,445.8 149.1,448.5ZM150.5,459.3 153.2,456.7 152.0,454.6 149.2,455.2 148.3,457.5ZM149.2,472.0 151.9,474.1 154.1,471.3 154.1,471.2 152.9,470.0 151.7,469.9ZM151.7,469.9 152.9,470.0 153.4,467.5 151.8,465.7 149.1,467.3ZM150.6,459.9 151.5,460.7 155.6,460.2 153.8,456.9 153.2,456.7 150.5,459.3ZM153.2,451.8 154.4,451.6 156.4,449.1 155.6,447.3 152.4,447.1 151.4,449.1 152.3,451.2ZM151.6,463.3 152.3,464.1 154.5,463.8 156.4,461.7 156.0,460.4 155.6,460.2 151.5,460.7ZM152.0,454.6 153.2,456.7 153.8,456.9 156.7,455.1 156.7,454.1 154.4,451.6 153.2,451.8ZM153.2,486.0 155.7,483.7 152.5,481.4 150.8,481.9 151.3,485.3ZM151.8,475.5 156.3,475.7 156.4,475.6 156.7,474.7 154.1,471.3 151.9,474.1ZM152.3,500.0 155.2,498.5 156.3,495.6 155.7,494.9 151.3,496.4ZM150.5,495.6 151.3,496.4 155.7,494.9 155.0,492.4 150.6,493.7ZM151.4,445.2 152.4,447.1 155.6,447.3 156.0,445.1 154.2,443.9 151.8,444.4ZM154.1,471.2 156.6,469.7 155.7,466.5 155.7,466.5 153.4,467.5 152.9,470.0ZM153.4,467.5 155.7,466.5 154.5,463.8 152.3,464.1 151.8,465.7ZM154.0,488.9 157.9,487.3 158.1,485.6 155.9,483.7 155.7,483.7 153.2,486.0ZM155.6,460.2 156.0,460.4 158.6,457.7 158.6,457.6 156.7,455.1 153.8,456.9ZM153.8,489.3 155.1,492.0 158.5,491.0 159.3,489.5 157.9,487.3 154.0,488.9ZM154.2,443.9 156.0,445.1 157.5,444.3 157.9,443.0 156.3,440.7 154.5,441.1ZM153.8,479.1 152.5,481.4 155.7,483.7 155.9,483.7 157.4,480.8 157.2,480.5 154.3,479.0ZM154.3,479.0 157.2,480.5 157.9,477.4 156.4,475.6 156.3,475.7ZM154.5,463.8 155.7,466.5 155.7,466.5 159.1,465.5 158.0,462.7 156.4,461.7ZM154.1,471.3 156.7,474.7 157.7,474.2 159.5,470.6 159.1,469.9 156.6,469.7 154.1,471.2ZM156.4,449.1 159.7,449.3 160.9,446.9 157.5,444.3 156.0,445.1 155.6,447.3ZM154.4,451.6 156.7,454.1 160.6,452.4 161.0,451.7 159.7,449.3 156.4,449.1ZM155.0,492.4 155.7,494.9 156.3,495.6 157.6,495.7 159.7,493.7 158.5,491.0 155.1,492.0ZM155.7,466.5 156.6,469.7 159.1,469.9 160.1,467.5 159.4,465.7 159.1,465.5ZM155.2,498.5 157.4,499.9 159.8,498.2 157.6,495.7 156.3,495.6ZM158.6,457.6 160.9,455.7 160.6,452.4 156.7,454.1 156.7,455.1ZM155.9,483.7 158.1,485.6 161.0,484.4 161.2,483.9 159.6,481.0 157.4,480.8ZM156.4,461.7 158.0,462.7 160.8,461.2 161.1,459.8 158.6,457.7 156.0,460.4ZM157.4,480.8 159.6,481.0 160.8,479.4 160.5,477.6 157.9,477.4 157.2,480.5ZM157.9,487.3 159.3,489.5 161.9,489.4 162.9,487.5 161.0,484.4 158.1,485.6ZM158.5,491.0 159.7,493.7 162.3,494.1 163.0,491.0 161.9,489.4 159.3,489.5ZM159.8,498.2 160.6,498.4 162.5,495.8 162.5,494.5 162.3,494.1 159.7,493.7 157.6,495.7ZM160.8,479.4 163.4,480.0 164.5,479.5 163.1,476.3 161.6,475.9 160.5,477.6ZM159.1,465.5 159.4,465.7 162.6,463.7 162.7,463.2 160.8,461.2 158.0,462.7ZM157.7,474.2 161.4,475.3 162.1,472.0 159.5,470.6ZM158.6,457.7 161.1,459.8 162.8,459.1 161.5,458.3 162.7,457.0 163.1,456.6 160.9,455.7 158.6,457.6ZM161.2,483.9 162.5,483.2 163.4,480.0 160.8,479.4 159.6,481.0ZM159.5,470.6 162.1,472.0 163.1,471.7 163.9,470.1 162.8,467.6 160.1,467.5 159.1,469.9ZM162.6,501.7 165.7,499.9 165.9,498.4 162.5,495.8 160.6,498.4ZM161.0,484.4 162.9,487.5 163.9,487.3 165.9,484.0 162.5,483.2 161.2,483.9ZM160.8,461.2 162.7,463.2 164.0,462.3 164.3,459.9 163.5,459.5 162.8,459.1 161.1,459.8ZM162.1,516.5 162.3,516.8 163.7,516.8 165.7,514.0 165.0,511.5 163.0,511.1 161.5,511.9ZM160.1,467.5 162.8,467.6 164.4,466.1 162.6,463.7 159.4,465.7ZM161.9,489.4 163.0,491.0 165.9,490.9 166.2,488.5 163.9,487.3 162.9,487.5ZM161.4,475.3 161.6,475.9 163.1,476.3 164.6,475.5 165.0,473.0 163.1,471.7 162.1,472.0ZM162.5,494.5 166.0,494.3 167.0,493.4 167.0,491.9 165.9,490.9 163.0,491.0 162.3,494.1ZM163.9,470.1 166.5,469.2 165.3,466.1 164.4,466.1 162.8,467.6ZM164.0,462.3 167.3,463.3 167.6,462.3 167.4,462.1 166.6,460.6 165.0,460.2 164.3,459.9ZM162.6,463.7 164.4,466.1 165.3,466.1 167.6,464.4 167.3,463.3 164.0,462.3 162.7,463.2ZM161.3,520.1 164.5,521.3 166.8,518.8 163.7,516.8 162.3,516.8ZM164.5,479.5 166.6,479.8 166.9,479.5 167.3,476.7 164.6,475.5 163.1,476.3ZM162.5,483.2 165.9,484.0 167.0,483.7 167.4,483.1 166.6,479.8 164.5,479.5 163.4,480.0ZM162.5,495.8 165.9,498.4 166.4,497.8 166.0,494.3 162.5,494.5ZM163.1,471.7 165.0,473.0 167.1,472.7 167.9,471.1 167.4,469.6 166.5,469.2 163.9,470.1ZM175.8,449.0 175.5,448.9 173.9,449.0 173.6,449.8 173.9,451.9 173.9,453.7 173.4,455.4 175.1,454.6 176.5,453.4 177.2,452.7ZM163.9,487.3 166.2,488.5 167.8,487.5 167.0,483.7 165.9,484.0ZM166.5,469.2 167.4,469.6 168.8,468.2 167.8,464.5 167.6,464.4 165.3,466.1ZM167.0,491.9 170.9,489.9 171.1,488.8 167.8,487.5 166.2,488.5 165.9,490.9ZM166.0,494.3 166.4,497.8 169.9,496.7 170.5,495.5 167.0,493.4ZM167.0,483.7 167.8,487.5 171.1,488.8 171.6,488.4 171.5,484.8 169.2,483.3 167.4,483.1ZM165.0,473.0 164.6,475.5 167.3,476.7 168.5,475.4 167.1,472.7ZM165.9,498.4 165.7,499.9 167.4,500.9 170.4,499.4 169.9,496.7 166.4,497.8ZM171.7,462.1 175.5,462.6 175.7,461.0 174.5,461.1 171.4,460.6 171.1,460.9ZM166.6,479.8 167.4,483.1 169.2,483.3 171.9,480.1 171.5,479.1 166.9,479.5ZM167.1,472.7 168.5,475.4 168.7,475.4 170.6,474.1 169.6,473.3 170.0,471.4 167.9,471.1ZM167.8,464.5 170.7,464.6 171.7,462.1 171.1,460.9 170.2,462.0 168.8,463.2 167.6,462.3 167.3,463.3 167.6,464.4ZM170.5,495.5 170.7,495.4 172.0,492.6 170.9,489.9 167.0,491.9 167.0,493.4ZM167.3,476.7 166.9,479.5 171.5,479.1 171.7,477.8 168.7,475.4 168.5,475.4ZM167.6,505.1 169.0,505.9 171.5,505.6 173.2,503.1 172.8,502.2 168.2,502.7ZM167.4,469.6 167.9,471.1 170.0,471.4 170.1,471.1 170.6,469.4 171.6,468.3 171.4,468.2 168.8,468.2ZM169.9,496.7 170.4,499.4 172.7,501.0 174.1,499.2 174.3,497.2 170.7,495.4 170.5,495.5ZM171.1,488.8 170.9,489.9 172.0,492.6 175.7,492.8 176.2,490.8 174.4,488.2 171.6,488.4ZM168.8,468.2 171.4,468.2 171.3,465.2 170.7,464.6 167.8,464.5ZM168.7,475.4 171.7,477.8 173.7,476.2 171.4,474.6 170.6,474.1ZM169.2,483.3 171.5,484.8 173.4,483.6 174.0,481.4 174.0,481.3 171.9,480.1ZM171.6,488.4 174.4,488.2 176.3,486.0 173.4,483.6 171.5,484.8ZM171.3,465.2 174.8,465.0 175.4,464.2 176.0,464.0 175.5,462.6 171.7,462.1 170.7,464.6ZM171.9,480.1 174.0,481.3 175.6,479.2 175.3,478.0 174.0,476.4 173.7,476.2 171.7,477.8 171.5,479.1ZM171.4,468.2 171.6,468.3 171.8,468.1 174.0,465.9 174.8,465.0 171.3,465.2ZM169.3,509.1 170.7,509.7 172.6,508.1 171.5,505.6 169.0,505.9ZM173.2,503.1 175.2,503.9 178.2,500.7 178.0,500.4 174.1,499.2 172.7,501.0 172.8,502.2ZM170.7,495.4 174.3,497.2 177.1,495.2 177.1,494.9 175.7,492.8 172.0,492.6ZM172.0,447.7 172.4,447.3 174.4,447.8 173.9,449.0 175.5,448.9 176.0,445.2 175.2,443.9 172.7,443.6 171.3,446.5ZM176.0,464.0 177.5,463.3 179.3,461.5 177.7,461.3 176.1,461.0 175.7,461.0 175.5,462.6ZM174.3,497.2 174.1,499.2 178.0,500.4 178.5,496.6 177.1,495.2ZM174.0,481.3 174.0,481.4 177.9,482.8 177.3,481.2 175.8,479.9 175.6,479.2ZM173.4,483.6 176.3,486.0 177.2,485.8 178.0,483.0 178.0,483.0 177.9,482.8 174.0,481.4ZM174.4,488.2 176.2,490.8 181.0,488.7 177.2,485.8 176.3,486.0ZM176.0,505.0 174.9,508.6 176.1,510.5 176.9,510.8 177.4,508.9 178.6,507.2 179.4,505.6ZM175.2,443.9 176.0,445.2 178.9,443.9 179.7,441.4 177.1,440.5 176.0,440.7ZM176.0,505.0 179.4,505.6 179.5,505.5 179.7,503.5 180.1,501.7 180.2,501.6 178.2,500.7 175.2,503.9ZM175.7,492.8 177.1,494.9 181.6,491.5 180.6,490.9 181.5,488.8 181.0,488.7 176.2,490.8ZM176.8,425.0 183.6,425.8 183.9,421.4 182.5,420.0 178.6,420.5 176.5,424.3ZM178.5,496.6 178.0,500.4 178.2,500.7 180.2,501.6 181.6,500.1 182.3,498.0 182.2,497.0ZM175.5,448.9 175.8,449.0 180.2,447.9 181.0,447.0 178.9,443.9 176.0,445.2ZM177.1,494.9 177.1,495.2 178.5,496.6 182.2,497.0 181.9,495.2 182.8,492.2 181.6,491.5ZM177.2,485.8 181.0,488.7 181.5,488.8 181.5,488.7 180.6,486.0 179.6,484.2 178.0,483.0ZM175.8,449.0 177.2,452.7 178.2,451.8 180.0,450.3 181.1,450.1 180.2,447.9ZM182.5,420.0 183.9,421.4 188.3,419.8 189.6,417.4 182.6,413.1ZM183.7,426.0 191.0,426.6 191.2,426.2 188.3,419.8 183.9,421.4 183.6,425.8Z" fill="#d31219" stroke="#de4848" stroke-width="0.3" stroke-linejoin="round"/>
<g clip-path="url(#chinaclip)">
<polygon points="78.6,438.0 93.0,441.9 99.0,443.4 110.0,444.1 118.8,445.6 125.0,446.0 125.0,452.0 116.0,456.0 108.0,459.0 98.0,461.3 86.0,461.3 80.0,458.0" fill="#fde8da" stroke="#c4b3a8" stroke-width="0.35" stroke-linejoin="round"/>
<polygon points="24.0,448.2 46.5,448.2 46.5,466.0 40.0,468.0 30.0,466.5 25.0,461.0" fill="#f5bfa2" stroke="#e6b9a3" stroke-width="0.35" stroke-linejoin="round"/>
<polygon points="33.4,435.0 41.0,435.0 46.5,435.5 52.3,436.0 52.3,448.2 46.5,448.2 33.4,448.2" fill="#f5bfa2" stroke="#e6b9a3" stroke-width="0.35" stroke-linejoin="round"/>
<polygon points="46.5,435.5 52.3,436.0 56.7,436.5 65.5,436.5 65.5,448.2 80.0,448.2 80.0,455.0 74.0,461.0 68.0,464.0 62.0,468.6 52.0,468.0 46.5,466.0 46.5,448.2" fill="#f5bfa2" stroke="#e6b9a3" stroke-width="0.35" stroke-linejoin="round"/>
<polygon points="43.6,424.8 56.7,434.3 41.4,435.0" fill="#f5bfa2" stroke="#e6b9a3" stroke-width="0.35" stroke-linejoin="round"/>
<polygon points="16.7,441.5 19.6,440.2 27.0,440.8 35.7,441.5 33.0,446.0 30.5,450.2 24.0,452.4 23.2,459.5 19.0,455.0 16.7,450.9 14.5,446.0" fill="#ec8e70" stroke="#f3b8a2" stroke-width="0.35" stroke-linejoin="round"/>
<polygon points="59.0,431.0 68.0,431.0 68.0,435.5 59.0,435.5" fill="#ec8e70" stroke="#f3b8a2" stroke-width="0.35" stroke-linejoin="round"/>
</g>
<polygon points="14.4,440.5 15.2,438.8 16.6,437.6 18.2,437.6 19.8,437.4 21.4,437.1 23.0,436.6 24.6,436.8 26.4,436.8 28.2,436.6 29.9,436.0 31.6,435.7 33.4,435.4 34.7,434.4 36.1,433.4 37.7,433.1 39.3,432.5 40.7,431.7 40.6,429.8 41.7,428.1 41.5,426.2 42.1,424.4 43.7,423.6 45.2,422.8 47.2,423.3 48.7,422.2 50.2,420.9 51.6,419.6 52.6,417.9 53.8,416.4 55.3,415.5 57.1,415.5 58.7,415.3 60.4,414.9 61.6,413.2 63.3,412.0 65.7,411.7 67.7,410.5 69.6,411.9 71.3,413.5 73.0,415.1 74.2,417.1 74.9,418.8 76.5,419.8 77.2,421.5 76.7,423.3 77.3,425.1 77.1,427.0 77.2,428.8 79.0,429.2 80.7,429.9 82.5,430.2 84.3,430.6 85.9,431.7 86.7,433.4 88.3,434.5 89.0,436.3 90.3,437.6 91.5,438.9 91.8,440.8 93.2,441.9 95.1,442.8 97.1,443.2 99.1,443.4 100.9,443.8 102.7,443.7 104.5,444.0 106.4,443.5 108.2,444.0 110.0,444.1 111.7,444.8 113.6,444.4 115.2,445.5 117.0,445.7 118.8,445.6 120.5,445.1 122.2,444.6 124.0,444.2 125.7,443.7 127.5,443.4 129.7,443.2 131.4,441.8 133.4,441.2 134.3,439.6 135.6,438.3 137.4,437.5 138.5,436.1 139.4,434.4 139.2,432.4 140.6,431.5 142.1,430.6 143.6,429.7 145.0,428.8 146.9,428.5 148.6,427.4 150.5,427.3 152.3,426.6 153.8,425.9 155.3,425.3 156.5,424.1 158.0,423.4 159.6,423.0 161.3,421.4 163.3,420.0 161.5,419.4 159.6,419.9 157.8,419.5 156.0,419.7 154.1,419.9 152.3,419.3 150.8,418.1 150.1,416.4 150.9,414.8 151.4,413.1 151.6,411.3 153.3,410.9 155.0,411.0 156.7,410.5 157.8,409.2 158.9,407.8 159.9,406.4 160.4,404.7 160.0,402.8 160.4,400.8 159.6,398.9 159.7,397.0 158.9,395.2 160.6,394.6 162.5,394.1 164.0,393.0 165.8,392.8 167.6,392.5 169.4,392.2 171.3,392.3 173.0,393.4 175.0,393.8 176.1,395.1 176.9,396.5 177.2,398.1 178.4,399.8 179.9,401.2 181.5,402.5 183.0,403.5 184.2,404.7 185.9,405.4 188.0,405.4 189.9,406.1 191.8,406.9 193.7,406.4 195.7,406.3 197.6,406.2 199.4,405.1 201.3,404.3 203.4,404.0 204.9,405.4 204.8,407.4 204.0,409.3 204.2,411.3 203.0,412.8 202.5,414.6 202.0,416.4 201.3,418.6 200.5,420.8 200.6,422.5 199.6,424.0 199.9,425.7 199.8,427.3 198.7,428.6 198.4,430.5 197.3,431.9 196.1,433.2 194.5,433.9 193.1,434.9 191.8,436.1 189.9,437.6 188.7,439.6 187.6,441.4 186.8,443.4 185.7,445.2 184.8,446.5 183.6,447.7 183.1,449.3 181.6,450.0 180.0,450.3 178.2,451.8 176.5,453.4 175.1,454.6 173.4,455.4 173.9,453.7 173.9,451.9 173.6,449.8 174.4,447.8 172.4,447.3 171.2,448.4 170.3,449.8 168.5,450.4 167.3,451.9 166.7,453.7 165.2,454.9 163.9,455.9 162.7,457.0 161.5,458.3 163.5,459.5 165.0,460.2 166.6,460.6 167.4,462.1 168.8,463.2 170.2,462.0 171.4,460.6 174.5,461.1 176.1,461.0 177.7,461.3 179.3,461.5 177.5,463.3 175.4,464.2 174.0,465.9 171.8,468.1 170.6,469.4 170.1,471.1 169.6,473.3 171.4,474.6 174.0,476.4 175.3,478.0 175.8,479.9 177.3,481.2 178.0,483.0 179.6,484.2 180.6,486.0 181.5,488.7 180.6,490.9 182.8,492.2 181.9,495.2 182.3,498.0 181.6,500.1 180.1,501.7 179.7,503.5 179.5,505.5 178.6,507.2 177.4,508.9 176.8,510.9 176.2,512.8 175.5,514.5 174.1,515.7 173.2,517.3 172.0,518.6 170.8,519.9 169.7,521.5 168.5,522.8 167.0,523.9 165.6,525.2 163.8,526.0 162.0,526.6 160.5,527.8 159.0,528.2 157.6,529.2 155.9,529.2 153.9,529.7 151.9,530.3 150.1,531.4 148.0,531.9 146.1,532.6 144.2,533.6 143.1,535.4 141.3,536.5 139.1,538.0 138.7,536.2 138.4,534.3 136.4,534.5 134.6,533.5 132.6,533.6 130.5,533.2 128.7,531.9 126.7,531.4 125.1,530.9 123.9,529.7 122.3,529.2 120.6,529.5 118.9,530.0 117.1,529.7 115.4,530.0 113.6,529.9 111.5,530.2 109.7,531.6 107.7,532.1 107.0,533.5 106.3,535.0 104.1,534.2 101.9,533.6 100.7,532.4 98.8,532.5 97.6,531.3 96.1,530.7 95.6,529.0 95.3,527.2 94.6,525.5 93.5,523.7 91.5,522.8 90.2,521.2 90.7,519.5 90.8,517.8 91.0,516.1 91.8,514.3 92.0,512.3 93.5,510.8 93.9,508.8 93.0,507.3 91.2,506.7 89.9,505.7 88.8,504.4 86.8,504.2 85.0,505.5 83.0,505.4 81.2,506.3 79.2,506.8 77.2,506.8 75.2,506.7 73.2,507.1 71.3,507.6 69.3,506.9 67.5,506.0 65.5,505.4 63.6,505.5 61.9,504.5 60.0,504.3 58.2,503.9 56.7,503.2 55.2,502.6 53.8,501.8 52.2,501.3 50.9,500.3 49.1,499.5 47.9,498.0 46.3,497.0 45.2,495.4 43.6,494.4 42.4,493.0 40.8,491.9 39.2,491.0 37.6,490.0 36.3,488.6 34.8,487.8 33.4,486.9 32.0,485.8 30.7,484.6 29.0,484.2 27.6,483.2 26.8,481.7 25.7,480.4 24.6,479.1 24.5,477.4 24.3,475.7 23.8,474.1 23.1,472.5 23.5,470.8 24.0,469.1 24.2,467.3 24.7,465.6 24.6,463.8 24.1,461.6 23.1,459.5 22.2,457.9 20.7,456.7 20.2,454.8 18.8,453.6 17.9,451.8 17.4,449.9 16.9,448.0 15.8,446.3 15.8,444.2 15.4,442.3" fill="none" stroke="#35323f" stroke-width="0.6" stroke-linejoin="round"/>
<ellipse cx="138.6" cy="544.3" rx="5.0" ry="4.2" fill="#e9e9e9" stroke="#6a6a6a" stroke-width="0.6"/>
<path d="M135,543 L141,541 M135,546 L142,544 M137,548 L142,546" stroke="#9a9a9a" stroke-width="0.4"/>
<path d="M185.6,512.6 C186.6,514.5 185.8,519 184.6,522.5 C183.8,525 183.4,527.4 182.6,527.2 C180.8,525.5 179.6,523 180.2,520 C180.9,516.5 183.0,513.2 185.6,512.6Z" fill="#fff" stroke="#555" stroke-width="0.6"/>
<line x1="189.4" y1="515.2" x2="189.0" y2="519.0" stroke="#b0aae8" stroke-width="2.4" filter="url(#blur1)"/>
<line x1="189.4" y1="515.2" x2="189.0" y2="519.0" stroke="#8680cc" stroke-width="1.1"/>
<line x1="185.1" y1="530.1" x2="186.9" y2="533.3" stroke="#b0aae8" stroke-width="2.4" filter="url(#blur1)"/>
<line x1="185.1" y1="530.1" x2="186.9" y2="533.3" stroke="#8680cc" stroke-width="1.1"/>
<line x1="179.2" y1="542.6" x2="180.2" y2="546.2" stroke="#b0aae8" stroke-width="2.4" filter="url(#blur1)"/>
<line x1="179.2" y1="542.6" x2="180.2" y2="546.2" stroke="#8680cc" stroke-width="1.1"/>
<line x1="178.4" y1="555.9" x2="178.4" y2="559.7" stroke="#b0aae8" stroke-width="2.4" filter="url(#blur1)"/>
<line x1="178.4" y1="555.9" x2="178.4" y2="559.7" stroke="#8680cc" stroke-width="1.1"/>
<line x1="178.2" y1="573.7" x2="179.2" y2="577.3" stroke="#b0aae8" stroke-width="2.4" filter="url(#blur1)"/>
<line x1="178.2" y1="573.7" x2="179.2" y2="577.3" stroke="#8680cc" stroke-width="1.1"/>
<line x1="164.8" y1="592.8" x2="167.8" y2="595.2" stroke="#b0aae8" stroke-width="2.4" filter="url(#blur1)"/>
<line x1="164.8" y1="592.8" x2="167.8" y2="595.2" stroke="#8680cc" stroke-width="1.1"/>
<line x1="150.5" y1="611.2" x2="154.3" y2="611.8" stroke="#b0aae8" stroke-width="2.4" filter="url(#blur1)"/>
<line x1="150.5" y1="611.2" x2="154.3" y2="611.8" stroke="#8680cc" stroke-width="1.1"/>
<line x1="132.6" y1="597.1" x2="132.0" y2="600.9" stroke="#b0aae8" stroke-width="2.4" filter="url(#blur1)"/>
<line x1="132.6" y1="597.1" x2="132.0" y2="600.9" stroke="#8680cc" stroke-width="1.1"/>
<line x1="141.0" y1="574.0" x2="141.0" y2="577.8" stroke="#b0aae8" stroke-width="2.4" filter="url(#blur1)"/>
<line x1="141.0" y1="574.0" x2="141.0" y2="577.8" stroke="#8680cc" stroke-width="1.1"/>
<line x1="138.9" y1="558.1" x2="136.7" y2="561.3" stroke="#b0aae8" stroke-width="2.4" filter="url(#blur1)"/>
<line x1="138.9" y1="558.1" x2="136.7" y2="561.3" stroke="#8680cc" stroke-width="1.1"/>
<rect x="163.6" y="534.5" width="0.9" height="0.9" fill="#666"/>
<rect x="167.0" y="535.6" width="0.9" height="0.9" fill="#666"/>
<rect x="191.5" y="508.5" width="0.9" height="0.9" fill="#666"/>
<rect x="194.8" y="507.8" width="0.9" height="0.9" fill="#666"/>
<rect x="173.3" y="559.7" width="0.9" height="0.9" fill="#666"/>
<rect x="176.3" y="556.0" width="0.9" height="0.9" fill="#666"/>
<rect x="180.0" y="526.0" width="0.9" height="0.9" fill="#666"/>
<rect x="181.0" y="510.5" width="0.9" height="0.9" fill="#666"/>
<rect x="150.9" y="553.9" width="0.9" height="0.9" fill="#666"/>
<rect x="155.8" y="553.4" width="0.9" height="0.9" fill="#666"/>
<rect x="154.0" y="555.2" width="0.9" height="0.9" fill="#666"/>
<rect x="146.9" y="556.0" width="0.9" height="0.9" fill="#666"/>
<rect x="146.6" y="555.6" width="0.9" height="0.9" fill="#666"/>
<rect x="147.0" y="553.5" width="0.9" height="0.9" fill="#666"/>
<rect x="152.4" y="558.0" width="0.9" height="0.9" fill="#666"/>
<rect x="147.9" y="554.3" width="0.9" height="0.9" fill="#666"/>
<rect x="155.4" y="558.7" width="0.9" height="0.9" fill="#666"/>
<rect x="154.7" y="555.4" width="0.9" height="0.9" fill="#666"/>
<rect x="160.6" y="553.3" width="0.9" height="0.9" fill="#666"/>
<rect x="158.9" y="554.7" width="0.9" height="0.9" fill="#666"/>
<rect x="164.3" y="575.5" width="0.9" height="0.9" fill="#666"/>
<rect x="146.8" y="598.6" width="0.9" height="0.9" fill="#666"/>
<rect x="153.5" y="592.7" width="0.9" height="0.9" fill="#666"/>
<rect x="165.9" y="572.2" width="0.9" height="0.9" fill="#666"/>
<rect x="152.9" y="592.7" width="0.9" height="0.9" fill="#666"/>
<rect x="155.7" y="589.5" width="0.9" height="0.9" fill="#666"/>
<rect x="152.5" y="595.9" width="0.9" height="0.9" fill="#666"/>
<rect x="156.7" y="592.6" width="0.9" height="0.9" fill="#666"/>
<rect x="150.2" y="598.2" width="0.9" height="0.9" fill="#666"/>
<rect x="168.0" y="577.3" width="0.9" height="0.9" fill="#666"/>
<rect x="167.8" y="574.1" width="0.9" height="0.9" fill="#666"/>
<rect x="156.6" y="593.8" width="0.9" height="0.9" fill="#666"/>
<rect x="146.5" y="601.2" width="0.9" height="0.9" fill="#666"/>
<rect x="156.8" y="590.8" width="0.9" height="0.9" fill="#666"/>
<rect x="153.8" y="598.7" width="0.9" height="0.9" fill="#666"/>
<rect x="149.7" y="594.5" width="0.9" height="0.9" fill="#666"/>
<rect x="159.5" y="594.6" width="0.9" height="0.9" fill="#666"/>
<rect x="163.2" y="582.1" width="0.9" height="0.9" fill="#666"/>
<rect x="171.0" y="570.7" width="0.9" height="0.9" fill="#666"/>
<rect x="164.4" y="577.4" width="0.9" height="0.9" fill="#666"/>
<rect x="166.0" y="575.5" width="0.9" height="0.9" fill="#666"/>
<rect x="144.3" y="599.6" width="0.9" height="0.9" fill="#666"/>
<rect x="161.0" y="591.5" width="0.9" height="0.9" fill="#666"/>
<rect x="146.5" y="599.1" width="0.9" height="0.9" fill="#666"/>
<rect x="166.2" y="586.2" width="0.9" height="0.9" fill="#666"/>
<rect x="164.7" y="575.2" width="0.9" height="0.9" fill="#666"/>
<rect x="165.5" y="580.0" width="0.9" height="0.9" fill="#666"/>
<rect x="159.9" y="579.9" width="0.9" height="0.9" fill="#666"/>
<rect x="162.7" y="586.5" width="0.9" height="0.9" fill="#666"/>
<rect x="153.5" y="594.8" width="0.9" height="0.9" fill="#666"/>
<rect x="149.3" y="596.0" width="0.9" height="0.9" fill="#666"/>
<rect x="154.7" y="598.7" width="0.9" height="0.9" fill="#666"/>
<rect x="160.4" y="582.2" width="0.9" height="0.9" fill="#666"/>
<rect x="150.5" y="589.7" width="0.9" height="0.9" fill="#666"/>
</g>
<text x="116.70" y="420.20" font-size="10.2" text-anchor="middle" fill="#1a1a1a" >1978</text>
<text x="354.50" y="424.20" font-size="10.2" text-anchor="middle" fill="#1a1a1a" >2000</text>
<text x="585.40" y="424.80" font-size="10.2" text-anchor="middle" fill="#1a1a1a" >2020</text>
<text x="16.00" y="533.40" font-size="10.3" text-anchor="start" fill="#1a1a1a" >0</text>
<text x="34.00" y="533.40" font-size="10.3" text-anchor="start" fill="#1a1a1a" >500</text>
<text x="58.50" y="533.40" font-size="10.3" text-anchor="start" fill="#1a1a1a" >1000</text>
<line x1="23.40" y1="537.70" x2="42.80" y2="537.70" stroke="#111" stroke-width="1.9" />
<line x1="42.80" y1="537.70" x2="62.00" y2="537.70" stroke="#c4c4c4" stroke-width="1.9" />
<text x="70.00" y="542.00" font-size="10.2" text-anchor="start" fill="#1a1a1a" >km</text>
<rect x="16.10" y="564.50" width="9.20" height="4.42" fill="#fdeae2" stroke="none" stroke-width="0" />
<rect x="16.10" y="568.87" width="9.20" height="4.42" fill="#f8c5b8" stroke="none" stroke-width="0" />
<rect x="16.10" y="573.24" width="9.20" height="4.42" fill="#ef6f72" stroke="none" stroke-width="0" />
<rect x="16.10" y="577.61" width="9.20" height="4.42" fill="#e3303d" stroke="none" stroke-width="0" />
<rect x="16.10" y="581.98" width="9.20" height="4.42" fill="#d60b1e" stroke="none" stroke-width="0" />
<line x1="26.10" y1="566.70" x2="28.90" y2="566.70" stroke="#3a3a6a" stroke-width="0.9" />
<line x1="26.10" y1="584.35" x2="28.90" y2="584.35" stroke="#3a3a6a" stroke-width="0.9" />
<text x="31.50" y="568.90" font-size="10.6" text-anchor="start" fill="#1a1a1a" >Bottom 20%</text>
<text x="31.90" y="586.50" font-size="10.6" text-anchor="start" fill="#1a1a1a" >Top 20%</text>
<rect x="13.7" y="593.6" width="16.4" height="8.2" rx="1" fill="#fff" stroke="#777" stroke-width="0.9"/>
<text x="36.40" y="601.00" font-size="10.6" text-anchor="start" fill="#1a1a1a" >No data</text>
<text x="252.60" y="534.20" font-size="10.3" text-anchor="start" fill="#1a1a1a" >0</text>
<text x="270.60" y="534.20" font-size="10.3" text-anchor="start" fill="#1a1a1a" >500</text>
<text x="295.10" y="534.20" font-size="10.3" text-anchor="start" fill="#1a1a1a" >1000</text>
<line x1="262.80" y1="538.50" x2="282.20" y2="538.50" stroke="#111" stroke-width="1.9" />
<line x1="282.20" y1="538.50" x2="301.40" y2="538.50" stroke="#c4c4c4" stroke-width="1.9" />
<rect x="266.20" y="558.20" width="9.20" height="4.42" fill="#fdeae2" stroke="none" stroke-width="0" />
<rect x="266.20" y="562.57" width="9.20" height="4.42" fill="#f8c5b8" stroke="none" stroke-width="0" />
<rect x="266.20" y="566.94" width="9.20" height="4.42" fill="#ef6f72" stroke="none" stroke-width="0" />
<rect x="266.20" y="571.31" width="9.20" height="4.42" fill="#e3303d" stroke="none" stroke-width="0" />
<rect x="266.20" y="575.68" width="9.20" height="4.42" fill="#d60b1e" stroke="none" stroke-width="0" />
<line x1="276.20" y1="560.40" x2="279.00" y2="560.40" stroke="#3a3a6a" stroke-width="0.9" />
<line x1="276.20" y1="578.05" x2="279.00" y2="578.05" stroke="#3a3a6a" stroke-width="0.9" />
<text x="281.60" y="563.40" font-size="10.6" text-anchor="start" fill="#1a1a1a" >Bottom 20%</text>
<text x="282.00" y="581.60" font-size="10.6" text-anchor="start" fill="#1a1a1a" >Top 20%</text>
<rect x="263.8" y="587.3" width="16.4" height="8.2" rx="1" fill="#fff" stroke="#777" stroke-width="0.9"/>
<text x="286.50" y="594.70" font-size="10.6" text-anchor="start" fill="#1a1a1a" >No data</text>
<text x="476.20" y="525.30" font-size="10.3" text-anchor="start" fill="#1a1a1a" >0</text>
<text x="494.20" y="525.30" font-size="10.3" text-anchor="start" fill="#1a1a1a" >500</text>
<text x="518.70" y="525.30" font-size="10.3" text-anchor="start" fill="#1a1a1a" >1000</text>
<line x1="486.10" y1="530.40" x2="505.50" y2="530.40" stroke="#111" stroke-width="1.9" />
<line x1="505.50" y1="530.40" x2="524.70" y2="530.40" stroke="#c4c4c4" stroke-width="1.9" />
<rect x="487.80" y="552.30" width="9.20" height="4.42" fill="#fdeae2" stroke="none" stroke-width="0" />
<rect x="487.80" y="556.67" width="9.20" height="4.42" fill="#f8c5b8" stroke="none" stroke-width="0" />
<rect x="487.80" y="561.04" width="9.20" height="4.42" fill="#ef6f72" stroke="none" stroke-width="0" />
<rect x="487.80" y="565.41" width="9.20" height="4.42" fill="#e3303d" stroke="none" stroke-width="0" />
<rect x="487.80" y="569.78" width="9.20" height="4.42" fill="#d60b1e" stroke="none" stroke-width="0" />
<line x1="497.80" y1="554.50" x2="500.60" y2="554.50" stroke="#3a3a6a" stroke-width="0.9" />
<line x1="497.80" y1="572.15" x2="500.60" y2="572.15" stroke="#3a3a6a" stroke-width="0.9" />
<text x="503.20" y="557.00" font-size="10.6" text-anchor="start" fill="#1a1a1a" >Bottom 20%</text>
<text x="503.60" y="575.40" font-size="10.6" text-anchor="start" fill="#1a1a1a" >Top 20%</text>
<rect x="485.4" y="581.4" width="16.4" height="8.2" rx="1" fill="#fff" stroke="#777" stroke-width="0.9"/>
<text x="508.10" y="589.60" font-size="10.6" text-anchor="start" fill="#1a1a1a" >No data</text>
</svg></body></html>
